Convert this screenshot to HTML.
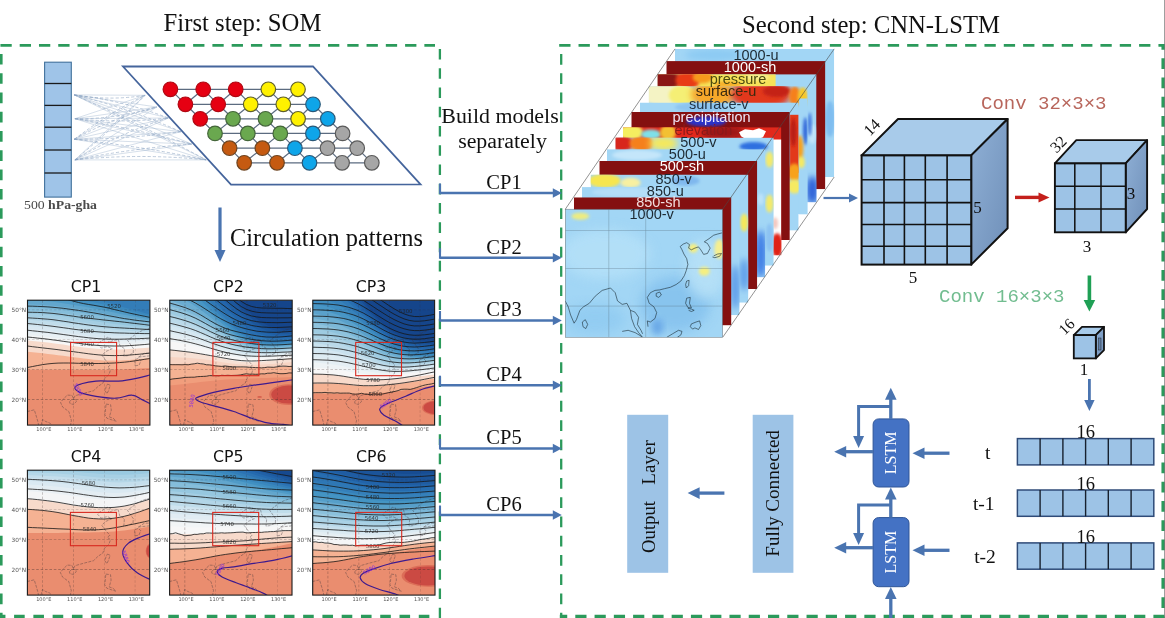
<!DOCTYPE html>
<html><head><meta charset="utf-8"><title>SOM and CNN-LSTM workflow</title>
<style>
html,body{margin:0;padding:0;background:#fff;}
body{width:1165px;height:618px;overflow:hidden;}
svg{display:block;}
.ts{font-family:"Liberation Serif",serif;fill:#111;}
.dj{font-family:"DejaVu Sans","Liberation Sans",sans-serif;fill:#111;}
.ls{font-family:"Liberation Sans",sans-serif;}
.mono{font-family:"Liberation Mono",monospace;}
</style></head><body>
<svg width="1165" height="618" viewBox="0 0 1165 618">
<!-- p_frame -->
<text class="ts" x="242.5" y="31" font-size="24.7" text-anchor="middle">First step: SOM</text>
<text class="ts" x="871" y="33" font-size="24.7" text-anchor="middle">Second step: CNN-LSTM</text>
<g fill="none" stroke="#2b9a5b">
<line x1="0" y1="45.3" x2="435" y2="45.3" stroke-width="2.7" stroke-dasharray="11.3 7.97" stroke-dashoffset="18.84"/>
<line x1="559.2" y1="45.3" x2="1165" y2="45.3" stroke-width="2.7" stroke-dasharray="11.3 8.03" stroke-dashoffset="0"/>
<line x1="1" y1="54" x2="1" y2="618" stroke-width="3.2" stroke-dasharray="10.6 8.67" stroke-dashoffset="0"/>
<line x1="0" y1="616.5" x2="430.2" y2="616.5" stroke-width="3.5" stroke-dasharray="10.6 8.67" stroke-dashoffset="5.17"/>
<line x1="559.8" y1="616.5" x2="1165" y2="616.5" stroke-width="3.5" stroke-dasharray="11.2 8.07" stroke-dashoffset="3.77"/>
<line x1="1163.3" y1="46" x2="1163.3" y2="618" stroke-width="3.7" stroke-dasharray="10.8 8.45" stroke-dashoffset="6.95"/>
<line x1="439.9" y1="48.9" x2="439.9" y2="618" stroke-width="2.3" stroke-dasharray="10.6 8.67" stroke-dashoffset="0"/>
<line x1="561.2" y1="54" x2="561.2" y2="618" stroke-width="2.3" stroke-dasharray="10.8 8.47" stroke-dashoffset="0"/>
</g>
<line x1="1164.6" y1="0" x2="1164.6" y2="618" stroke="#7a7a7a" stroke-width="0.8"/>
<text class="ts" x="500" y="122.6" font-size="21.9" text-anchor="middle">Build models</text>
<text class="ts" x="502.5" y="148" font-size="21.9" text-anchor="middle">separately</text>
<line x1="440" y1="193" x2="553.8" y2="193" stroke="#4a74b0" stroke-width="2.5"/><polygon points="561.8,193 552.8,188.25 552.8,197.75" fill="#4a74b0"/>
<line x1="440" y1="183.5" x2="440" y2="194" stroke="#4a74b0" stroke-width="2.1"/>
<text class="ts" x="504" y="188.7" font-size="20.5" text-anchor="middle">CP1</text>
<line x1="440" y1="257.8" x2="553.8" y2="257.8" stroke="#4a74b0" stroke-width="2.5"/><polygon points="561.8,257.8 552.8,253.05 552.8,262.55" fill="#4a74b0"/>
<line x1="440" y1="248.3" x2="440" y2="258.8" stroke="#4a74b0" stroke-width="2.1"/>
<text class="ts" x="504" y="253.5" font-size="20.5" text-anchor="middle">CP2</text>
<line x1="440" y1="320.5" x2="553.8" y2="320.5" stroke="#4a74b0" stroke-width="2.5"/><polygon points="561.8,320.5 552.8,315.75 552.8,325.25" fill="#4a74b0"/>
<line x1="440" y1="311" x2="440" y2="321.5" stroke="#4a74b0" stroke-width="2.1"/>
<text class="ts" x="504" y="316.2" font-size="20.5" text-anchor="middle">CP3</text>
<line x1="440" y1="385.2" x2="553.8" y2="385.2" stroke="#4a74b0" stroke-width="2.5"/><polygon points="561.8,385.2 552.8,380.45 552.8,389.95" fill="#4a74b0"/>
<line x1="440" y1="375.7" x2="440" y2="386.2" stroke="#4a74b0" stroke-width="2.1"/>
<text class="ts" x="504" y="380.9" font-size="20.5" text-anchor="middle">CP4</text>
<line x1="440" y1="448.5" x2="553.8" y2="448.5" stroke="#4a74b0" stroke-width="2.5"/><polygon points="561.8,448.5 552.8,443.75 552.8,453.25" fill="#4a74b0"/>
<line x1="440" y1="439" x2="440" y2="449.5" stroke="#4a74b0" stroke-width="2.1"/>
<text class="ts" x="504" y="444.2" font-size="20.5" text-anchor="middle">CP5</text>
<line x1="440" y1="515" x2="553.8" y2="515" stroke="#4a74b0" stroke-width="2.5"/><polygon points="561.8,515 552.8,510.25 552.8,519.75" fill="#4a74b0"/>
<line x1="440" y1="505.5" x2="440" y2="516" stroke="#4a74b0" stroke-width="2.1"/>
<text class="ts" x="504" y="510.7" font-size="20.5" text-anchor="middle">CP6</text>
<!-- p_som -->
<rect x="44.6" y="62.2" width="26.7" height="134.9" fill="#9fc4e8" stroke="#41719c" stroke-width="1.1"/>
<line x1="44.6" y1="83.5" x2="71.3" y2="83.5" stroke="#1a1a1a" stroke-width="1.3"/>
<line x1="44.6" y1="105.4" x2="71.3" y2="105.4" stroke="#1a1a1a" stroke-width="1.3"/>
<line x1="44.6" y1="127.2" x2="71.3" y2="127.2" stroke="#1a1a1a" stroke-width="1.3"/>
<line x1="44.6" y1="150" x2="71.3" y2="150" stroke="#1a1a1a" stroke-width="1.3"/>
<line x1="44.6" y1="173" x2="71.3" y2="173" stroke="#1a1a1a" stroke-width="1.3"/>
<text class="ts" x="24" y="208.6" font-size="12.8" style="fill:#4a4a4a" textLength="73" lengthAdjust="spacingAndGlyphs">500 <tspan font-weight="bold">hPa-gha</tspan></text>
<g fill="none" stroke="#8da6c6" stroke-width="0.5" opacity="0.9">
<path d="M74.2 94.9 L145.1 95.3" stroke-width="0.4"/>
<path d="M74.2 94.9 Q109.65 101.067 145.1 95.3" stroke="#6f8cb3" stroke-dasharray="3.2 2"/>
<path d="M74.2 94.9 L156.8 107" stroke-width="0.4"/>
<path d="M74.2 94.9 L168.4 118" stroke-width="0.4"/>
<path d="M74.2 94.9 Q121.3 100.089 168.4 118" stroke="#6f8cb3" stroke-dasharray="3.2 2"/>
<path d="M74.2 94.9 L180.8 131.7" stroke-width="0.4"/>
<path d="M74.2 94.9 Q127.5 107.704 180.8 131.7" stroke="#6f8cb3" stroke-dasharray="3.2 2"/>
<path d="M74.2 94.9 L191.8 144.1" stroke-width="0.4"/>
<path d="M74.2 94.9 L206.2 159.9" stroke-width="0.4"/>
<path d="M74.2 94.9 Q140.2 123.947 206.2 159.9" stroke="#6f8cb3" stroke-dasharray="3.2 2"/>
<path d="M74.9 118.7 L145.1 95.3" stroke-width="0.4"/>
<path d="M74.9 118.7 L156.8 107" stroke-width="0.4"/>
<path d="M74.9 118.7 Q115.85 119.324 156.8 107" stroke="#6f8cb3" stroke-dasharray="3.2 2"/>
<path d="M74.9 118.7 L168.4 118" stroke-width="0.4"/>
<path d="M74.9 118.7 Q121.65 123.525 168.4 118" stroke="#6f8cb3" stroke-dasharray="3.2 2"/>
<path d="M74.9 118.7 L180.8 131.7" stroke-width="0.4"/>
<path d="M74.9 118.7 L191.8 144.1" stroke-width="0.4"/>
<path d="M74.9 118.7 Q133.35 128.348 191.8 144.1" stroke="#6f8cb3" stroke-dasharray="3.2 2"/>
<path d="M74.9 118.7 L206.2 159.9" stroke-width="0.4"/>
<path d="M74.2 139.3 L145.1 95.3" stroke-width="0.4"/>
<path d="M74.2 139.3 Q109.65 112.667 145.1 95.3" stroke="#6f8cb3" stroke-dasharray="3.2 2"/>
<path d="M74.2 139.3 L156.8 107" stroke-width="0.4"/>
<path d="M74.2 139.3 Q115.5 116.485 156.8 107" stroke="#6f8cb3" stroke-dasharray="3.2 2"/>
<path d="M74.2 139.3 L168.4 118" stroke-width="0.4"/>
<path d="M74.2 139.3 L180.8 131.7" stroke-width="0.4"/>
<path d="M74.2 139.3 Q127.5 139.138 180.8 131.7" stroke="#6f8cb3" stroke-dasharray="3.2 2"/>
<path d="M74.2 139.3 L191.8 144.1" stroke-width="0.4"/>
<path d="M74.2 139.3 L206.2 159.9" stroke-width="0.4"/>
<path d="M74.2 139.3 Q140.2 146.045 206.2 159.9" stroke="#6f8cb3" stroke-dasharray="3.2 2"/>
<path d="M74.9 159.9 L145.1 95.3" stroke-width="0.4"/>
<path d="M74.9 159.9 Q110 131.107 145.1 95.3" stroke="#6f8cb3" stroke-dasharray="3.2 2"/>
<path d="M74.9 159.9 L156.8 107" stroke-width="0.4"/>
<path d="M74.9 159.9 L168.4 118" stroke-width="0.4"/>
<path d="M74.9 159.9 Q121.65 132.061 168.4 118" stroke="#6f8cb3" stroke-dasharray="3.2 2"/>
<path d="M74.9 159.9 L180.8 131.7" stroke-width="0.4"/>
<path d="M74.9 159.9 L191.8 144.1" stroke-width="0.4"/>
<path d="M74.9 159.9 Q133.35 148.162 191.8 144.1" stroke="#6f8cb3" stroke-dasharray="3.2 2"/>
<path d="M74.9 159.9 L206.2 159.9" stroke-width="0.4"/>
<path d="M74.9 159.9 Q140.55 153.059 206.2 159.9" stroke="#6f8cb3" stroke-dasharray="3.2 2"/>
</g>
<polygon points="123,66.5 313,66.5 420.5,184.3 231,184.6" fill="#fff" stroke="#45659c" stroke-width="1.8" stroke-linejoin="miter"/>
<g stroke="#5b6b80" stroke-width="1.2">
<line x1="170.4" y1="89.3" x2="298" y2="89.3"/>
<line x1="185.4" y1="104.3" x2="313" y2="104.3"/>
<line x1="200.2" y1="118.8" x2="327.8" y2="118.8"/>
<line x1="215" y1="133.4" x2="342.6" y2="133.4"/>
<line x1="229.6" y1="148.2" x2="357.2" y2="148.2"/>
<line x1="244.2" y1="162.8" x2="371.8" y2="162.8"/>
<line x1="170.4" y1="89.3" x2="185.4" y2="104.3"/>
<line x1="203.2" y1="89.3" x2="218.2" y2="104.3"/>
<line x1="203.2" y1="89.3" x2="185.4" y2="104.3"/>
<line x1="235.7" y1="89.3" x2="250.7" y2="104.3"/>
<line x1="235.7" y1="89.3" x2="218.2" y2="104.3"/>
<line x1="268.3" y1="89.3" x2="283.3" y2="104.3"/>
<line x1="268.3" y1="89.3" x2="250.7" y2="104.3"/>
<line x1="298" y1="89.3" x2="313" y2="104.3"/>
<line x1="298" y1="89.3" x2="283.3" y2="104.3"/>
<line x1="185.4" y1="104.3" x2="200.2" y2="118.8"/>
<line x1="218.2" y1="104.3" x2="233" y2="118.8"/>
<line x1="218.2" y1="104.3" x2="200.2" y2="118.8"/>
<line x1="250.7" y1="104.3" x2="265.5" y2="118.8"/>
<line x1="250.7" y1="104.3" x2="233" y2="118.8"/>
<line x1="283.3" y1="104.3" x2="298.1" y2="118.8"/>
<line x1="283.3" y1="104.3" x2="265.5" y2="118.8"/>
<line x1="313" y1="104.3" x2="327.8" y2="118.8"/>
<line x1="313" y1="104.3" x2="298.1" y2="118.8"/>
<line x1="200.2" y1="118.8" x2="215" y2="133.4"/>
<line x1="233" y1="118.8" x2="247.8" y2="133.4"/>
<line x1="233" y1="118.8" x2="215" y2="133.4"/>
<line x1="265.5" y1="118.8" x2="280.3" y2="133.4"/>
<line x1="265.5" y1="118.8" x2="247.8" y2="133.4"/>
<line x1="298.1" y1="118.8" x2="312.9" y2="133.4"/>
<line x1="298.1" y1="118.8" x2="280.3" y2="133.4"/>
<line x1="327.8" y1="118.8" x2="342.6" y2="133.4"/>
<line x1="327.8" y1="118.8" x2="312.9" y2="133.4"/>
<line x1="215" y1="133.4" x2="229.6" y2="148.2"/>
<line x1="247.8" y1="133.4" x2="262.4" y2="148.2"/>
<line x1="247.8" y1="133.4" x2="229.6" y2="148.2"/>
<line x1="280.3" y1="133.4" x2="294.9" y2="148.2"/>
<line x1="280.3" y1="133.4" x2="262.4" y2="148.2"/>
<line x1="312.9" y1="133.4" x2="327.5" y2="148.2"/>
<line x1="312.9" y1="133.4" x2="294.9" y2="148.2"/>
<line x1="342.6" y1="133.4" x2="357.2" y2="148.2"/>
<line x1="342.6" y1="133.4" x2="327.5" y2="148.2"/>
<line x1="229.6" y1="148.2" x2="244.2" y2="162.8"/>
<line x1="262.4" y1="148.2" x2="277" y2="162.8"/>
<line x1="262.4" y1="148.2" x2="244.2" y2="162.8"/>
<line x1="294.9" y1="148.2" x2="309.5" y2="162.8"/>
<line x1="294.9" y1="148.2" x2="277" y2="162.8"/>
<line x1="327.5" y1="148.2" x2="342.1" y2="162.8"/>
<line x1="327.5" y1="148.2" x2="309.5" y2="162.8"/>
<line x1="357.2" y1="148.2" x2="371.8" y2="162.8"/>
<line x1="357.2" y1="148.2" x2="342.1" y2="162.8"/>
</g>
<circle cx="170.4" cy="89.3" r="7.3" fill="#e60012" stroke="#b00812" stroke-width="1.2"/>
<circle cx="203.2" cy="89.3" r="7.3" fill="#e60012" stroke="#b00812" stroke-width="1.2"/>
<circle cx="235.7" cy="89.3" r="7.3" fill="#e60012" stroke="#b00812" stroke-width="1.2"/>
<circle cx="268.3" cy="89.3" r="7.3" fill="#fff100" stroke="#5f5f2a" stroke-width="1.2"/>
<circle cx="298" cy="89.3" r="7.3" fill="#fff100" stroke="#5f5f2a" stroke-width="1.2"/>
<circle cx="185.4" cy="104.3" r="7.3" fill="#e60012" stroke="#b00812" stroke-width="1.2"/>
<circle cx="218.2" cy="104.3" r="7.3" fill="#e60012" stroke="#b00812" stroke-width="1.2"/>
<circle cx="250.7" cy="104.3" r="7.3" fill="#fff100" stroke="#5f5f2a" stroke-width="1.2"/>
<circle cx="283.3" cy="104.3" r="7.3" fill="#fff100" stroke="#5f5f2a" stroke-width="1.2"/>
<circle cx="313" cy="104.3" r="7.3" fill="#0ea5e9" stroke="#2a5878" stroke-width="1.2"/>
<circle cx="200.2" cy="118.8" r="7.3" fill="#e60012" stroke="#b00812" stroke-width="1.2"/>
<circle cx="233" cy="118.8" r="7.3" fill="#6aa84f" stroke="#44663a" stroke-width="1.2"/>
<circle cx="265.5" cy="118.8" r="7.3" fill="#6aa84f" stroke="#44663a" stroke-width="1.2"/>
<circle cx="298.1" cy="118.8" r="7.3" fill="#fff100" stroke="#5f5f2a" stroke-width="1.2"/>
<circle cx="327.8" cy="118.8" r="7.3" fill="#0ea5e9" stroke="#2a5878" stroke-width="1.2"/>
<circle cx="215" cy="133.4" r="7.3" fill="#6aa84f" stroke="#44663a" stroke-width="1.2"/>
<circle cx="247.8" cy="133.4" r="7.3" fill="#6aa84f" stroke="#44663a" stroke-width="1.2"/>
<circle cx="280.3" cy="133.4" r="7.3" fill="#6aa84f" stroke="#44663a" stroke-width="1.2"/>
<circle cx="312.9" cy="133.4" r="7.3" fill="#0ea5e9" stroke="#2a5878" stroke-width="1.2"/>
<circle cx="342.6" cy="133.4" r="7.3" fill="#a6a6a6" stroke="#5a5a5a" stroke-width="1.2"/>
<circle cx="229.6" cy="148.2" r="7.3" fill="#c55a11" stroke="#6e4420" stroke-width="1.2"/>
<circle cx="262.4" cy="148.2" r="7.3" fill="#c55a11" stroke="#6e4420" stroke-width="1.2"/>
<circle cx="294.9" cy="148.2" r="7.3" fill="#0ea5e9" stroke="#2a5878" stroke-width="1.2"/>
<circle cx="327.5" cy="148.2" r="7.3" fill="#a6a6a6" stroke="#5a5a5a" stroke-width="1.2"/>
<circle cx="357.2" cy="148.2" r="7.3" fill="#a6a6a6" stroke="#5a5a5a" stroke-width="1.2"/>
<circle cx="244.2" cy="162.8" r="7.3" fill="#c55a11" stroke="#6e4420" stroke-width="1.2"/>
<circle cx="277" cy="162.8" r="7.3" fill="#c55a11" stroke="#6e4420" stroke-width="1.2"/>
<circle cx="309.5" cy="162.8" r="7.3" fill="#0ea5e9" stroke="#2a5878" stroke-width="1.2"/>
<circle cx="342.1" cy="162.8" r="7.3" fill="#a6a6a6" stroke="#5a5a5a" stroke-width="1.2"/>
<circle cx="371.8" cy="162.8" r="7.3" fill="#a6a6a6" stroke="#5a5a5a" stroke-width="1.2"/>
<line x1="220" y1="207.5" x2="220" y2="251" stroke="#4a74b0" stroke-width="3.2"/><polygon points="220,262 214.5,250 225.5,250" fill="#4a74b0"/>
<text class="ts" x="230" y="245.6" font-size="24.2" textLength="193" lengthAdjust="spacingAndGlyphs">Circulation patterns</text>
<!-- p_maps -->
<clipPath id="cCP1"><rect x="27.5" y="300.2" width="122.4" height="124.9"/></clipPath>
<g clip-path="url(#cCP1)">
<rect x="27.5" y="300.2" width="122.4" height="124.9" fill="#337db8"/>
<path d="M27.5 286.2 L32.6 286.8 L37.7 287.4 L42.8 288.1 L47.9 288.9 L53.0 289.8 L58.1 290.8 L63.2 292.0 L68.3 293.3 L73.4 294.5 L78.5 295.7 L83.6 296.9 L88.7 298.0 L93.8 299.2 L98.9 300.4 L104.0 301.7 L109.1 303.0 L114.2 304.4 L119.3 305.9 L124.4 307.4 L129.5 308.8 L134.6 310.2 L139.7 311.6 L144.8 313.0 L149.9 314.4 L149.9 427.1 L27.5 427.1 Z" fill="#3a87bd"/>
<path d="M27.5 290.7 L32.6 291.2 L37.7 291.7 L42.8 292.3 L47.9 293.0 L53.0 293.8 L58.1 294.7 L63.2 295.7 L68.3 296.8 L73.4 298.0 L78.5 299.1 L83.6 300.1 L88.7 301.2 L93.8 302.3 L98.9 303.4 L104.0 304.6 L109.1 305.9 L114.2 307.2 L119.3 308.5 L124.4 309.8 L129.5 311.1 L134.6 312.3 L139.7 313.6 L144.8 314.8 L149.9 316.0 L149.9 427.1 L27.5 427.1 Z" fill="#4190c2"/>
<path d="M27.5 295.2 L32.6 295.6 L37.7 296.0 L42.8 296.5 L47.9 297.1 L53.0 297.7 L58.1 298.6 L63.2 299.5 L68.3 300.4 L73.4 301.4 L78.5 302.4 L83.6 303.4 L88.7 304.4 L93.8 305.4 L98.9 306.4 L104.0 307.5 L109.1 308.7 L114.2 309.9 L119.3 311.1 L124.4 312.3 L129.5 313.4 L134.6 314.5 L139.7 315.5 L144.8 316.5 L149.9 317.5 L149.9 427.1 L27.5 427.1 Z" fill="#509bc7"/>
<path d="M27.5 299.7 L32.6 300.0 L37.7 300.4 L42.8 300.7 L47.9 301.2 L53.0 301.7 L58.1 302.4 L63.2 303.2 L68.3 304.0 L73.4 304.9 L78.5 305.7 L83.6 306.6 L88.7 307.5 L93.8 308.5 L98.9 309.5 L104.0 310.5 L109.1 311.6 L114.2 312.6 L119.3 313.7 L124.4 314.7 L129.5 315.7 L134.6 316.6 L139.7 317.4 L144.8 318.2 L149.9 319.0 L149.9 427.1 L27.5 427.1 Z" fill="#62a6cd"/>
<path d="M27.5 304.3 L32.6 304.5 L37.7 304.7 L42.8 304.9 L47.9 305.3 L53.0 305.7 L58.1 306.3 L63.2 306.9 L68.3 307.6 L73.4 308.3 L78.5 309.1 L83.6 309.9 L88.7 310.7 L93.8 311.6 L98.9 312.5 L104.0 313.4 L109.1 314.4 L114.2 315.4 L119.3 316.3 L124.4 317.2 L129.5 318.0 L134.6 318.7 L139.7 319.3 L144.8 319.9 L149.9 320.5 L149.9 427.1 L27.5 427.1 Z" fill="#73b2d4"/>
<path d="M27.5 307.4 L32.6 307.6 L37.7 307.8 L42.8 308.1 L47.9 308.5 L53.0 308.9 L58.1 309.5 L63.2 310.1 L68.3 310.8 L73.4 311.5 L78.5 312.3 L83.6 313.1 L88.7 313.9 L93.8 314.7 L98.9 315.5 L104.0 316.4 L109.1 317.3 L114.2 318.2 L119.3 319.1 L124.4 319.9 L129.5 320.6 L134.6 321.2 L139.7 321.7 L144.8 322.3 L149.9 322.7 L149.9 427.1 L27.5 427.1 Z" fill="#85bdda"/>
<path d="M27.5 310.4 L32.6 310.7 L37.7 311.0 L42.8 311.3 L47.9 311.6 L53.0 312.1 L58.1 312.7 L63.2 313.3 L68.3 314.0 L73.4 314.7 L78.5 315.5 L83.6 316.2 L88.7 317.0 L93.8 317.8 L98.9 318.6 L104.0 319.4 L109.1 320.3 L114.2 321.1 L119.3 321.9 L124.4 322.6 L129.5 323.2 L134.6 323.7 L139.7 324.1 L144.8 324.6 L149.9 325.0 L149.9 427.1 L27.5 427.1 Z" fill="#96c7df"/>
<path d="M27.5 313.5 L32.6 313.8 L37.7 314.1 L42.8 314.4 L47.9 314.8 L53.0 315.3 L58.1 315.9 L63.2 316.5 L68.3 317.2 L73.4 317.9 L78.5 318.7 L83.6 319.4 L88.7 320.2 L93.8 320.9 L98.9 321.7 L104.0 322.5 L109.1 323.2 L114.2 324.0 L119.3 324.6 L124.4 325.2 L129.5 325.8 L134.6 326.2 L139.7 326.6 L144.8 326.9 L149.9 327.2 L149.9 427.1 L27.5 427.1 Z" fill="#a4cee3"/>
<path d="M27.5 316.6 L32.6 316.9 L37.7 317.2 L42.8 317.6 L47.9 318.0 L53.0 318.5 L58.1 319.1 L63.2 319.7 L68.3 320.4 L73.4 321.1 L78.5 321.8 L83.6 322.6 L88.7 323.3 L93.8 324.0 L98.9 324.8 L104.0 325.5 L109.1 326.2 L114.2 326.8 L119.3 327.4 L124.4 327.9 L129.5 328.3 L134.6 328.7 L139.7 329.0 L144.8 329.2 L149.9 329.4 L149.9 427.1 L27.5 427.1 Z" fill="#b2d5e7"/>
<path d="M27.5 319.7 L32.6 320.0 L37.7 320.4 L42.8 320.8 L47.9 321.2 L53.0 321.7 L58.1 322.3 L63.2 322.9 L68.3 323.6 L73.4 324.3 L78.5 325.0 L83.6 325.7 L88.7 326.5 L93.8 327.2 L98.9 327.8 L104.0 328.5 L109.1 329.1 L114.2 329.7 L119.3 330.2 L124.4 330.6 L129.5 330.9 L134.6 331.2 L139.7 331.4 L144.8 331.5 L149.9 331.6 L149.9 427.1 L27.5 427.1 Z" fill="#c0ddeb"/>
<path d="M27.5 322.8 L32.6 323.2 L37.7 323.5 L42.8 323.9 L47.9 324.4 L53.0 324.9 L58.1 325.5 L63.2 326.1 L68.3 326.8 L73.4 327.5 L78.5 328.2 L83.6 328.9 L88.7 329.6 L93.8 330.3 L98.9 330.9 L104.0 331.5 L109.1 332.0 L114.2 332.5 L119.3 333.0 L124.4 333.3 L129.5 333.5 L134.6 333.7 L139.7 333.8 L144.8 333.8 L149.9 333.8 L149.9 427.1 L27.5 427.1 Z" fill="#cfe4ef"/>
<path d="M27.5 325.9 L32.6 326.3 L37.7 326.7 L42.8 327.1 L47.9 327.5 L53.0 328.1 L58.1 328.7 L63.2 329.3 L68.3 330.0 L73.4 330.7 L78.5 331.4 L83.6 332.1 L88.7 332.7 L93.8 333.4 L98.9 334.0 L104.0 334.5 L109.1 335.0 L114.2 335.4 L119.3 335.7 L124.4 336.0 L129.5 336.1 L134.6 336.2 L139.7 336.2 L144.8 336.1 L149.9 336.0 L149.9 427.1 L27.5 427.1 Z" fill="#d8e8f1"/>
<path d="M27.5 329.0 L32.6 329.4 L37.7 329.8 L42.8 330.2 L47.9 330.7 L53.0 331.3 L58.1 331.9 L63.2 332.5 L68.3 333.2 L73.4 333.9 L78.5 334.6 L83.6 335.3 L88.7 335.9 L93.8 336.5 L98.9 337.0 L104.0 337.5 L109.1 337.9 L114.2 338.3 L119.3 338.5 L124.4 338.7 L129.5 338.7 L134.6 338.7 L139.7 338.6 L144.8 338.4 L149.9 338.3 L149.9 427.1 L27.5 427.1 Z" fill="#e1ecf3"/>
<path d="M27.5 332.1 L32.6 332.5 L37.7 332.9 L42.8 333.4 L47.9 333.9 L53.0 334.5 L58.1 335.1 L63.2 335.7 L68.3 336.4 L73.4 337.1 L78.5 337.8 L83.6 338.4 L88.7 339.0 L93.8 339.6 L98.9 340.1 L104.0 340.5 L109.1 340.9 L114.2 341.1 L119.3 341.3 L124.4 341.3 L129.5 341.3 L134.6 341.2 L139.7 341.0 L144.8 340.7 L149.9 340.5 L149.9 427.1 L27.5 427.1 Z" fill="#e9f0f4"/>
<path d="M27.5 335.2 L32.6 335.6 L37.7 336.1 L42.8 336.6 L47.9 337.1 L53.0 337.7 L58.1 338.3 L63.2 338.9 L68.3 339.6 L73.4 340.3 L78.5 341.0 L83.6 341.6 L88.7 342.2 L93.8 342.7 L98.9 343.2 L104.0 343.5 L109.1 343.8 L114.2 344.0 L119.3 344.0 L124.4 344.0 L129.5 343.9 L134.6 343.7 L139.7 343.4 L144.8 343.0 L149.9 342.7 L149.9 427.1 L27.5 427.1 Z" fill="#f2f5f6"/>
<path d="M27.5 338.3 L32.6 338.7 L37.7 339.2 L42.8 339.7 L47.9 340.3 L53.0 340.8 L58.1 341.5 L63.2 342.1 L68.3 342.8 L73.4 343.5 L78.5 344.1 L83.6 344.8 L88.7 345.3 L93.8 345.8 L98.9 346.3 L104.0 346.6 L109.1 346.8 L114.2 346.8 L119.3 346.8 L124.4 346.7 L129.5 346.5 L134.6 346.1 L139.7 345.8 L144.8 345.3 L149.9 344.9 L149.9 427.1 L27.5 427.1 Z" fill="#f7f7f7"/>
<path d="M27.5 340.4 L32.6 340.9 L37.7 341.5 L42.8 342.0 L47.9 342.6 L53.0 343.2 L58.1 343.9 L63.2 344.6 L68.3 345.4 L73.4 346.1 L78.5 346.8 L83.6 347.4 L88.7 348.0 L93.8 348.5 L98.9 348.9 L104.0 349.1 L109.1 349.3 L114.2 349.4 L119.3 349.4 L124.4 349.3 L129.5 349.0 L134.6 348.7 L139.7 348.3 L144.8 347.9 L149.9 347.4 L149.9 427.1 L27.5 427.1 Z" fill="#f7dacb"/>
<path d="M27.5 351.7 L32.6 352.2 L37.7 352.8 L42.8 353.3 L47.9 353.9 L53.0 354.5 L58.1 355.2 L63.2 355.8 L68.3 356.5 L73.4 357.2 L78.5 357.8 L83.6 358.5 L88.7 359.1 L93.8 359.7 L98.9 360.1 L104.0 360.4 L109.1 360.6 L114.2 360.6 L119.3 360.6 L124.4 360.3 L129.5 360.0 L134.6 359.6 L139.7 359.1 L144.8 358.6 L149.9 358.0 L149.9 427.1 L27.5 427.1 Z" fill="#f5b293"/>
<path d="M27.5 369.8 L32.6 369.8 L37.7 369.8 L42.8 369.8 L47.9 369.8 L53.0 369.8 L58.1 369.8 L63.2 369.8 L68.3 369.8 L73.4 369.8 L78.5 369.8 L83.6 369.8 L88.7 369.8 L93.8 369.8 L98.9 369.8 L104.0 369.7 L109.1 369.7 L114.2 369.6 L119.3 369.5 L124.4 369.4 L129.5 369.1 L134.6 368.9 L139.7 368.6 L144.8 368.3 L149.9 368.0 L149.9 427.1 L27.5 427.1 Z" fill="#ea8d6f"/>
<g stroke="#3a2a2a" stroke-width="0.5" stroke-dasharray="2.6 1.8">
<line x1="42.7" y1="300.2" x2="42.7" y2="425.1" opacity="0.55"/>
<line x1="73.6" y1="300.2" x2="73.6" y2="425.1" opacity="0.45"/>
<line x1="104.5" y1="300.2" x2="104.5" y2="425.1" opacity="0.35"/>
<line x1="135.3" y1="300.2" x2="135.3" y2="425.1" opacity="0.3"/>
<line x1="27.5" y1="309.8" x2="149.9" y2="309.8" opacity="0.3"/>
<line x1="27.5" y1="339.5" x2="149.9" y2="339.5" opacity="0.35"/>
<line x1="27.5" y1="369.6" x2="149.9" y2="369.6" opacity="0.55"/>
<line x1="27.5" y1="399.6" x2="149.9" y2="399.6" opacity="0.8"/>
</g>
<g fill="none" stroke="#3f363c" stroke-width="0.5" stroke-dasharray="3 1.2" opacity="0.8">
<path d="M166.3 314.3 L157.0 321.8 L150.8 327.8 L143.1 330.2 L137.5 332.8 L134.4 335.2 L127.6 340.3 L130.1 343.9 L133.5 348.7 L133.2 353.2 L127.6 355.6 L123.9 356.2 L124.6 348.7 L119.9 345.7 L118.4 339.7 L113.7 340.3 L108.2 342.7 L110.6 338.2 L107.6 337.3 L99.8 342.1 L97.7 344.2 L101.4 348.1 L107.6 346.6 L112.2 348.7 L105.4 351.7 L102.0 355.3 L106.0 360.7 L110.0 365.2 L107.6 367.3 L110.6 369.7 L109.1 374.2 L104.5 378.7 L102.9 383.2 L98.3 386.2 L93.6 390.7 L84.4 393.1 L75.1 395.7 L73.6 398.7 L72.0 395.4 L67.4 395.1 L62.7 399.6 L60.6 402.6 L62.7 407.1 L68.9 411.6 L71.4 420.6 L70.5 425.1"/>
<path d="M69.5 401.7 L72.0 399.3 L76.0 399.6 L76.3 401.7 L73.6 404.4 L70.2 403.8 L69.5 401.7"/>
<path d="M107.6 384.1 L110.3 385.3 L108.5 390.7 L106.9 393.7 L105.1 390.7 L106.3 386.2 L107.6 384.1"/>
<path d="M106.0 404.1 L110.6 404.7 L111.3 410.1 L109.4 417.0 L113.1 418.2 L116.2 421.2 L112.2 420.0 L106.9 418.2 L104.8 414.6 L105.4 411.0 L106.0 404.1"/>
<path d="M135.1 365.8 L139.1 365.2 L140.9 360.7 L138.5 358.3 L134.8 359.8 L135.1 365.8"/>
<path d="M138.5 357.1 L143.1 356.5 L149.3 355.9 L151.4 353.2 L144.6 353.2 L138.5 357.1"/>
<path d="M27.2 411.6 L34.3 409.8 L35.8 414.6 L38.0 422.1 L38.6 425.1"/>
<path d="M41.1 425.1 L42.6 419.4 L45.7 421.5 L49.8 423.0 L51.9 425.1"/>
</g>
<g fill="none" stroke="#161616" stroke-width="0.8">
<path d="M27.5 288.5 L32.6 289.5 L37.7 290.5 L42.8 291.7 L47.9 292.9 L53.0 294.4 L58.1 296.1 L63.2 297.8 L68.3 299.6 L73.4 301.2 L78.5 302.5 L83.6 303.6 L88.7 304.5 L93.8 305.3 L98.9 306.2 L104.0 307.1 L109.1 308.2 L114.2 309.5 L119.3 310.7 L124.4 311.9 L129.5 313.1 L134.6 314.2 L139.7 315.3 L144.8 316.3 L149.9 317.4"/>
<path d="M27.5 306.1 L32.6 306.2 L37.7 306.4 L42.8 306.6 L47.9 306.9 L53.0 307.3 L58.1 307.8 L63.2 308.3 L68.3 309.0 L73.4 309.7 L78.5 310.4 L83.6 311.2 L88.7 312.1 L93.8 312.9 L98.9 313.8 L104.0 314.8 L109.1 315.8 L114.2 316.7 L119.3 317.7 L124.4 318.6 L129.5 319.3 L134.6 320.1 L139.7 320.7 L144.8 321.3 L149.9 321.9"/>
<path d="M27.5 312.2 L32.6 312.3 L37.7 312.4 L42.8 312.6 L47.9 313.0 L53.0 313.4 L58.1 314.0 L63.2 314.7 L68.3 315.5 L73.4 316.2 L78.5 317.0 L83.6 317.6 L88.7 318.3 L93.8 318.8 L98.9 319.4 L104.0 320.0 L109.1 320.5 L114.2 321.1 L119.3 321.6 L124.4 322.2 L129.5 322.8 L134.6 323.4 L139.7 324.0 L144.8 324.6 L149.9 325.3"/>
<path d="M27.5 317.8 L32.6 318.1 L37.7 318.4 L42.8 318.8 L47.9 319.2 L53.0 319.7 L58.1 320.4 L63.2 321.2 L68.3 321.9 L73.4 322.8 L78.5 323.5 L83.6 324.3 L88.7 325.0 L93.8 325.6 L98.9 326.2 L104.0 326.7 L109.1 327.1 L114.2 327.5 L119.3 327.8 L124.4 328.1 L129.5 328.4 L134.6 328.7 L139.7 329.0 L144.8 329.3 L149.9 329.6"/>
<path d="M27.5 323.5 L32.6 324.0 L37.7 324.5 L42.8 325.1 L47.9 325.7 L53.0 326.3 L58.1 327.0 L63.2 327.7 L68.3 328.4 L73.4 329.2 L78.5 329.8 L83.6 330.4 L88.7 331.0 L93.8 331.5 L98.9 331.9 L104.0 332.3 L109.1 332.5 L114.2 332.8 L119.3 333.0 L124.4 333.1 L129.5 333.3 L134.6 333.4 L139.7 333.5 L144.8 333.6 L149.9 333.6"/>
<path d="M27.5 330.2 L32.6 330.8 L37.7 331.3 L42.8 331.9 L47.9 332.4 L53.0 333.1 L58.1 333.8 L63.2 334.5 L68.3 335.2 L73.4 335.9 L78.5 336.6 L83.6 337.2 L88.7 337.8 L93.8 338.3 L98.9 338.7 L104.0 339.0 L109.1 339.1 L114.2 339.2 L119.3 339.2 L124.4 339.1 L129.5 338.9 L134.6 338.8 L139.7 338.6 L144.8 338.4 L149.9 338.1"/>
<path d="M27.5 337.0 L32.6 337.5 L37.7 338.1 L42.8 338.6 L47.9 339.2 L53.0 339.9 L58.1 340.5 L63.2 341.3 L68.3 342.0 L73.4 342.7 L78.5 343.4 L83.6 344.0 L88.7 344.6 L93.8 345.1 L98.9 345.5 L104.0 345.8 L109.1 345.9 L114.2 346.0 L119.3 346.0 L124.4 345.9 L129.5 345.6 L134.6 345.3 L139.7 344.9 L144.8 344.5 L149.9 344.0"/>
<path d="M27.5 346.0 L32.6 346.7 L37.7 347.3 L42.8 347.9 L47.9 348.5 L53.0 349.1 L58.1 349.7 L63.2 350.4 L68.3 351.1 L73.4 351.7 L78.5 352.4 L83.6 353.1 L88.7 353.8 L93.8 354.4 L98.9 354.9 L104.0 355.3 L109.1 355.5 L114.2 355.6 L119.3 355.5 L124.4 355.4 L129.5 355.1 L134.6 354.6 L139.7 354.2 L144.8 353.6 L149.9 353.1"/>
<path d="M27.5 367.5 L32.6 366.5 L37.7 365.5 L42.8 364.6 L47.9 363.9 L53.0 363.4 L58.1 363.1 L63.2 363.0 L68.3 363.0 L73.4 363.1 L78.5 363.3 L83.6 363.4 L88.7 363.4 L93.8 363.5 L98.9 363.5 L104.0 363.4 L109.1 363.2 L114.2 363.0 L119.3 362.6 L124.4 362.2 L129.5 361.6 L134.6 360.9 L139.7 360.1 L144.8 359.3 L149.9 358.5"/>
</g>
<path d="M149.9 375.0 C147.7 375.5 141.7 377.3 136.4 378.3 C131.2 379.4 125.2 380.6 118.5 381.1 C111.7 381.5 102.2 380.6 96.0 381.1 C89.8 381.5 84.9 382.7 81.4 383.8 C77.9 384.8 75.1 386.0 74.9 387.4 C74.6 388.8 76.3 390.8 79.8 392.4 C83.3 393.9 89.9 395.4 96.0 396.4 C102.1 397.4 110.2 398.4 116.2 398.2 C122.2 398.0 127.6 394.8 131.9 395.1 C136.2 395.3 138.9 398.1 142.0 399.6 C145.2 401.1 149.5 403.3 151.0 404.1" fill="none" stroke="#3d1a8e" stroke-width="1.2"/>
<text class="dj" x="87.0" y="319.4" font-size="5.4" text-anchor="middle" style="fill:#222" opacity="0.85">5600</text>
<text class="dj" x="87.0" y="332.5" font-size="5.4" text-anchor="middle" style="fill:#222" opacity="0.85">5680</text>
<text class="dj" x="87.0" y="346.0" font-size="5.4" text-anchor="middle" style="fill:#222" opacity="0.85">5760</text>
<text class="dj" x="87.0" y="365.7" font-size="5.4" text-anchor="middle" style="fill:#222" opacity="0.85">5840</text>
<text class="dj" x="114.0" y="308.1" font-size="5.4" text-anchor="middle" style="fill:#222" opacity="0.85">5520</text>
<text class="dj" x="78.5" y="391.6" font-size="5.2" text-anchor="middle" transform="rotate(60 78.5 389.6)" style="fill:#8a2be2">5880</text>
<rect x="70.6" y="342.4" width="46.0" height="33.3" fill="none" stroke="#d8281f" stroke-width="1.1"/>
</g>
<rect x="27.5" y="300.2" width="122.4" height="124.9" fill="none" stroke="#1a1a1a" stroke-width="1.1"/>
<text class="dj" x="86.1" y="292.0" font-size="15.8" text-anchor="middle">CP1</text>
<text class="dj" x="26.2" y="311.8" font-size="5.8" text-anchor="end" style="fill:#555">50°N</text>
<text class="dj" x="26.2" y="341.5" font-size="5.8" text-anchor="end" style="fill:#555">40°N</text>
<text class="dj" x="26.2" y="371.6" font-size="5.8" text-anchor="end" style="fill:#555">30°N</text>
<text class="dj" x="26.2" y="401.6" font-size="5.8" text-anchor="end" style="fill:#555">20°N</text>
<text class="dj" x="43.9" y="430.6" font-size="5" text-anchor="middle" style="fill:#555">100°E</text>
<text class="dj" x="74.8" y="430.6" font-size="5" text-anchor="middle" style="fill:#555">110°E</text>
<text class="dj" x="105.7" y="430.6" font-size="5" text-anchor="middle" style="fill:#555">120°E</text>
<text class="dj" x="136.5" y="430.6" font-size="5" text-anchor="middle" style="fill:#555">130°E</text>
<clipPath id="cCP2"><rect x="169.8" y="300.2" width="122.4" height="124.9"/></clipPath>
<g clip-path="url(#cCP2)">
<rect x="169.8" y="300.2" width="122.4" height="124.9" fill="#15458b"/>
<path d="M169.8 224.0 L174.9 228.7 L180.0 233.4 L185.1 238.4 L190.2 243.5 L195.3 249.0 L200.4 254.9 L205.5 261.1 L210.6 267.5 L215.7 273.9 L220.8 280.3 L225.9 286.6 L231.0 292.8 L236.1 298.7 L241.2 304.3 L246.3 309.5 L251.4 314.3 L256.5 318.5 L261.6 322.1 L266.7 325.0 L271.8 327.1 L276.9 328.5 L282.0 329.4 L287.1 329.9 L292.2 330.3 L292.2 427.1 L169.8 427.1 Z" fill="#184d93"/>
<path d="M169.8 231.0 L174.9 235.5 L180.0 240.1 L185.1 244.8 L190.2 249.8 L195.3 255.2 L200.4 260.9 L205.5 267.0 L210.6 273.2 L215.7 279.5 L220.8 285.8 L225.9 292.0 L231.0 298.0 L236.1 303.6 L241.2 309.0 L246.3 313.9 L251.4 318.2 L256.5 322.1 L261.6 325.3 L266.7 327.8 L271.8 329.6 L276.9 330.7 L282.0 331.5 L287.1 331.8 L292.2 332.1 L292.2 427.1 L169.8 427.1 Z" fill="#1c569c"/>
<path d="M169.8 238.0 L174.9 242.3 L180.0 246.7 L185.1 251.2 L190.2 256.1 L195.3 261.3 L200.4 266.9 L205.5 272.9 L210.6 279.0 L215.7 285.2 L220.8 291.4 L225.9 297.4 L231.0 303.2 L236.1 308.6 L241.2 313.7 L246.3 318.2 L251.4 322.2 L256.5 325.6 L261.6 328.4 L266.7 330.5 L271.8 332.0 L276.9 333.0 L282.0 333.5 L287.1 333.8 L292.2 333.9 L292.2 427.1 L169.8 427.1 Z" fill="#1f5ea4"/>
<path d="M169.8 244.9 L174.9 249.1 L180.0 253.3 L185.1 257.7 L190.2 262.4 L195.3 267.5 L200.4 273.0 L205.5 278.8 L210.6 284.8 L215.7 290.8 L220.8 296.9 L225.9 302.7 L231.0 308.4 L236.1 313.6 L241.2 318.4 L246.3 322.6 L251.4 326.2 L256.5 329.1 L261.6 331.5 L266.7 333.3 L271.8 334.5 L276.9 335.2 L282.0 335.6 L287.1 335.7 L292.2 335.7 L292.2 427.1 L169.8 427.1 Z" fill="#2366ac"/>
<path d="M169.8 251.9 L174.9 255.8 L180.0 259.9 L185.1 264.1 L190.2 268.7 L195.3 273.6 L200.4 279.0 L205.5 284.6 L210.6 290.5 L215.7 296.5 L220.8 302.4 L225.9 308.1 L231.0 313.6 L236.1 318.6 L241.2 323.1 L246.3 326.9 L251.4 330.1 L256.5 332.7 L261.6 334.6 L266.7 336.0 L271.8 336.9 L276.9 337.4 L282.0 337.6 L287.1 337.6 L292.2 337.4 L292.2 427.1 L169.8 427.1 Z" fill="#296fb1"/>
<path d="M169.8 258.9 L174.9 262.6 L180.0 266.5 L185.1 270.6 L190.2 275.0 L195.3 279.7 L200.4 285.0 L205.5 290.5 L210.6 296.3 L215.7 302.1 L220.8 307.9 L225.9 313.5 L231.0 318.8 L236.1 323.6 L241.2 327.8 L246.3 331.3 L251.4 334.1 L256.5 336.2 L261.6 337.8 L266.7 338.8 L271.8 339.4 L276.9 339.7 L282.0 339.7 L287.1 339.5 L292.2 339.2 L292.2 427.1 L169.8 427.1 Z" fill="#3079b6"/>
<path d="M169.8 265.8 L174.9 269.4 L180.0 273.1 L185.1 277.0 L190.2 281.2 L195.3 285.9 L200.4 291.0 L205.5 296.4 L210.6 302.1 L215.7 307.8 L220.8 313.4 L225.9 318.9 L231.0 324.0 L236.1 328.6 L241.2 332.5 L246.3 335.7 L251.4 338.0 L256.5 339.7 L261.6 340.9 L266.7 341.5 L271.8 341.9 L276.9 341.9 L282.0 341.7 L287.1 341.4 L292.2 341.0 L292.2 427.1 L169.8 427.1 Z" fill="#3782bb"/>
<path d="M169.8 272.7 L174.9 275.9 L180.0 279.3 L185.1 282.8 L190.2 286.7 L195.3 291.0 L200.4 295.7 L205.5 300.7 L210.6 305.9 L215.7 311.2 L220.8 316.5 L225.9 321.6 L231.0 326.3 L236.1 330.6 L241.2 334.3 L246.3 337.3 L251.4 339.5 L256.5 341.1 L261.6 342.1 L266.7 342.7 L271.8 343.0 L276.9 343.0 L282.0 342.8 L287.1 342.4 L292.2 342.0 L292.2 427.1 L169.8 427.1 Z" fill="#3e8cc0"/>
<path d="M169.8 279.6 L174.9 282.5 L180.0 285.5 L185.1 288.7 L190.2 292.2 L195.3 296.0 L200.4 300.3 L205.5 305.0 L210.6 309.8 L215.7 314.7 L220.8 319.6 L225.9 324.3 L231.0 328.7 L236.1 332.7 L241.2 336.1 L246.3 338.9 L251.4 340.9 L256.5 342.4 L261.6 343.4 L266.7 343.9 L271.8 344.1 L276.9 344.1 L282.0 343.8 L287.1 343.4 L292.2 343.0 L292.2 427.1 L169.8 427.1 Z" fill="#4896c5"/>
<path d="M169.8 286.4 L174.9 289.0 L180.0 291.7 L185.1 294.5 L190.2 297.6 L195.3 301.1 L200.4 305.0 L205.5 309.2 L210.6 313.7 L215.7 318.2 L220.8 322.6 L225.9 327.0 L231.0 331.1 L236.1 334.7 L241.2 337.9 L246.3 340.5 L251.4 342.4 L256.5 343.8 L261.6 344.6 L266.7 345.1 L271.8 345.3 L276.9 345.2 L282.0 344.9 L287.1 344.4 L292.2 343.9 L292.2 427.1 L169.8 427.1 Z" fill="#5aa1cb"/>
<path d="M169.8 293.3 L174.9 295.5 L180.0 297.9 L185.1 300.3 L190.2 303.1 L195.3 306.2 L200.4 309.7 L205.5 313.5 L210.6 317.5 L215.7 321.6 L220.8 325.7 L225.9 329.7 L231.0 333.4 L236.1 336.8 L241.2 339.7 L246.3 342.1 L251.4 343.9 L256.5 345.1 L261.6 345.9 L266.7 346.3 L271.8 346.4 L276.9 346.3 L282.0 345.9 L287.1 345.4 L292.2 344.9 L292.2 427.1 L169.8 427.1 Z" fill="#6badd1"/>
<path d="M169.8 300.2 L174.9 302.1 L180.0 304.0 L185.1 306.2 L190.2 308.6 L195.3 311.3 L200.4 314.4 L205.5 317.8 L210.6 321.4 L215.7 325.1 L220.8 328.8 L225.9 332.4 L231.0 335.8 L236.1 338.9 L241.2 341.5 L246.3 343.7 L251.4 345.3 L256.5 346.4 L261.6 347.2 L266.7 347.5 L271.8 347.5 L276.9 347.3 L282.0 347.0 L287.1 346.4 L292.2 345.9 L292.2 427.1 L169.8 427.1 Z" fill="#7db8d7"/>
<path d="M169.8 305.8 L174.9 307.4 L180.0 309.1 L185.1 311.0 L190.2 313.2 L195.3 315.6 L200.4 318.4 L205.5 321.5 L210.6 324.8 L215.7 328.2 L220.8 331.6 L225.9 334.9 L231.0 338.0 L236.1 340.8 L241.2 343.2 L246.3 345.2 L251.4 346.7 L256.5 347.7 L261.6 348.3 L266.7 348.6 L271.8 348.6 L276.9 348.4 L282.0 347.9 L287.1 347.4 L292.2 346.8 L292.2 427.1 L169.8 427.1 Z" fill="#8fc3dd"/>
<path d="M169.8 309.8 L174.9 311.3 L180.0 312.9 L185.1 314.7 L190.2 316.7 L195.3 319.0 L200.4 321.7 L205.5 324.6 L210.6 327.7 L215.7 330.9 L220.8 334.1 L225.9 337.1 L231.0 340.0 L236.1 342.6 L241.2 344.8 L246.3 346.6 L251.4 347.9 L256.5 348.8 L261.6 349.4 L266.7 349.6 L271.8 349.5 L276.9 349.2 L282.0 348.8 L287.1 348.3 L292.2 347.6 L292.2 427.1 L169.8 427.1 Z" fill="#9ecbe1"/>
<path d="M169.8 313.7 L174.9 315.2 L180.0 316.7 L185.1 318.4 L190.2 320.3 L195.3 322.4 L200.4 325.0 L205.5 327.7 L210.6 330.6 L215.7 333.6 L220.8 336.6 L225.9 339.4 L231.0 342.0 L236.1 344.4 L241.2 346.4 L246.3 348.0 L251.4 349.2 L256.5 350.0 L261.6 350.4 L266.7 350.6 L271.8 350.5 L276.9 350.1 L282.0 349.7 L287.1 349.1 L292.2 348.5 L292.2 427.1 L169.8 427.1 Z" fill="#acd2e5"/>
<path d="M169.8 317.7 L174.9 319.1 L180.0 320.5 L185.1 322.0 L190.2 323.8 L195.3 325.9 L200.4 328.2 L205.5 330.8 L210.6 333.6 L215.7 336.3 L220.8 339.1 L225.9 341.6 L231.0 344.0 L236.1 346.2 L241.2 348.0 L246.3 349.4 L251.4 350.4 L256.5 351.1 L261.6 351.5 L266.7 351.5 L271.8 351.4 L276.9 351.0 L282.0 350.6 L287.1 350.0 L292.2 349.4 L292.2 427.1 L169.8 427.1 Z" fill="#bad9e9"/>
<path d="M169.8 321.7 L174.9 322.9 L180.0 324.2 L185.1 325.7 L190.2 327.3 L195.3 329.3 L200.4 331.5 L205.5 333.9 L210.6 336.5 L215.7 339.0 L220.8 341.5 L225.9 343.9 L231.0 346.1 L236.1 348.0 L241.2 349.6 L246.3 350.8 L251.4 351.7 L256.5 352.2 L261.6 352.5 L266.7 352.5 L271.8 352.3 L276.9 351.9 L282.0 351.4 L287.1 350.9 L292.2 350.2 L292.2 427.1 L169.8 427.1 Z" fill="#c8e1ee"/>
<path d="M169.8 325.7 L174.9 326.8 L180.0 328.0 L185.1 329.4 L190.2 330.9 L195.3 332.7 L200.4 334.7 L205.5 337.0 L210.6 339.4 L215.7 341.7 L220.8 344.0 L225.9 346.2 L231.0 348.1 L236.1 349.8 L241.2 351.1 L246.3 352.2 L251.4 352.9 L256.5 353.4 L261.6 353.5 L266.7 353.5 L271.8 353.2 L276.9 352.8 L282.0 352.3 L287.1 351.7 L292.2 351.1 L292.2 427.1 L169.8 427.1 Z" fill="#d4e7f1"/>
<path d="M169.8 329.6 L174.9 330.6 L180.0 331.7 L185.1 333.0 L190.2 334.4 L195.3 336.0 L200.4 337.9 L205.5 340.0 L210.6 342.1 L215.7 344.3 L220.8 346.4 L225.9 348.3 L231.0 350.1 L236.1 351.6 L241.2 352.8 L246.3 353.7 L251.4 354.3 L256.5 354.6 L261.6 354.7 L266.7 354.6 L271.8 354.3 L276.9 353.8 L282.0 353.3 L287.1 352.7 L292.2 352.0 L292.2 427.1 L169.8 427.1 Z" fill="#ddebf2"/>
<path d="M169.8 333.5 L174.9 334.4 L180.0 335.4 L185.1 336.6 L190.2 337.8 L195.3 339.3 L200.4 341.0 L205.5 342.9 L210.6 344.9 L215.7 346.8 L220.8 348.7 L225.9 350.5 L231.0 352.0 L236.1 353.4 L241.2 354.5 L246.3 355.2 L251.4 355.7 L256.5 355.9 L261.6 355.9 L266.7 355.7 L271.8 355.3 L276.9 354.8 L282.0 354.2 L287.1 353.6 L292.2 353.0 L292.2 427.1 L169.8 427.1 Z" fill="#e5eff4"/>
<path d="M169.8 337.4 L174.9 338.2 L180.0 339.2 L185.1 340.2 L190.2 341.3 L195.3 342.7 L200.4 344.2 L205.5 345.9 L210.6 347.6 L215.7 349.4 L220.8 351.1 L225.9 352.6 L231.0 354.0 L236.1 355.2 L241.2 356.1 L246.3 356.8 L251.4 357.1 L256.5 357.2 L261.6 357.0 L266.7 356.7 L271.8 356.3 L276.9 355.8 L282.0 355.2 L287.1 354.6 L292.2 353.9 L292.2 427.1 L169.8 427.1 Z" fill="#eef3f5"/>
<path d="M169.8 341.3 L174.9 342.0 L180.0 342.9 L185.1 343.8 L190.2 344.8 L195.3 346.0 L200.4 347.3 L205.5 348.8 L210.6 350.4 L215.7 351.9 L220.8 353.4 L225.9 354.8 L231.0 356.0 L236.1 357.0 L241.2 357.8 L246.3 358.3 L251.4 358.5 L256.5 358.5 L261.6 358.2 L266.7 357.8 L271.8 357.4 L276.9 356.8 L282.0 356.2 L287.1 355.5 L292.2 354.8 L292.2 427.1 L169.8 427.1 Z" fill="#f7f7f7"/>
<path d="M169.8 350.0 L174.9 350.5 L180.0 351.1 L185.1 351.7 L190.2 352.4 L195.3 353.1 L200.4 354.0 L205.5 355.0 L210.6 356.0 L215.7 357.1 L220.8 358.2 L225.9 359.3 L231.0 360.3 L236.1 361.1 L241.2 361.7 L246.3 362.1 L251.4 362.2 L256.5 362.0 L261.6 361.7 L266.7 361.2 L271.8 360.6 L276.9 360.0 L282.0 359.3 L287.1 358.5 L292.2 357.7 L292.2 427.1 L169.8 427.1 Z" fill="#f7e1d5"/>
<path d="M169.8 357.1 L174.9 357.3 L180.0 357.5 L185.1 357.7 L190.2 358.0 L195.3 358.4 L200.4 359.0 L205.5 359.6 L210.6 360.3 L215.7 361.1 L220.8 361.9 L225.9 362.7 L231.0 363.4 L236.1 364.0 L241.2 364.5 L246.3 364.8 L251.4 364.9 L256.5 364.8 L261.6 364.6 L266.7 364.3 L271.8 363.9 L276.9 363.4 L282.0 363.0 L287.1 362.4 L292.2 361.9 L292.2 427.1 L169.8 427.1 Z" fill="#f7d4c3"/>
<path d="M169.8 364.3 L174.9 364.1 L180.0 363.9 L185.1 363.7 L190.2 363.7 L195.3 363.7 L200.4 364.0 L205.5 364.3 L210.6 364.7 L215.7 365.2 L220.8 365.7 L225.9 366.2 L231.0 366.6 L236.1 366.9 L241.2 367.2 L246.3 367.4 L251.4 367.5 L256.5 367.5 L261.6 367.5 L266.7 367.3 L271.8 367.1 L276.9 366.9 L282.0 366.7 L287.1 366.4 L292.2 366.1 L292.2 427.1 L169.8 427.1 Z" fill="#f5b293"/>
<path d="M169.8 379.3 L174.9 378.7 L180.0 378.2 L185.1 377.8 L190.2 377.3 L195.3 376.9 L200.4 376.6 L205.5 376.3 L210.6 376.0 L215.7 375.8 L220.8 375.6 L225.9 375.4 L231.0 375.2 L236.1 375.0 L241.2 374.8 L246.3 374.6 L251.4 374.4 L256.5 374.3 L261.6 374.1 L266.7 373.9 L271.8 373.7 L276.9 373.4 L282.0 373.2 L287.1 372.9 L292.2 372.7 L292.2 427.1 L169.8 427.1 Z" fill="#f19e7d"/>
<path d="M169.8 385.6 L174.9 385.0 L180.0 384.5 L185.1 383.9 L190.2 383.3 L195.3 382.7 L200.4 382.1 L205.5 381.5 L210.6 381.0 L215.7 380.4 L220.8 380.0 L225.9 379.6 L231.0 379.3 L236.1 379.1 L241.2 378.9 L246.3 378.7 L251.4 378.5 L256.5 378.3 L261.6 378.1 L266.7 377.9 L271.8 377.7 L276.9 377.6 L282.0 377.4 L287.1 377.2 L292.2 377.0 L292.2 427.1 L169.8 427.1 Z" fill="#ea8d6f"/>
<ellipse cx="288.8" cy="394.6" rx="19.6" ry="10.4" fill="#dc6e58"/>
<ellipse cx="288.8" cy="394.6" rx="17.5" ry="9.0" fill="#cb4a43"/>
<ellipse cx="259.6" cy="396.9" rx="2.5" ry="1.0" fill="#e58268"/>
<ellipse cx="259.6" cy="396.9" rx="2.2" ry="0.9" fill="#d6604d"/>
<g stroke="#3a2a2a" stroke-width="0.5" stroke-dasharray="2.6 1.8">
<line x1="185.0" y1="300.2" x2="185.0" y2="425.1" opacity="0.55"/>
<line x1="215.9" y1="300.2" x2="215.9" y2="425.1" opacity="0.45"/>
<line x1="246.8" y1="300.2" x2="246.8" y2="425.1" opacity="0.35"/>
<line x1="277.6" y1="300.2" x2="277.6" y2="425.1" opacity="0.3"/>
<line x1="169.8" y1="309.8" x2="292.2" y2="309.8" opacity="0.3"/>
<line x1="169.8" y1="339.5" x2="292.2" y2="339.5" opacity="0.35"/>
<line x1="169.8" y1="369.6" x2="292.2" y2="369.6" opacity="0.55"/>
<line x1="169.8" y1="399.6" x2="292.2" y2="399.6" opacity="0.8"/>
</g>
<g fill="none" stroke="#3f363c" stroke-width="0.5" stroke-dasharray="3 1.2" opacity="0.8">
<path d="M308.6 314.3 L299.3 321.8 L293.1 327.8 L285.4 330.2 L279.8 332.8 L276.7 335.2 L269.9 340.3 L272.4 343.9 L275.8 348.7 L275.5 353.2 L269.9 355.6 L266.2 356.2 L266.9 348.7 L262.2 345.7 L260.7 339.7 L256.0 340.3 L250.5 342.7 L252.9 338.2 L249.9 337.3 L242.1 342.1 L240.0 344.2 L243.7 348.1 L249.9 346.6 L254.5 348.7 L247.7 351.7 L244.3 355.3 L248.3 360.7 L252.3 365.2 L249.9 367.3 L252.9 369.7 L251.4 374.2 L246.8 378.7 L245.2 383.2 L240.6 386.2 L235.9 390.7 L226.7 393.1 L217.4 395.7 L215.9 398.7 L214.3 395.4 L209.7 395.1 L205.0 399.6 L202.9 402.6 L205.0 407.1 L211.2 411.6 L213.7 420.6 L212.8 425.1"/>
<path d="M211.8 401.7 L214.3 399.3 L218.3 399.6 L218.6 401.7 L215.9 404.4 L212.5 403.8 L211.8 401.7"/>
<path d="M249.9 384.1 L252.6 385.3 L250.8 390.7 L249.2 393.7 L247.4 390.7 L248.6 386.2 L249.9 384.1"/>
<path d="M248.3 404.1 L252.9 404.7 L253.6 410.1 L251.7 417.0 L255.4 418.2 L258.5 421.2 L254.5 420.0 L249.2 418.2 L247.1 414.6 L247.7 411.0 L248.3 404.1"/>
<path d="M277.4 365.8 L281.4 365.2 L283.2 360.7 L280.8 358.3 L277.1 359.8 L277.4 365.8"/>
<path d="M280.8 357.1 L285.4 356.5 L291.6 355.9 L293.7 353.2 L286.9 353.2 L280.8 357.1"/>
<path d="M169.5 411.6 L176.6 409.8 L178.1 414.6 L180.3 422.1 L180.9 425.1"/>
<path d="M183.4 425.1 L184.9 419.4 L188.0 421.5 L192.1 423.0 L194.2 425.1"/>
</g>
<g fill="none" stroke="#161616" stroke-width="0.8">
<path d="M169.8 241.0 L174.9 244.1 L180.0 247.3 L185.1 250.5 L190.2 254.0 L195.3 257.6 L200.4 261.5 L205.5 265.7 L210.6 270.2 L215.7 275.1 L220.8 280.5 L225.9 286.2 L231.0 291.8 L236.1 296.9 L241.2 301.3 L246.3 304.4 L251.4 306.4 L256.5 307.5 L261.6 308.0 L266.7 308.1 L271.8 308.2 L276.9 308.3 L282.0 308.3 L287.1 308.5 L292.2 308.6"/>
<path d="M169.8 251.4 L174.9 254.2 L180.0 257.1 L185.1 260.1 L190.2 263.2 L195.3 266.7 L200.4 270.4 L205.5 274.4 L210.6 278.7 L215.7 283.3 L220.8 288.2 L225.9 293.2 L231.0 298.2 L236.1 302.7 L241.2 306.5 L246.3 309.3 L251.4 311.1 L256.5 312.2 L261.6 312.7 L266.7 312.9 L271.8 313.0 L276.9 313.1 L282.0 313.1 L287.1 313.1 L292.2 313.1"/>
<path d="M169.8 261.7 L174.9 264.2 L180.0 266.8 L185.1 269.6 L190.2 272.5 L195.3 275.7 L200.4 279.3 L205.5 283.1 L210.6 287.1 L215.7 291.4 L220.8 295.8 L225.9 300.3 L231.0 304.6 L236.1 308.5 L241.2 311.8 L246.3 314.2 L251.4 315.9 L256.5 316.9 L261.6 317.5 L266.7 317.7 L271.8 317.8 L276.9 317.9 L282.0 317.8 L287.1 317.8 L292.2 317.7"/>
<path d="M169.8 272.1 L174.9 274.3 L180.0 276.6 L185.1 279.1 L190.2 281.8 L195.3 284.8 L200.4 288.2 L205.5 291.8 L210.6 295.6 L215.7 299.5 L220.8 303.5 L225.9 307.3 L231.0 311.0 L236.1 314.2 L241.2 317.0 L246.3 319.1 L251.4 320.6 L256.5 321.6 L261.6 322.2 L266.7 322.5 L271.8 322.6 L276.9 322.7 L282.0 322.6 L287.1 322.4 L292.2 322.2"/>
<path d="M169.8 282.4 L174.9 284.4 L180.0 286.4 L185.1 288.6 L190.2 291.1 L195.3 293.9 L200.4 297.0 L205.5 300.5 L210.6 304.1 L215.7 307.7 L220.8 311.1 L225.9 314.4 L231.0 317.4 L236.1 320.0 L241.2 322.2 L246.3 324.0 L251.4 325.4 L256.5 326.3 L261.6 327.0 L266.7 327.3 L271.8 327.5 L276.9 327.5 L282.0 327.3 L287.1 327.1 L292.2 326.8"/>
<path d="M169.8 292.8 L174.9 294.4 L180.0 296.2 L185.1 298.1 L190.2 300.3 L195.3 302.9 L200.4 305.9 L205.5 309.2 L210.6 312.5 L215.7 315.8 L220.8 318.8 L225.9 321.4 L231.0 323.8 L236.1 325.8 L241.2 327.5 L246.3 328.9 L251.4 330.1 L256.5 331.1 L261.6 331.7 L266.7 332.1 L271.8 332.3 L276.9 332.3 L282.0 332.0 L287.1 331.7 L292.2 331.3"/>
<path d="M169.8 303.1 L174.9 304.5 L180.0 306.0 L185.1 307.6 L190.2 309.6 L195.3 312.0 L200.4 314.8 L205.5 317.9 L210.6 321.0 L215.7 323.9 L220.8 326.4 L225.9 328.5 L231.0 330.2 L236.1 331.5 L241.2 332.7 L246.3 333.8 L251.4 334.9 L256.5 335.8 L261.6 336.5 L266.7 337.0 L271.8 337.1 L276.9 337.1 L282.0 336.8 L287.1 336.4 L292.2 335.9"/>
<path d="M169.8 309.7 L174.9 311.0 L180.0 312.4 L185.1 314.0 L190.2 315.9 L195.3 318.1 L200.4 320.7 L205.5 323.5 L210.6 326.4 L215.7 329.0 L220.8 331.4 L225.9 333.3 L231.0 334.9 L236.1 336.2 L241.2 337.3 L246.3 338.4 L251.4 339.3 L256.5 340.1 L261.6 340.7 L266.7 341.0 L271.8 341.2 L276.9 341.1 L282.0 340.9 L287.1 340.5 L292.2 340.1"/>
<path d="M169.8 316.5 L174.9 317.7 L180.0 319.1 L185.1 320.6 L190.2 322.3 L195.3 324.3 L200.4 326.6 L205.5 329.1 L210.6 331.7 L215.7 334.1 L220.8 336.2 L225.9 338.0 L231.0 339.5 L236.1 340.8 L241.2 341.8 L246.3 342.7 L251.4 343.5 L256.5 344.2 L261.6 344.7 L266.7 344.9 L271.8 345.0 L276.9 344.9 L282.0 344.7 L287.1 344.4 L292.2 344.0"/>
<path d="M169.8 323.2 L174.9 324.4 L180.0 325.7 L185.1 327.1 L190.2 328.6 L195.3 330.4 L200.4 332.5 L205.5 334.7 L210.6 337.0 L215.7 339.1 L220.8 341.0 L225.9 342.7 L231.0 344.1 L236.1 345.3 L241.2 346.2 L246.3 347.1 L251.4 347.7 L256.5 348.2 L261.6 348.6 L266.7 348.8 L271.8 348.8 L276.9 348.7 L282.0 348.5 L287.1 348.2 L292.2 347.9"/>
<path d="M169.8 330.7 L174.9 331.8 L180.0 332.9 L185.1 334.1 L190.2 335.5 L195.3 337.0 L200.4 338.8 L205.5 340.7 L210.6 342.6 L215.7 344.4 L220.8 346.1 L225.9 347.6 L231.0 348.9 L236.1 349.9 L241.2 350.8 L246.3 351.5 L251.4 352.0 L256.5 352.4 L261.6 352.6 L266.7 352.7 L271.8 352.6 L276.9 352.5 L282.0 352.2 L287.1 352.0 L292.2 351.7"/>
<path d="M169.8 338.6 L174.9 339.5 L180.0 340.4 L185.1 341.4 L190.2 342.5 L195.3 343.8 L200.4 345.2 L205.5 346.7 L210.6 348.2 L215.7 349.7 L220.8 351.1 L225.9 352.4 L231.0 353.5 L236.1 354.4 L241.2 355.2 L246.3 355.8 L251.4 356.1 L256.5 356.3 L261.6 356.3 L266.7 356.2 L271.8 356.1 L276.9 355.9 L282.0 355.6 L287.1 355.4 L292.2 355.1"/>
<path d="M169.8 349.9 L174.9 350.4 L180.0 351.0 L185.1 351.6 L190.2 352.2 L195.3 353.0 L200.4 353.8 L205.5 354.7 L210.6 355.6 L215.7 356.5 L220.8 357.5 L225.9 358.4 L231.0 359.3 L236.1 360.0 L241.2 360.6 L246.3 360.9 L251.4 361.0 L256.5 360.9 L261.6 360.6 L266.7 360.3 L271.8 360.0 L276.9 359.7 L282.0 359.4 L287.1 359.0 L292.2 358.7"/>
<path d="M169.8 364.6 L172.9 364.7 L175.9 364.7 L179.0 364.7 L182.0 364.8 L185.1 364.6 L188.2 364.8 L191.2 364.2 L194.3 363.8 L197.3 363.2 L200.4 363.7 L203.5 364.0 L206.5 364.8 L209.6 364.9 L212.6 365.3 L215.7 365.9 L218.8 366.2 L221.8 366.4 L224.9 365.9 L227.9 366.3 L231.0 366.8 L234.1 367.0 L237.1 366.9 L240.2 366.9 L243.2 366.9 L246.3 367.0 L249.4 367.3 L252.4 367.4 L255.5 367.6 L258.5 367.7 L261.6 367.9 L264.7 367.6 L267.7 367.1 L270.8 367.2 L273.8 367.3 L276.9 366.8 L280.0 366.3 L283.0 366.1 L286.1 366.2 L289.1 366.5 L292.2 366.3"/>
<path d="M169.8 379.5 L172.9 378.9 L175.9 378.6 L179.0 378.3 L182.0 377.9 L185.1 377.4 L188.2 377.3 L191.2 377.2 L194.3 377.2 L197.3 376.7 L200.4 376.5 L203.5 376.4 L206.5 376.2 L209.6 375.6 L212.6 375.7 L215.7 375.6 L218.8 375.8 L221.8 375.3 L224.9 375.5 L227.9 375.3 L231.0 375.5 L234.1 375.4 L237.1 375.3 L240.2 375.0 L243.2 374.3 L246.3 373.8 L249.4 374.2 L252.4 374.1 L255.5 374.3 L258.5 374.2 L261.6 373.8 L264.7 373.9 L267.7 373.2 L270.8 373.2 L273.8 372.7 L276.9 373.3 L280.0 373.7 L283.0 373.7 L286.1 373.5 L289.1 372.9 L292.2 373.0"/>
</g>
<path d="M293.3 379.7 C290.1 380.2 280.4 381.5 274.2 382.4 C268.1 383.3 263.0 383.9 256.3 384.9 C249.5 385.9 240.9 387.0 233.8 388.3 C226.7 389.5 219.2 391.0 213.6 392.4 C208.0 393.7 203.1 395.4 200.1 396.4 C197.1 397.5 195.4 397.7 195.6 398.7 C195.8 399.7 197.9 401.0 201.2 402.3 C204.6 403.6 210.4 404.8 215.8 406.4 C221.3 407.9 227.8 409.6 233.8 411.5 C239.8 413.5 246.2 416.4 251.8 418.3 C257.4 420.2 262.3 421.8 267.5 422.8 C272.7 423.9 278.7 423.9 283.2 424.4 C287.7 425.0 292.6 425.9 294.4 426.2" fill="none" stroke="#3d1a8e" stroke-width="1.2"/>
<text class="dj" x="222.6" y="332.2" font-size="5.4" text-anchor="middle" style="fill:#222" opacity="0.85">5560</text>
<text class="dj" x="223.7" y="339.7" font-size="5.4" text-anchor="middle" style="fill:#222" opacity="0.85">5640</text>
<text class="dj" x="223.7" y="356.4" font-size="5.4" text-anchor="middle" style="fill:#222" opacity="0.85">5720</text>
<text class="dj" x="229.3" y="370.0" font-size="5.4" text-anchor="middle" style="fill:#222" opacity="0.85">5800</text>
<text class="dj" x="269.7" y="307.4" font-size="5.4" text-anchor="middle" style="fill:#222" opacity="0.85">5320</text>
<text class="dj" x="239.4" y="324.8" font-size="5.4" text-anchor="middle" style="fill:#222" opacity="0.85">5480</text>
<text class="dj" x="191.6" y="402.9" font-size="5.2" text-anchor="middle" transform="rotate(-80 191.6 400.9)" style="fill:#8a2be2">5880</text>
<rect x="212.9" y="342.4" width="46.0" height="33.3" fill="none" stroke="#d8281f" stroke-width="1.1"/>
</g>
<rect x="169.8" y="300.2" width="122.4" height="124.9" fill="none" stroke="#1a1a1a" stroke-width="1.1"/>
<text class="dj" x="228.4" y="292.0" font-size="15.8" text-anchor="middle">CP2</text>
<text class="dj" x="168.5" y="311.8" font-size="5.8" text-anchor="end" style="fill:#555">50°N</text>
<text class="dj" x="168.5" y="341.5" font-size="5.8" text-anchor="end" style="fill:#555">40°N</text>
<text class="dj" x="168.5" y="371.6" font-size="5.8" text-anchor="end" style="fill:#555">30°N</text>
<text class="dj" x="168.5" y="401.6" font-size="5.8" text-anchor="end" style="fill:#555">20°N</text>
<text class="dj" x="186.2" y="430.6" font-size="5" text-anchor="middle" style="fill:#555">100°E</text>
<text class="dj" x="217.1" y="430.6" font-size="5" text-anchor="middle" style="fill:#555">110°E</text>
<text class="dj" x="248.0" y="430.6" font-size="5" text-anchor="middle" style="fill:#555">120°E</text>
<text class="dj" x="278.8" y="430.6" font-size="5" text-anchor="middle" style="fill:#555">130°E</text>
<clipPath id="cCP3"><rect x="312.8" y="300.2" width="121.8" height="124.9"/></clipPath>
<g clip-path="url(#cCP3)">
<rect x="312.8" y="300.2" width="121.8" height="124.9" fill="#15458b"/>
<path d="M312.8 230.7 L317.9 237.3 L322.9 244.0 L328.0 250.7 L333.1 257.6 L338.2 264.7 L343.2 271.9 L348.3 279.3 L353.4 286.6 L358.5 293.8 L363.6 300.8 L368.6 307.5 L373.7 313.7 L378.8 319.4 L383.9 324.5 L388.9 328.7 L394.0 332.3 L399.1 335.1 L404.1 337.3 L409.2 339.0 L414.3 340.3 L419.4 341.2 L424.4 341.8 L429.5 342.2 L434.6 342.6 L434.6 427.1 L312.8 427.1 Z" fill="#184d93"/>
<path d="M312.8 239.9 L317.9 245.8 L322.9 251.8 L328.0 257.8 L333.1 264.0 L338.2 270.4 L343.2 277.1 L348.3 283.8 L353.4 290.6 L358.5 297.4 L363.6 304.0 L368.6 310.4 L373.7 316.3 L378.8 321.8 L383.9 326.7 L388.9 330.9 L394.0 334.4 L399.1 337.1 L404.1 339.3 L409.2 341.0 L414.3 342.2 L419.4 343.0 L424.4 343.6 L429.5 344.0 L434.6 344.2 L434.6 427.1 L312.8 427.1 Z" fill="#1c569c"/>
<path d="M312.8 249.1 L317.9 254.3 L322.9 259.5 L328.0 264.9 L333.1 270.4 L338.2 276.2 L343.2 282.2 L348.3 288.4 L353.4 294.7 L358.5 301.0 L363.6 307.2 L368.6 313.2 L373.7 319.0 L378.8 324.3 L383.9 329.0 L388.9 333.1 L394.0 336.5 L399.1 339.2 L404.1 341.3 L409.2 342.9 L414.3 344.1 L419.4 344.9 L424.4 345.4 L429.5 345.7 L434.6 345.9 L434.6 427.1 L312.8 427.1 Z" fill="#1f5ea4"/>
<path d="M312.8 258.3 L317.9 262.8 L322.9 267.3 L328.0 272.0 L333.1 276.8 L338.2 281.9 L343.2 287.3 L348.3 293.0 L353.4 298.7 L358.5 304.6 L363.6 310.4 L368.6 316.1 L373.7 321.6 L378.8 326.7 L383.9 331.3 L388.9 335.3 L394.0 338.6 L399.1 341.2 L404.1 343.3 L409.2 344.9 L414.3 346.0 L419.4 346.7 L424.4 347.2 L429.5 347.4 L434.6 347.6 L434.6 427.1 L312.8 427.1 Z" fill="#2366ac"/>
<path d="M312.8 267.6 L317.9 271.3 L322.9 275.1 L328.0 279.0 L333.1 283.2 L338.2 287.7 L343.2 292.4 L348.3 297.5 L353.4 302.8 L358.5 308.2 L363.6 313.6 L368.6 319.0 L373.7 324.2 L378.8 329.1 L383.9 333.6 L388.9 337.4 L394.0 340.6 L399.1 343.3 L404.1 345.3 L409.2 346.9 L414.3 347.9 L419.4 348.6 L424.4 349.0 L429.5 349.2 L434.6 349.3 L434.6 427.1 L312.8 427.1 Z" fill="#296fb1"/>
<path d="M312.8 276.8 L317.9 279.8 L322.9 282.8 L328.0 286.1 L333.1 289.6 L338.2 293.4 L343.2 297.6 L348.3 302.1 L353.4 306.8 L358.5 311.8 L363.6 316.8 L368.6 321.9 L373.7 326.9 L378.8 331.6 L383.9 335.9 L388.9 339.6 L394.0 342.7 L399.1 345.3 L404.1 347.3 L409.2 348.8 L414.3 349.9 L419.4 350.5 L424.4 350.8 L429.5 350.9 L434.6 350.9 L434.6 427.1 L312.8 427.1 Z" fill="#3079b6"/>
<path d="M312.8 286.0 L317.9 288.3 L322.9 290.6 L328.0 293.2 L333.1 296.0 L338.2 299.1 L343.2 302.7 L348.3 306.6 L353.4 310.9 L358.5 315.3 L363.6 320.0 L368.6 324.8 L373.7 329.5 L378.8 334.0 L383.9 338.2 L388.9 341.8 L394.0 344.8 L399.1 347.4 L404.1 349.3 L409.2 350.8 L414.3 351.8 L419.4 352.3 L424.4 352.6 L429.5 352.7 L434.6 352.6 L434.6 427.1 L312.8 427.1 Z" fill="#3782bb"/>
<path d="M312.8 295.2 L317.9 296.7 L322.9 298.4 L328.0 300.2 L333.1 302.4 L338.2 304.9 L343.2 307.8 L348.3 311.2 L353.4 314.9 L358.5 318.9 L363.6 323.2 L368.6 327.7 L373.7 332.1 L378.8 336.4 L383.9 340.4 L388.9 344.0 L394.0 346.9 L399.1 349.4 L404.1 351.3 L409.2 352.8 L414.3 353.7 L419.4 354.2 L424.4 354.4 L429.5 354.4 L434.6 354.3 L434.6 427.1 L312.8 427.1 Z" fill="#3e8cc0"/>
<path d="M312.8 303.5 L317.9 304.4 L322.9 305.5 L328.0 306.8 L333.1 308.4 L338.2 310.4 L343.2 312.8 L348.3 315.7 L353.4 319.0 L358.5 322.6 L363.6 326.6 L368.6 330.7 L373.7 334.9 L378.8 339.0 L383.9 342.8 L388.9 346.2 L394.0 349.1 L399.1 351.4 L404.1 353.3 L409.2 354.6 L414.3 355.5 L419.4 355.9 L424.4 356.0 L429.5 356.0 L434.6 355.8 L434.6 427.1 L312.8 427.1 Z" fill="#4896c5"/>
<path d="M312.8 308.3 L317.9 309.3 L322.9 310.4 L328.0 311.6 L333.1 313.2 L338.2 315.1 L343.2 317.4 L348.3 320.2 L353.4 323.3 L358.5 326.7 L363.6 330.5 L368.6 334.4 L373.7 338.4 L378.8 342.2 L383.9 345.7 L388.9 348.8 L394.0 351.3 L399.1 353.4 L404.1 354.9 L409.2 356.0 L414.3 356.7 L419.4 357.0 L424.4 357.1 L429.5 356.9 L434.6 356.7 L434.6 427.1 L312.8 427.1 Z" fill="#5aa1cb"/>
<path d="M312.8 313.2 L317.9 314.2 L322.9 315.3 L328.0 316.5 L333.1 318.0 L338.2 319.8 L343.2 322.0 L348.3 324.6 L353.4 327.6 L358.5 330.8 L363.6 334.4 L368.6 338.1 L373.7 341.8 L378.8 345.3 L383.9 348.6 L388.9 351.3 L394.0 353.6 L399.1 355.3 L404.1 356.6 L409.2 357.4 L414.3 357.9 L419.4 358.1 L424.4 358.1 L429.5 357.9 L434.6 357.6 L434.6 427.1 L312.8 427.1 Z" fill="#6badd1"/>
<path d="M312.8 318.1 L317.9 319.1 L322.9 320.1 L328.0 321.3 L333.1 322.8 L338.2 324.5 L343.2 326.6 L348.3 329.1 L353.4 331.9 L358.5 334.9 L363.6 338.2 L368.6 341.7 L373.7 345.2 L378.8 348.5 L383.9 351.5 L388.9 353.9 L394.0 355.8 L399.1 357.2 L404.1 358.2 L409.2 358.8 L414.3 359.2 L419.4 359.2 L424.4 359.1 L429.5 358.9 L434.6 358.5 L434.6 427.1 L312.8 427.1 Z" fill="#7db8d7"/>
<path d="M312.8 323.0 L317.9 324.0 L322.9 325.0 L328.0 326.2 L333.1 327.6 L338.2 329.2 L343.2 331.2 L348.3 333.6 L353.4 336.2 L358.5 339.0 L363.6 342.1 L368.6 345.4 L373.7 348.6 L378.8 351.6 L383.9 354.3 L388.9 356.5 L394.0 358.1 L399.1 359.2 L404.1 359.9 L409.2 360.3 L414.3 360.4 L419.4 360.3 L424.4 360.1 L429.5 359.8 L434.6 359.5 L434.6 427.1 L312.8 427.1 Z" fill="#8fc3dd"/>
<path d="M312.8 327.9 L317.9 328.9 L322.9 329.9 L328.0 331.0 L333.1 332.4 L338.2 334.0 L343.2 335.8 L348.3 338.0 L353.4 340.4 L358.5 343.1 L363.6 346.0 L368.6 349.0 L373.7 352.0 L378.8 354.8 L383.9 357.2 L388.9 359.0 L394.0 360.3 L399.1 361.1 L404.1 361.5 L409.2 361.7 L414.3 361.6 L419.4 361.4 L424.4 361.1 L429.5 360.8 L434.6 360.4 L434.6 427.1 L312.8 427.1 Z" fill="#9ecbe1"/>
<path d="M312.8 332.8 L317.9 333.7 L322.9 334.7 L328.0 335.9 L333.1 337.2 L338.2 338.7 L343.2 340.4 L348.3 342.5 L353.4 344.7 L358.5 347.2 L363.6 349.9 L368.6 352.7 L373.7 355.4 L378.8 357.9 L383.9 360.1 L388.9 361.6 L394.0 362.6 L399.1 363.1 L404.1 363.2 L409.2 363.1 L414.3 362.9 L419.4 362.5 L424.4 362.2 L429.5 361.7 L434.6 361.3 L434.6 427.1 L312.8 427.1 Z" fill="#acd2e5"/>
<path d="M312.8 337.7 L317.9 338.6 L322.9 339.6 L328.0 340.7 L333.1 341.9 L338.2 343.4 L343.2 345.0 L348.3 346.9 L353.4 349.0 L358.5 351.3 L363.6 353.7 L368.6 356.3 L373.7 358.8 L378.8 361.0 L383.9 362.8 L388.9 364.1 L394.0 364.7 L399.1 365.0 L404.1 364.8 L409.2 364.5 L414.3 364.1 L419.4 363.7 L424.4 363.2 L429.5 362.8 L434.6 362.3 L434.6 427.1 L312.8 427.1 Z" fill="#bad9e9"/>
<path d="M312.8 342.6 L317.9 343.5 L322.9 344.3 L328.0 345.3 L333.1 346.4 L338.2 347.7 L343.2 349.3 L348.3 351.0 L353.4 352.9 L358.5 354.9 L363.6 357.1 L368.6 359.3 L373.7 361.5 L378.8 363.4 L383.9 364.9 L388.9 365.9 L394.0 366.4 L399.1 366.5 L404.1 366.3 L409.2 366.0 L414.3 365.6 L419.4 365.1 L424.4 364.6 L429.5 364.2 L434.6 363.7 L434.6 427.1 L312.8 427.1 Z" fill="#c8e1ee"/>
<path d="M312.8 347.6 L317.9 348.3 L322.9 349.1 L328.0 349.9 L333.1 350.9 L338.2 352.1 L343.2 353.5 L348.3 355.1 L353.4 356.8 L358.5 358.6 L363.6 360.5 L368.6 362.4 L373.7 364.2 L378.8 365.7 L383.9 367.0 L388.9 367.7 L394.0 368.1 L399.1 368.1 L404.1 367.8 L409.2 367.5 L414.3 367.0 L419.4 366.6 L424.4 366.1 L429.5 365.6 L434.6 365.1 L434.6 427.1 L312.8 427.1 Z" fill="#d4e7f1"/>
<path d="M312.8 352.5 L317.9 353.1 L322.9 353.8 L328.0 354.5 L333.1 355.4 L338.2 356.5 L343.2 357.7 L348.3 359.2 L353.4 360.7 L358.5 362.3 L363.6 363.9 L368.6 365.5 L373.7 366.9 L378.8 368.1 L383.9 369.0 L388.9 369.6 L394.0 369.7 L399.1 369.6 L404.1 369.3 L409.2 368.9 L414.3 368.5 L419.4 368.0 L424.4 367.5 L429.5 367.0 L434.6 366.5 L434.6 427.1 L312.8 427.1 Z" fill="#ddebf2"/>
<path d="M312.8 357.5 L317.9 358.0 L322.9 358.5 L328.0 359.1 L333.1 359.9 L338.2 360.8 L343.2 362.0 L348.3 363.3 L353.4 364.6 L358.5 366.0 L363.6 367.3 L368.6 368.5 L373.7 369.6 L378.8 370.5 L383.9 371.1 L388.9 371.4 L394.0 371.4 L399.1 371.2 L404.1 370.9 L409.2 370.4 L414.3 369.9 L419.4 369.4 L424.4 368.9 L429.5 368.4 L434.6 367.9 L434.6 427.1 L312.8 427.1 Z" fill="#e5eff4"/>
<path d="M312.8 362.4 L317.9 362.8 L322.9 363.2 L328.0 363.8 L333.1 364.4 L338.2 365.2 L343.2 366.2 L348.3 367.4 L353.4 368.5 L358.5 369.7 L363.6 370.7 L368.6 371.6 L373.7 372.3 L378.8 372.8 L383.9 373.1 L388.9 373.2 L394.0 373.1 L399.1 372.8 L404.1 372.4 L409.2 371.9 L414.3 371.4 L419.4 370.9 L424.4 370.3 L429.5 369.8 L434.6 369.3 L434.6 427.1 L312.8 427.1 Z" fill="#eef3f5"/>
<path d="M312.8 367.4 L317.9 367.7 L322.9 368.0 L328.0 368.4 L333.1 368.9 L338.2 369.6 L343.2 370.5 L348.3 371.4 L353.4 372.4 L358.5 373.4 L363.6 374.1 L368.6 374.7 L373.7 375.0 L378.8 375.2 L383.9 375.2 L388.9 375.0 L394.0 374.7 L399.1 374.3 L404.1 373.9 L409.2 373.3 L414.3 372.8 L419.4 372.3 L424.4 371.7 L429.5 371.2 L434.6 370.7 L434.6 427.1 L312.8 427.1 Z" fill="#f7f7f7"/>
<path d="M312.8 374.1 L317.9 374.2 L322.9 374.3 L328.0 374.6 L333.1 374.9 L338.2 375.5 L343.2 376.2 L348.3 377.1 L353.4 377.9 L358.5 378.7 L363.6 379.3 L368.6 379.6 L373.7 379.8 L378.8 379.7 L383.9 379.6 L388.9 379.3 L394.0 378.9 L399.1 378.5 L404.1 378.0 L409.2 377.4 L414.3 376.9 L419.4 376.3 L424.4 375.7 L429.5 375.1 L434.6 374.5 L434.6 427.1 L312.8 427.1 Z" fill="#f7dacb"/>
<path d="M312.8 383.8 L317.9 383.7 L322.9 383.6 L328.0 383.5 L333.1 383.6 L338.2 383.9 L343.2 384.3 L348.3 384.8 L353.4 385.4 L358.5 385.8 L363.6 386.1 L368.6 386.2 L373.7 386.1 L378.8 385.9 L383.9 385.5 L388.9 385.1 L394.0 384.5 L399.1 383.9 L404.1 383.2 L409.2 382.5 L414.3 381.7 L419.4 380.9 L424.4 380.1 L429.5 379.2 L434.6 378.4 L434.6 427.1 L312.8 427.1 Z" fill="#f5b293"/>
<path d="M312.8 393.6 L317.9 393.6 L322.9 393.6 L328.0 393.6 L333.1 393.6 L338.2 393.6 L343.2 393.6 L348.3 393.6 L353.4 393.7 L358.5 393.6 L363.6 393.6 L368.6 393.5 L373.7 393.3 L378.8 393.0 L383.9 392.7 L388.9 392.2 L394.0 391.6 L399.1 391.0 L404.1 390.2 L409.2 389.4 L414.3 388.6 L419.4 387.7 L424.4 386.8 L429.5 385.9 L434.6 384.9 L434.6 427.1 L312.8 427.1 Z" fill="#ea8d6f"/>
<ellipse cx="436.1" cy="407.7" rx="14.1" ry="7.5" fill="#dc6e58"/>
<ellipse cx="436.1" cy="407.7" rx="12.6" ry="6.5" fill="#cb4a43"/>
<g stroke="#3a2a2a" stroke-width="0.5" stroke-dasharray="2.6 1.8">
<line x1="327.9" y1="300.2" x2="327.9" y2="425.1" opacity="0.55"/>
<line x1="358.7" y1="300.2" x2="358.7" y2="425.1" opacity="0.45"/>
<line x1="389.4" y1="300.2" x2="389.4" y2="425.1" opacity="0.35"/>
<line x1="420.1" y1="300.2" x2="420.1" y2="425.1" opacity="0.3"/>
<line x1="312.8" y1="309.8" x2="434.6" y2="309.8" opacity="0.3"/>
<line x1="312.8" y1="339.5" x2="434.6" y2="339.5" opacity="0.35"/>
<line x1="312.8" y1="369.6" x2="434.6" y2="369.6" opacity="0.55"/>
<line x1="312.8" y1="399.6" x2="434.6" y2="399.6" opacity="0.8"/>
</g>
<g fill="none" stroke="#3f363c" stroke-width="0.5" stroke-dasharray="3 1.2" opacity="0.8">
<path d="M450.9 314.3 L441.7 321.8 L435.5 327.8 L427.8 330.2 L422.3 332.8 L419.2 335.2 L412.5 340.3 L414.9 343.9 L418.3 348.7 L418.0 353.2 L412.5 355.6 L408.8 356.2 L409.4 348.7 L404.8 345.7 L403.2 339.7 L398.6 340.3 L393.1 342.7 L395.5 338.2 L392.5 337.3 L384.8 342.1 L382.6 344.2 L386.3 348.1 L392.5 346.6 L397.1 348.7 L390.3 351.7 L386.9 355.3 L390.9 360.7 L394.9 365.2 L392.5 367.3 L395.5 369.7 L394.0 374.2 L389.4 378.7 L387.8 383.2 L383.2 386.2 L378.6 390.7 L369.4 393.1 L360.2 395.7 L358.6 398.7 L357.1 395.4 L352.5 395.1 L347.9 399.6 L345.7 402.6 L347.9 407.1 L354.0 411.6 L356.5 420.6 L355.6 425.1"/>
<path d="M354.6 401.7 L357.1 399.3 L361.1 399.6 L361.4 401.7 L358.6 404.4 L355.2 403.8 L354.6 401.7"/>
<path d="M392.5 384.1 L395.2 385.3 L393.4 390.7 L391.8 393.7 L390.0 390.7 L391.2 386.2 L392.5 384.1"/>
<path d="M390.9 404.1 L395.5 404.7 L396.2 410.1 L394.3 417.0 L398.0 418.2 L401.1 421.2 L397.1 420.0 L391.8 418.2 L389.7 414.6 L390.3 411.0 L390.9 404.1"/>
<path d="M419.8 365.8 L423.8 365.2 L425.7 360.7 L423.2 358.3 L419.5 359.8 L419.8 365.8"/>
<path d="M423.2 357.1 L427.8 356.5 L434.0 355.9 L436.1 353.2 L429.4 353.2 L423.2 357.1"/>
<path d="M312.5 411.6 L319.6 409.8 L321.1 414.6 L323.3 422.1 L323.9 425.1"/>
<path d="M326.3 425.1 L327.9 419.4 L330.9 421.5 L334.9 423.0 L337.1 425.1"/>
</g>
<g fill="none" stroke="#161616" stroke-width="0.8">
<path d="M312.8 252.4 L317.9 255.4 L322.9 258.4 L328.0 261.6 L333.1 264.8 L338.2 268.3 L343.2 272.0 L348.3 275.9 L353.4 279.8 L358.5 283.7 L363.6 287.6 L368.6 291.4 L373.7 295.0 L378.8 298.6 L383.9 302.1 L388.9 305.5 L394.0 308.7 L399.1 311.6 L404.1 313.9 L409.2 315.6 L414.3 316.5 L419.4 316.6 L424.4 316.1 L429.5 315.3 L434.6 314.3"/>
<path d="M312.8 265.2 L317.9 267.5 L322.9 269.8 L328.0 272.2 L333.1 274.8 L338.2 277.5 L343.2 280.5 L348.3 283.7 L353.4 287.1 L358.5 290.5 L363.6 294.0 L368.6 297.5 L373.7 301.0 L378.8 304.5 L383.9 307.8 L388.9 311.1 L394.0 314.1 L399.1 316.7 L404.1 318.9 L409.2 320.4 L414.3 321.2 L419.4 321.2 L424.4 320.8 L429.5 320.0 L434.6 319.1"/>
<path d="M312.8 278.0 L317.9 279.5 L322.9 281.1 L328.0 282.8 L333.1 284.7 L338.2 286.7 L343.2 289.0 L348.3 291.6 L353.4 294.3 L358.5 297.3 L363.6 300.4 L368.6 303.7 L373.7 307.0 L378.8 310.4 L383.9 313.6 L388.9 316.7 L394.0 319.5 L399.1 321.9 L404.1 323.9 L409.2 325.2 L414.3 325.9 L419.4 325.9 L424.4 325.5 L429.5 324.8 L434.6 323.9"/>
<path d="M312.8 290.8 L317.9 291.6 L322.9 292.5 L328.0 293.5 L333.1 294.6 L338.2 295.9 L343.2 297.5 L348.3 299.4 L353.4 301.5 L358.5 304.0 L363.6 306.8 L368.6 309.8 L373.7 313.0 L378.8 316.2 L383.9 319.4 L388.9 322.3 L394.0 324.9 L399.1 327.1 L404.1 328.8 L409.2 330.0 L414.3 330.6 L419.4 330.6 L424.4 330.2 L429.5 329.5 L434.6 328.7"/>
<path d="M312.8 303.6 L317.9 303.7 L322.9 303.8 L328.0 304.1 L333.1 304.5 L338.2 305.1 L343.2 306.0 L348.3 307.2 L353.4 308.8 L358.5 310.8 L363.6 313.2 L368.6 316.0 L373.7 319.0 L378.8 322.1 L383.9 325.1 L388.9 327.9 L394.0 330.3 L399.1 332.3 L404.1 333.8 L409.2 334.8 L414.3 335.3 L419.4 335.2 L424.4 334.8 L429.5 334.2 L434.6 333.4"/>
<path d="M312.8 309.8 L317.9 309.9 L322.9 310.1 L328.0 310.3 L333.1 310.7 L338.2 311.3 L343.2 312.2 L348.3 313.4 L353.4 314.9 L358.5 316.8 L363.6 319.1 L368.6 321.7 L373.7 324.5 L378.8 327.4 L383.9 330.2 L388.9 332.7 L394.0 334.9 L399.1 336.6 L404.1 338.0 L409.2 338.8 L414.3 339.2 L419.4 339.1 L424.4 338.7 L429.5 338.0 L434.6 337.3"/>
<path d="M312.8 316.1 L317.9 316.2 L322.9 316.3 L328.0 316.6 L333.1 317.0 L338.2 317.6 L343.2 318.4 L348.3 319.6 L353.4 321.0 L358.5 322.8 L363.6 325.0 L368.6 327.4 L373.7 330.0 L378.8 332.7 L383.9 335.2 L388.9 337.5 L394.0 339.4 L399.1 341.0 L404.1 342.1 L409.2 342.8 L414.3 343.1 L419.4 342.9 L424.4 342.5 L429.5 341.9 L434.6 341.1"/>
<path d="M312.8 322.3 L317.9 322.4 L322.9 322.5 L328.0 322.8 L333.1 323.2 L338.2 323.8 L343.2 324.7 L348.3 325.8 L353.4 327.2 L358.5 328.9 L363.6 330.9 L368.6 333.1 L373.7 335.6 L378.8 338.0 L383.9 340.3 L388.9 342.3 L394.0 344.0 L399.1 345.3 L404.1 346.3 L409.2 346.8 L414.3 347.0 L419.4 346.8 L424.4 346.3 L429.5 345.7 L434.6 344.9"/>
<path d="M312.8 328.5 L317.9 328.6 L322.9 328.8 L328.0 329.0 L333.1 329.4 L338.2 330.0 L343.2 330.9 L348.3 331.9 L353.4 333.3 L358.5 334.9 L363.6 336.8 L368.6 338.9 L373.7 341.1 L378.8 343.3 L383.9 345.3 L388.9 347.1 L394.0 348.5 L399.1 349.7 L404.1 350.4 L409.2 350.8 L414.3 350.9 L419.4 350.6 L424.4 350.2 L429.5 349.5 L434.6 348.8"/>
<path d="M312.8 334.8 L317.9 334.9 L322.9 335.0 L328.0 335.3 L333.1 335.7 L338.2 336.2 L343.2 337.1 L348.3 338.1 L353.4 339.4 L358.5 340.9 L363.6 342.7 L368.6 344.6 L373.7 346.6 L378.8 348.6 L383.9 350.4 L388.9 351.9 L394.0 353.1 L399.1 354.0 L404.1 354.6 L409.2 354.9 L414.3 354.8 L419.4 354.5 L424.4 354.0 L429.5 353.3 L434.6 352.6"/>
<path d="M312.8 341.0 L317.9 341.1 L322.9 341.3 L328.0 341.5 L333.1 341.9 L338.2 342.5 L343.2 343.3 L348.3 344.3 L353.4 345.5 L358.5 347.0 L363.6 348.6 L368.6 350.3 L373.7 352.1 L378.8 353.8 L383.9 355.4 L388.9 356.7 L394.0 357.7 L399.1 358.3 L404.1 358.7 L409.2 358.9 L414.3 358.7 L419.4 358.3 L424.4 357.8 L429.5 357.2 L434.6 356.5"/>
<path d="M312.8 347.2 L317.9 347.4 L322.9 347.5 L328.0 347.7 L333.1 348.1 L338.2 348.7 L343.2 349.5 L348.3 350.5 L353.4 351.7 L358.5 353.0 L363.6 354.5 L368.6 356.1 L373.7 357.6 L378.8 359.1 L383.9 360.4 L388.9 361.5 L394.0 362.2 L399.1 362.7 L404.1 362.9 L409.2 362.9 L414.3 362.6 L419.4 362.2 L424.4 361.6 L429.5 361.0 L434.6 360.3"/>
<path d="M312.8 353.5 L317.9 353.6 L322.9 353.7 L328.0 354.0 L333.1 354.4 L338.2 354.9 L343.2 355.7 L348.3 356.7 L353.4 357.8 L358.5 359.0 L363.6 360.4 L368.6 361.8 L373.7 363.2 L378.8 364.4 L383.9 365.5 L388.9 366.3 L394.0 366.8 L399.1 367.0 L404.1 367.1 L409.2 366.9 L414.3 366.5 L419.4 366.0 L424.4 365.5 L429.5 364.8 L434.6 364.1"/>
<path d="M312.8 359.7 L317.9 359.8 L322.9 360.0 L328.0 360.2 L333.1 360.6 L338.2 361.1 L343.2 361.9 L348.3 362.8 L353.4 363.9 L358.5 365.1 L363.6 366.3 L368.6 367.5 L373.7 368.7 L378.8 369.7 L383.9 370.5 L388.9 371.1 L394.0 371.4 L399.1 371.4 L404.1 371.2 L409.2 370.9 L414.3 370.4 L419.4 369.9 L424.4 369.3 L429.5 368.6 L434.6 368.0"/>
<path d="M312.8 374.1 L317.9 374.2 L322.9 374.3 L328.0 374.6 L333.1 374.9 L338.2 375.5 L343.2 376.2 L348.3 377.1 L353.4 377.9 L358.5 378.7 L363.6 379.3 L368.6 379.6 L373.7 379.8 L378.8 379.8 L383.9 379.6 L388.9 379.3 L394.0 378.8 L399.1 378.3 L404.1 377.6 L409.2 376.8 L414.3 376.0 L419.4 375.0 L424.4 374.0 L429.5 372.9 L434.6 371.9"/>
<path d="M312.8 383.1 L317.9 383.0 L322.9 383.0 L328.0 383.0 L333.1 383.2 L338.2 383.5 L343.2 383.9 L348.3 384.4 L353.4 384.9 L358.5 385.4 L363.6 385.7 L368.6 385.7 L373.7 385.7 L378.8 385.4 L383.9 385.1 L388.9 384.6 L394.0 384.1 L399.1 383.5 L404.1 382.8 L409.2 382.0 L414.3 381.2 L419.4 380.3 L424.4 379.3 L429.5 378.3 L434.6 377.3"/>
<path d="M312.8 392.8 L315.8 392.7 L318.9 392.7 L321.9 392.7 L325.0 392.4 L328.0 392.8 L331.1 392.8 L334.1 393.1 L337.2 392.8 L340.2 393.2 L343.2 393.1 L346.3 393.1 L349.3 393.1 L352.4 393.9 L355.4 394.2 L358.5 394.0 L361.5 393.3 L364.6 394.1 L367.6 394.4 L370.7 394.6 L373.7 393.9 L376.7 394.2 L379.8 394.2 L382.8 394.0 L385.9 393.3 L388.9 392.6 L392.0 392.0 L395.0 391.4 L398.1 390.6 L401.1 389.4 L404.1 389.2 L407.2 389.2 L410.2 389.4 L413.3 388.6 L416.3 387.7 L419.4 386.7 L422.4 385.7 L425.5 384.9 L428.5 384.4 L431.6 383.9 L434.6 383.1"/>
</g>
<path d="M437.2 385.3 C434.5 386.1 426.2 387.9 420.9 389.7 C415.7 391.5 410.8 394.1 405.7 396.2 C400.7 398.3 394.5 400.6 390.5 402.3 C386.5 404.0 383.7 405.4 381.8 406.6 C380.0 407.9 379.3 408.4 379.7 409.9 C380.0 411.3 381.5 413.5 384.0 415.3 C386.5 417.1 391.6 418.9 394.9 420.8 C398.1 422.6 402.1 425.3 403.6 426.2" fill="none" stroke="#3d1a8e" stroke-width="1.2"/>
<text class="dj" x="367.7" y="354.8" font-size="5.4" text-anchor="middle" style="fill:#222" opacity="0.85">5620</text>
<text class="dj" x="368.8" y="367.4" font-size="5.4" text-anchor="middle" style="fill:#222" opacity="0.85">5700</text>
<text class="dj" x="373.2" y="381.5" font-size="5.4" text-anchor="middle" style="fill:#222" opacity="0.85">5780</text>
<text class="dj" x="375.3" y="395.6" font-size="5.4" text-anchor="middle" style="fill:#222" opacity="0.85">5860</text>
<text class="dj" x="405.7" y="313.1" font-size="5.4" text-anchor="middle" style="fill:#222" opacity="0.85">5300</text>
<text class="dj" x="373.2" y="325.0" font-size="5.4" text-anchor="middle" style="fill:#222" opacity="0.85">5380</text>
<text class="dj" x="385.7" y="405.4" font-size="5.2" text-anchor="middle" transform="rotate(-35 385.7 403.4)" style="fill:#8a2be2">5880</text>
<rect x="355.7" y="342.4" width="45.8" height="33.3" fill="none" stroke="#d8281f" stroke-width="1.1"/>
</g>
<rect x="312.8" y="300.2" width="121.8" height="124.9" fill="none" stroke="#1a1a1a" stroke-width="1.1"/>
<text class="dj" x="371.1" y="292.0" font-size="15.8" text-anchor="middle">CP3</text>
<text class="dj" x="311.5" y="311.8" font-size="5.8" text-anchor="end" style="fill:#555">50°N</text>
<text class="dj" x="311.5" y="341.5" font-size="5.8" text-anchor="end" style="fill:#555">40°N</text>
<text class="dj" x="311.5" y="371.6" font-size="5.8" text-anchor="end" style="fill:#555">30°N</text>
<text class="dj" x="311.5" y="401.6" font-size="5.8" text-anchor="end" style="fill:#555">20°N</text>
<text class="dj" x="329.1" y="430.6" font-size="5" text-anchor="middle" style="fill:#555">100°E</text>
<text class="dj" x="359.9" y="430.6" font-size="5" text-anchor="middle" style="fill:#555">110°E</text>
<text class="dj" x="390.6" y="430.6" font-size="5" text-anchor="middle" style="fill:#555">120°E</text>
<text class="dj" x="421.3" y="430.6" font-size="5" text-anchor="middle" style="fill:#555">130°E</text>
<clipPath id="cCP4"><rect x="27.4" y="470.2" width="122.3" height="124.9"/></clipPath>
<g clip-path="url(#cCP4)">
<rect x="27.4" y="470.2" width="122.3" height="124.9" fill="#89bfdb"/>
<path d="M27.4 466.4 L32.5 466.5 L37.6 466.6 L42.7 466.7 L47.8 466.9 L52.9 467.1 L58.0 467.3 L63.1 467.6 L68.2 467.9 L73.3 468.2 L78.4 468.5 L83.5 468.9 L88.5 469.3 L93.6 469.7 L98.7 470.1 L103.8 470.4 L108.9 470.6 L114.0 470.8 L119.1 470.9 L124.2 470.9 L129.3 470.7 L134.4 470.5 L139.5 470.1 L144.6 469.7 L149.7 469.3 L149.7 597.1 L27.4 597.1 Z" fill="#99c9e0"/>
<path d="M27.4 469.3 L32.5 469.4 L37.6 469.5 L42.7 469.7 L47.8 469.9 L52.9 470.1 L58.0 470.4 L63.1 470.7 L68.2 471.1 L73.3 471.5 L78.4 471.9 L83.5 472.4 L88.5 472.9 L93.6 473.3 L98.7 473.8 L103.8 474.1 L108.9 474.4 L114.0 474.6 L119.1 474.7 L124.2 474.7 L129.3 474.5 L134.4 474.3 L139.5 473.9 L144.6 473.4 L149.7 473.0 L149.7 597.1 L27.4 597.1 Z" fill="#a7d0e4"/>
<path d="M27.4 472.2 L32.5 472.3 L37.6 472.5 L42.7 472.7 L47.8 472.9 L52.9 473.2 L58.0 473.5 L63.1 473.9 L68.2 474.3 L73.3 474.8 L78.4 475.3 L83.5 475.9 L88.5 476.4 L93.6 476.9 L98.7 477.4 L103.8 477.9 L108.9 478.2 L114.0 478.4 L119.1 478.6 L124.2 478.5 L129.3 478.3 L134.4 478.0 L139.5 477.6 L144.6 477.1 L149.7 476.6 L149.7 597.1 L27.4 597.1 Z" fill="#b5d7e8"/>
<path d="M27.4 475.1 L32.5 475.2 L37.6 475.4 L42.7 475.7 L47.8 475.9 L52.9 476.3 L58.0 476.6 L63.1 477.1 L68.2 477.6 L73.3 478.1 L78.4 478.7 L83.5 479.3 L88.5 480.0 L93.6 480.6 L98.7 481.1 L103.8 481.6 L108.9 482.0 L114.0 482.2 L119.1 482.4 L124.2 482.3 L129.3 482.1 L134.4 481.8 L139.5 481.4 L144.6 480.8 L149.7 480.3 L149.7 597.1 L27.4 597.1 Z" fill="#c4deec"/>
<path d="M27.4 477.9 L32.5 478.2 L37.6 478.4 L42.7 478.6 L47.8 479.0 L52.9 479.3 L58.0 479.7 L63.1 480.2 L68.2 480.8 L73.3 481.4 L78.4 482.1 L83.5 482.8 L88.5 483.5 L93.6 484.2 L98.7 484.8 L103.8 485.3 L108.9 485.8 L114.0 486.0 L119.1 486.2 L124.2 486.2 L129.3 485.9 L134.4 485.6 L139.5 485.1 L144.6 484.5 L149.7 483.9 L149.7 597.1 L27.4 597.1 Z" fill="#d1e5f0"/>
<path d="M27.4 481.1 L32.5 481.3 L37.6 481.6 L42.7 481.9 L47.8 482.3 L52.9 482.7 L58.0 483.1 L63.1 483.7 L68.2 484.3 L73.3 484.9 L78.4 485.6 L83.5 486.4 L88.5 487.1 L93.6 487.8 L98.7 488.4 L103.8 489.0 L108.9 489.3 L114.0 489.6 L119.1 489.7 L124.2 489.6 L129.3 489.3 L134.4 488.8 L139.5 488.2 L144.6 487.5 L149.7 486.8 L149.7 597.1 L27.4 597.1 Z" fill="#dae9f2"/>
<path d="M27.4 484.5 L32.5 484.7 L37.6 485.1 L42.7 485.4 L47.8 485.8 L52.9 486.2 L58.0 486.7 L63.1 487.3 L68.2 487.9 L73.3 488.6 L78.4 489.3 L83.5 490.0 L88.5 490.8 L93.6 491.4 L98.7 492.0 L103.8 492.5 L108.9 492.8 L114.0 492.9 L119.1 492.9 L124.2 492.6 L129.3 492.2 L134.4 491.6 L139.5 490.8 L144.6 490.0 L149.7 489.1 L149.7 597.1 L27.4 597.1 Z" fill="#e3edf3"/>
<path d="M27.4 487.8 L32.5 488.1 L37.6 488.5 L42.7 488.9 L47.8 489.3 L52.9 489.8 L58.0 490.3 L63.1 490.9 L68.2 491.5 L73.3 492.2 L78.4 492.9 L83.5 493.7 L88.5 494.4 L93.6 495.1 L98.7 495.6 L103.8 496.0 L108.9 496.2 L114.0 496.2 L119.1 496.1 L124.2 495.7 L129.3 495.1 L134.4 494.4 L139.5 493.4 L144.6 492.4 L149.7 491.4 L149.7 597.1 L27.4 597.1 Z" fill="#ebf1f5"/>
<path d="M27.4 491.2 L32.5 491.5 L37.6 492.0 L42.7 492.4 L47.8 492.8 L52.9 493.3 L58.0 493.9 L63.1 494.5 L68.2 495.2 L73.3 495.9 L78.4 496.6 L83.5 497.3 L88.5 498.1 L93.6 498.7 L98.7 499.2 L103.8 499.5 L108.9 499.6 L114.0 499.6 L119.1 499.3 L124.2 498.8 L129.3 498.1 L134.4 497.1 L139.5 496.1 L144.6 494.9 L149.7 493.7 L149.7 597.1 L27.4 597.1 Z" fill="#f4f5f6"/>
<path d="M27.4 499.1 L32.5 499.6 L37.6 500.1 L42.7 500.6 L47.8 501.3 L52.9 502.0 L58.0 502.8 L63.1 503.7 L68.2 504.5 L73.3 505.4 L78.4 506.2 L83.5 506.9 L88.5 507.4 L93.6 507.8 L98.7 508.1 L103.8 508.2 L108.9 508.1 L114.0 507.8 L119.1 507.3 L124.2 506.5 L129.3 505.5 L134.4 504.2 L139.5 502.8 L144.6 501.2 L149.7 499.6 L149.7 597.1 L27.4 597.1 Z" fill="#f7dacb"/>
<path d="M27.4 509.3 L32.5 509.6 L37.6 510.0 L42.7 510.4 L47.8 511.0 L52.9 511.7 L58.0 512.5 L63.1 513.5 L68.2 514.5 L73.3 515.5 L78.4 516.4 L83.5 517.3 L88.5 518.1 L93.6 518.6 L98.7 518.9 L103.8 519.0 L108.9 518.7 L114.0 518.2 L119.1 517.4 L124.2 516.3 L129.3 515.0 L134.4 513.4 L139.5 511.8 L144.6 510.0 L149.7 508.1 L149.7 597.1 L27.4 597.1 Z" fill="#f5b293"/>
<path d="M27.4 533.0 L32.5 533.0 L37.6 533.0 L42.7 533.0 L47.8 533.0 L52.9 533.0 L58.0 532.9 L63.1 532.8 L68.2 532.7 L73.3 532.6 L78.4 532.5 L83.5 532.4 L88.5 532.4 L93.6 532.3 L98.7 532.2 L103.8 532.0 L108.9 531.7 L114.0 531.4 L119.1 530.9 L124.2 530.4 L129.3 529.8 L134.4 529.1 L139.5 528.3 L144.6 527.5 L149.7 526.7 L149.7 597.1 L27.4 597.1 Z" fill="#ea8d6f"/>
<ellipse cx="151.3" cy="551.1" rx="5.6" ry="7.8" fill="#dc6e58"/>
<ellipse cx="151.3" cy="551.1" rx="5.0" ry="6.8" fill="#cb4a43"/>
<g stroke="#3a2a2a" stroke-width="0.5" stroke-dasharray="2.6 1.8">
<line x1="42.6" y1="470.2" x2="42.6" y2="595.1" opacity="0.55"/>
<line x1="73.5" y1="470.2" x2="73.5" y2="595.1" opacity="0.45"/>
<line x1="104.3" y1="470.2" x2="104.3" y2="595.1" opacity="0.35"/>
<line x1="135.1" y1="470.2" x2="135.1" y2="595.1" opacity="0.3"/>
<line x1="27.4" y1="479.8" x2="149.7" y2="479.8" opacity="0.3"/>
<line x1="27.4" y1="509.5" x2="149.7" y2="509.5" opacity="0.35"/>
<line x1="27.4" y1="539.6" x2="149.7" y2="539.6" opacity="0.55"/>
<line x1="27.4" y1="569.6" x2="149.7" y2="569.6" opacity="0.8"/>
</g>
<g fill="none" stroke="#3f363c" stroke-width="0.5" stroke-dasharray="3 1.2" opacity="0.8">
<path d="M166.1 484.3 L156.8 491.8 L150.6 497.8 L142.9 500.2 L137.3 502.8 L134.3 505.2 L127.5 510.3 L129.9 513.9 L133.3 518.7 L133.0 523.2 L127.5 525.6 L123.8 526.2 L124.4 518.7 L119.7 515.7 L118.2 509.7 L113.6 510.3 L108.0 512.7 L110.5 508.2 L107.4 507.3 L99.7 512.1 L97.5 514.2 L101.2 518.1 L107.4 516.6 L112.0 518.7 L105.2 521.7 L101.8 525.3 L105.8 530.7 L109.9 535.2 L107.4 537.3 L110.5 539.7 L108.9 544.2 L104.3 548.7 L102.8 553.2 L98.1 556.2 L93.5 560.7 L84.2 563.1 L75.0 565.7 L73.4 568.7 L71.9 565.4 L67.2 565.1 L62.6 569.6 L60.4 572.6 L62.6 577.1 L68.8 581.6 L71.3 590.6 L70.3 595.1"/>
<path d="M69.4 571.7 L71.9 569.3 L75.9 569.6 L76.2 571.7 L73.4 574.4 L70.0 573.8 L69.4 571.7"/>
<path d="M107.4 554.1 L110.2 555.3 L108.3 560.7 L106.8 563.7 L104.9 560.7 L106.2 556.2 L107.4 554.1"/>
<path d="M105.8 574.1 L110.5 574.7 L111.1 580.1 L109.2 587.0 L112.9 588.2 L116.0 591.2 L112.0 590.0 L106.8 588.2 L104.6 584.6 L105.2 581.0 L105.8 574.1"/>
<path d="M134.9 535.8 L138.9 535.2 L140.7 530.7 L138.3 528.3 L134.6 529.8 L134.9 535.8"/>
<path d="M138.3 527.1 L142.9 526.5 L149.1 525.9 L151.2 523.2 L144.4 523.2 L138.3 527.1"/>
<path d="M27.1 581.6 L34.2 579.8 L35.7 584.6 L37.9 592.1 L38.5 595.1"/>
<path d="M41.0 595.1 L42.5 589.4 L45.6 591.5 L49.6 593.0 L51.8 595.1"/>
</g>
<g fill="none" stroke="#161616" stroke-width="0.8">
<path d="M27.4 479.2 L32.5 479.5 L37.6 479.7 L42.7 480.0 L47.8 480.3 L52.9 480.7 L58.0 481.1 L63.1 481.6 L68.2 482.2 L73.3 482.9 L78.4 483.6 L83.5 484.3 L88.5 485.1 L93.6 485.8 L98.7 486.5 L103.8 487.0 L108.9 487.4 L114.0 487.7 L119.1 487.9 L124.2 487.8 L129.3 487.6 L134.4 487.3 L139.5 486.8 L144.6 486.2 L149.7 485.6"/>
<path d="M27.4 488.9 L32.5 489.2 L37.6 489.5 L42.7 489.8 L47.8 490.2 L52.9 490.6 L58.0 491.1 L63.1 491.7 L68.2 492.3 L73.3 493.0 L78.4 493.8 L83.5 494.6 L88.5 495.3 L93.6 496.0 L98.7 496.6 L103.8 497.1 L108.9 497.4 L114.0 497.5 L119.1 497.3 L124.2 497.0 L129.3 496.3 L134.4 495.5 L139.5 494.5 L144.6 493.5 L149.7 492.3"/>
<path d="M27.4 498.7 L32.5 499.1 L37.6 499.6 L42.7 500.2 L47.8 500.8 L52.9 501.5 L58.0 502.3 L63.1 503.2 L68.2 504.1 L73.3 505.0 L78.4 505.7 L83.5 506.4 L88.5 507.0 L93.6 507.4 L98.7 507.6 L103.8 507.7 L108.9 507.6 L114.0 507.4 L119.1 506.8 L124.2 506.1 L129.3 505.0 L134.4 503.8 L139.5 502.3 L144.6 500.7 L149.7 499.1"/>
<path d="M27.4 509.3 L32.5 509.6 L37.6 510.0 L42.7 510.4 L47.8 511.0 L52.9 511.7 L58.0 512.5 L63.1 513.5 L68.2 514.5 L73.3 515.5 L78.4 516.4 L83.5 517.3 L88.5 518.1 L93.6 518.6 L98.7 518.9 L103.8 519.0 L108.9 518.7 L114.0 518.2 L119.1 517.4 L124.2 516.3 L129.3 515.0 L134.4 513.4 L139.5 511.8 L144.6 510.0 L149.7 508.1"/>
<path d="M27.4 527.3 L32.5 527.6 L37.6 527.8 L42.7 528.0 L47.8 528.3 L52.9 528.5 L58.0 528.8 L63.1 529.0 L68.2 529.2 L73.3 529.5 L78.4 529.7 L83.5 529.9 L88.5 530.0 L93.6 529.9 L98.7 529.7 L103.8 529.3 L108.9 528.7 L114.0 527.9 L119.1 527.0 L124.2 526.0 L129.3 524.9 L134.4 523.9 L139.5 522.8 L144.6 521.7 L149.7 520.6"/>
</g>
<path d="M153.1 533.0 C150.8 533.7 143.7 535.8 139.5 537.5 C135.4 539.2 131.0 540.9 128.2 543.4 C125.4 545.8 122.9 548.9 122.7 552.2 C122.6 555.4 124.6 559.4 127.1 562.8 C129.5 566.2 132.9 569.7 137.2 572.7 C141.6 575.8 150.5 579.5 153.1 580.9" fill="none" stroke="#3d1a8e" stroke-width="1.2"/>
<text class="dj" x="88.5" y="485.3" font-size="5.4" text-anchor="middle" style="fill:#222" opacity="0.85">5680</text>
<text class="dj" x="87.4" y="507.4" font-size="5.4" text-anchor="middle" style="fill:#222" opacity="0.85">5760</text>
<text class="dj" x="89.7" y="531.1" font-size="5.4" text-anchor="middle" style="fill:#222" opacity="0.85">5840</text>
<text class="dj" x="125.9" y="558.7" font-size="5.2" text-anchor="middle" transform="rotate(70 125.9 556.7)" style="fill:#8a2be2">5880</text>
<rect x="70.4" y="512.4" width="46.0" height="33.3" fill="none" stroke="#d8281f" stroke-width="1.1"/>
</g>
<rect x="27.4" y="470.2" width="122.3" height="124.9" fill="none" stroke="#1a1a1a" stroke-width="1.1"/>
<text class="dj" x="86.0" y="462.0" font-size="15.8" text-anchor="middle">CP4</text>
<text class="dj" x="26.1" y="481.8" font-size="5.8" text-anchor="end" style="fill:#555">50°N</text>
<text class="dj" x="26.1" y="511.5" font-size="5.8" text-anchor="end" style="fill:#555">40°N</text>
<text class="dj" x="26.1" y="541.6" font-size="5.8" text-anchor="end" style="fill:#555">30°N</text>
<text class="dj" x="26.1" y="571.6" font-size="5.8" text-anchor="end" style="fill:#555">20°N</text>
<text class="dj" x="43.8" y="600.6" font-size="5" text-anchor="middle" style="fill:#555">100°E</text>
<text class="dj" x="74.7" y="600.6" font-size="5" text-anchor="middle" style="fill:#555">110°E</text>
<text class="dj" x="105.5" y="600.6" font-size="5" text-anchor="middle" style="fill:#555">120°E</text>
<text class="dj" x="136.3" y="600.6" font-size="5" text-anchor="middle" style="fill:#555">130°E</text>
<clipPath id="cCP5"><rect x="169.6" y="470.2" width="122.4" height="124.9"/></clipPath>
<g clip-path="url(#cCP5)">
<rect x="169.6" y="470.2" width="122.4" height="124.9" fill="#16498f"/>
<path d="M169.6 431.4 L174.7 433.0 L179.8 434.6 L184.9 436.2 L190.0 437.9 L195.1 439.6 L200.2 441.3 L205.3 443.1 L210.4 445.0 L215.5 447.0 L220.6 449.2 L225.7 451.5 L230.8 453.9 L235.9 456.3 L241.0 458.7 L246.1 460.9 L251.2 463.1 L256.3 465.1 L261.4 467.1 L266.5 468.9 L271.6 470.7 L276.7 472.5 L281.8 474.2 L286.9 476.0 L292.0 477.7 L292.0 597.1 L169.6 597.1 Z" fill="#1a5197"/>
<path d="M169.6 435.8 L174.7 437.3 L179.8 438.8 L184.9 440.4 L190.0 441.9 L195.1 443.5 L200.2 445.1 L205.3 446.8 L210.4 448.6 L215.5 450.5 L220.6 452.6 L225.7 454.7 L230.8 457.0 L235.9 459.3 L241.0 461.5 L246.1 463.7 L251.2 465.7 L256.3 467.6 L261.4 469.5 L266.5 471.3 L271.6 473.0 L276.7 474.7 L281.8 476.3 L286.9 478.0 L292.0 479.6 L292.0 597.1 L169.6 597.1 Z" fill="#1d599f"/>
<path d="M169.6 440.2 L174.7 441.7 L179.8 443.1 L184.9 444.5 L190.0 446.0 L195.1 447.4 L200.2 449.0 L205.3 450.6 L210.4 452.2 L215.5 454.0 L220.6 455.9 L225.7 458.0 L230.8 460.1 L235.9 462.2 L241.0 464.3 L246.1 466.4 L251.2 468.3 L256.3 470.2 L261.4 471.9 L266.5 473.6 L271.6 475.3 L276.7 476.9 L281.8 478.4 L286.9 479.9 L292.0 481.5 L292.0 597.1 L169.6 597.1 Z" fill="#2161a7"/>
<path d="M169.6 444.7 L174.7 446.0 L179.8 447.3 L184.9 448.6 L190.0 450.0 L195.1 451.4 L200.2 452.8 L205.3 454.3 L210.4 455.8 L215.5 457.5 L220.6 459.3 L225.7 461.2 L230.8 463.2 L235.9 465.2 L241.0 467.2 L246.1 469.1 L251.2 470.9 L256.3 472.7 L261.4 474.4 L266.5 476.0 L271.6 477.5 L276.7 479.0 L281.8 480.5 L286.9 481.9 L292.0 483.4 L292.0 597.1 L169.6 597.1 Z" fill="#256aaf"/>
<path d="M169.6 449.1 L174.7 450.3 L179.8 451.5 L184.9 452.7 L190.0 454.0 L195.1 455.3 L200.2 456.6 L205.3 458.0 L210.4 459.5 L215.5 461.0 L220.6 462.7 L225.7 464.5 L230.8 466.3 L235.9 468.2 L241.0 470.0 L246.1 471.8 L251.2 473.6 L256.3 475.2 L261.4 476.8 L266.5 478.3 L271.6 479.8 L276.7 481.2 L281.8 482.6 L286.9 483.9 L292.0 485.3 L292.0 597.1 L169.6 597.1 Z" fill="#2c73b4"/>
<path d="M169.6 453.6 L174.7 454.7 L179.8 455.8 L184.9 456.9 L190.0 458.0 L195.1 459.2 L200.2 460.4 L205.3 461.7 L210.4 463.1 L215.5 464.5 L220.6 466.1 L225.7 467.7 L230.8 469.4 L235.9 471.2 L241.0 472.9 L246.1 474.6 L251.2 476.2 L256.3 477.8 L261.4 479.3 L266.5 480.7 L271.6 482.1 L276.7 483.4 L281.8 484.7 L286.9 485.9 L292.0 487.2 L292.0 597.1 L169.6 597.1 Z" fill="#337db8"/>
<path d="M169.6 458.0 L174.7 459.0 L179.8 460.0 L184.9 461.0 L190.0 462.0 L195.1 463.1 L200.2 464.2 L205.3 465.4 L210.4 466.7 L215.5 468.0 L220.6 469.5 L225.7 471.0 L230.8 472.5 L235.9 474.1 L241.0 475.7 L246.1 477.3 L251.2 478.8 L256.3 480.3 L261.4 481.7 L266.5 483.1 L271.6 484.3 L276.7 485.6 L281.8 486.8 L286.9 487.9 L292.0 489.1 L292.0 597.1 L169.6 597.1 Z" fill="#3a87bd"/>
<path d="M169.6 462.5 L174.7 463.3 L179.8 464.2 L184.9 465.1 L190.0 466.0 L195.1 467.0 L200.2 468.1 L205.3 469.1 L210.4 470.3 L215.5 471.5 L220.6 472.8 L225.7 474.2 L230.8 475.6 L235.9 477.1 L241.0 478.6 L246.1 480.0 L251.2 481.4 L256.3 482.8 L261.4 484.1 L266.5 485.4 L271.6 486.6 L276.7 487.8 L281.8 488.9 L286.9 489.9 L292.0 491.0 L292.0 597.1 L169.6 597.1 Z" fill="#4190c2"/>
<path d="M169.6 466.9 L174.7 467.7 L179.8 468.5 L184.9 469.2 L190.0 470.1 L195.1 470.9 L200.2 471.9 L205.3 472.9 L210.4 473.9 L215.5 475.0 L220.6 476.2 L225.7 477.5 L230.8 478.8 L235.9 480.1 L241.0 481.4 L246.1 482.7 L251.2 484.1 L256.3 485.3 L261.4 486.6 L266.5 487.8 L271.6 488.9 L276.7 489.9 L281.8 491.0 L286.9 491.9 L292.0 492.9 L292.0 597.1 L169.6 597.1 Z" fill="#509bc7"/>
<path d="M169.6 471.4 L174.7 472.1 L179.8 472.7 L184.9 473.4 L190.0 474.2 L195.1 475.0 L200.2 475.8 L205.3 476.7 L210.4 477.6 L215.5 478.6 L220.6 479.7 L225.7 480.8 L230.8 482.0 L235.9 483.2 L241.0 484.4 L246.1 485.6 L251.2 486.8 L256.3 488.0 L261.4 489.1 L266.5 490.2 L271.6 491.3 L276.7 492.2 L281.8 493.1 L286.9 494.0 L292.0 494.9 L292.0 597.1 L169.6 597.1 Z" fill="#62a6cd"/>
<path d="M169.6 476.3 L174.7 476.9 L179.8 477.6 L184.9 478.2 L190.0 478.9 L195.1 479.7 L200.2 480.5 L205.3 481.3 L210.4 482.2 L215.5 483.1 L220.6 484.1 L225.7 485.1 L230.8 486.2 L235.9 487.2 L241.0 488.3 L246.1 489.4 L251.2 490.5 L256.3 491.5 L261.4 492.6 L266.5 493.5 L271.6 494.4 L276.7 495.2 L281.8 496.0 L286.9 496.7 L292.0 497.4 L292.0 597.1 L169.6 597.1 Z" fill="#73b2d4"/>
<path d="M169.6 481.2 L174.7 481.8 L179.8 482.4 L184.9 483.0 L190.0 483.7 L195.1 484.4 L200.2 485.1 L205.3 485.9 L210.4 486.7 L215.5 487.6 L220.6 488.5 L225.7 489.4 L230.8 490.3 L235.9 491.3 L241.0 492.2 L246.1 493.2 L251.2 494.2 L256.3 495.1 L261.4 496.0 L266.5 496.8 L271.6 497.6 L276.7 498.2 L281.8 498.8 L286.9 499.4 L292.0 500.0 L292.0 597.1 L169.6 597.1 Z" fill="#85bdda"/>
<path d="M169.6 486.1 L174.7 486.7 L179.8 487.2 L184.9 487.8 L190.0 488.4 L195.1 489.1 L200.2 489.8 L205.3 490.5 L210.4 491.3 L215.5 492.1 L220.6 492.9 L225.7 493.7 L230.8 494.5 L235.9 495.3 L241.0 496.2 L246.1 497.0 L251.2 497.9 L256.3 498.7 L261.4 499.4 L266.5 500.1 L271.6 500.7 L276.7 501.2 L281.8 501.7 L286.9 502.1 L292.0 502.5 L292.0 597.1 L169.6 597.1 Z" fill="#96c7df"/>
<path d="M169.6 491.0 L174.7 491.5 L179.8 492.1 L184.9 492.6 L190.0 493.2 L195.1 493.8 L200.2 494.4 L205.3 495.1 L210.4 495.8 L215.5 496.6 L220.6 497.3 L225.7 498.0 L230.8 498.7 L235.9 499.4 L241.0 500.1 L246.1 500.8 L251.2 501.5 L256.3 502.2 L261.4 502.9 L266.5 503.4 L271.6 503.9 L276.7 504.2 L281.8 504.5 L286.9 504.8 L292.0 505.0 L292.0 597.1 L169.6 597.1 Z" fill="#a4cee3"/>
<path d="M169.6 495.9 L174.7 496.4 L179.8 496.9 L184.9 497.4 L190.0 497.9 L195.1 498.5 L200.2 499.1 L205.3 499.7 L210.4 500.4 L215.5 501.0 L220.6 501.7 L225.7 502.3 L230.8 502.9 L235.9 503.5 L241.0 504.0 L246.1 504.6 L251.2 505.2 L256.3 505.8 L261.4 506.3 L266.5 506.7 L271.6 507.0 L276.7 507.2 L281.8 507.4 L286.9 507.5 L292.0 507.6 L292.0 597.1 L169.6 597.1 Z" fill="#b2d5e7"/>
<path d="M169.6 500.8 L174.7 501.3 L179.8 501.7 L184.9 502.2 L190.0 502.7 L195.1 503.2 L200.2 503.8 L205.3 504.4 L210.4 504.9 L215.5 505.5 L220.6 506.1 L225.7 506.6 L230.8 507.0 L235.9 507.5 L241.0 508.0 L246.1 508.4 L251.2 508.9 L256.3 509.3 L261.4 509.7 L266.5 510.0 L271.6 510.2 L276.7 510.2 L281.8 510.2 L286.9 510.2 L292.0 510.1 L292.0 597.1 L169.6 597.1 Z" fill="#c0ddeb"/>
<path d="M169.6 505.1 L174.7 505.5 L179.8 506.0 L184.9 506.4 L190.0 506.8 L195.1 507.3 L200.2 507.8 L205.3 508.3 L210.4 508.8 L215.5 509.2 L220.6 509.7 L225.7 510.1 L230.8 510.5 L235.9 510.9 L241.0 511.3 L246.1 511.7 L251.2 512.0 L256.3 512.4 L261.4 512.6 L266.5 512.8 L271.6 513.0 L276.7 513.0 L281.8 512.9 L286.9 512.9 L292.0 512.7 L292.0 597.1 L169.6 597.1 Z" fill="#cfe4ef"/>
<path d="M169.6 509.3 L174.7 509.7 L179.8 510.1 L184.9 510.5 L190.0 510.9 L195.1 511.3 L200.2 511.7 L205.3 512.1 L210.4 512.5 L215.5 512.9 L220.6 513.2 L225.7 513.6 L230.8 513.9 L235.9 514.2 L241.0 514.5 L246.1 514.8 L251.2 515.1 L256.3 515.3 L261.4 515.5 L266.5 515.6 L271.6 515.7 L276.7 515.7 L281.8 515.6 L286.9 515.5 L292.0 515.4 L292.0 597.1 L169.6 597.1 Z" fill="#d8e8f1"/>
<path d="M169.6 513.5 L174.7 513.9 L179.8 514.3 L184.9 514.6 L190.0 515.0 L195.1 515.3 L200.2 515.6 L205.3 515.9 L210.4 516.2 L215.5 516.5 L220.6 516.8 L225.7 517.0 L230.8 517.3 L235.9 517.5 L241.0 517.8 L246.1 518.0 L251.2 518.1 L256.3 518.3 L261.4 518.4 L266.5 518.4 L271.6 518.4 L276.7 518.4 L281.8 518.3 L286.9 518.2 L292.0 518.0 L292.0 597.1 L169.6 597.1 Z" fill="#e1ecf3"/>
<path d="M169.6 517.8 L174.7 518.1 L179.8 518.5 L184.9 518.8 L190.0 519.1 L195.1 519.3 L200.2 519.6 L205.3 519.8 L210.4 520.0 L215.5 520.1 L220.6 520.3 L225.7 520.5 L230.8 520.7 L235.9 520.8 L241.0 521.0 L246.1 521.1 L251.2 521.2 L256.3 521.3 L261.4 521.3 L266.5 521.2 L271.6 521.2 L276.7 521.1 L281.8 521.0 L286.9 520.8 L292.0 520.7 L292.0 597.1 L169.6 597.1 Z" fill="#e9f0f4"/>
<path d="M169.6 522.0 L174.7 522.3 L179.8 522.6 L184.9 522.9 L190.0 523.2 L195.1 523.4 L200.2 523.5 L205.3 523.6 L210.4 523.7 L215.5 523.8 L220.6 523.9 L225.7 524.0 L230.8 524.1 L235.9 524.2 L241.0 524.2 L246.1 524.3 L251.2 524.3 L256.3 524.2 L261.4 524.1 L266.5 524.0 L271.6 523.9 L276.7 523.8 L281.8 523.6 L286.9 523.5 L292.0 523.3 L292.0 597.1 L169.6 597.1 Z" fill="#f2f5f6"/>
<path d="M169.6 526.2 L174.7 526.5 L179.8 526.8 L184.9 527.0 L190.0 527.2 L195.1 527.4 L200.2 527.4 L205.3 527.4 L210.4 527.4 L215.5 527.4 L220.6 527.4 L225.7 527.4 L230.8 527.4 L235.9 527.5 L241.0 527.5 L246.1 527.4 L251.2 527.3 L256.3 527.2 L261.4 527.0 L266.5 526.8 L271.6 526.7 L276.7 526.5 L281.8 526.3 L286.9 526.1 L292.0 525.9 L292.0 597.1 L169.6 597.1 Z" fill="#f7f7f7"/>
<path d="M169.6 534.1 L174.7 534.2 L179.8 534.2 L184.9 534.3 L190.0 534.2 L195.1 534.1 L200.2 533.9 L205.3 533.6 L210.4 533.4 L215.5 533.1 L220.6 532.9 L225.7 532.8 L230.8 532.7 L235.9 532.6 L241.0 532.6 L246.1 532.5 L251.2 532.4 L256.3 532.2 L261.4 532.1 L266.5 531.9 L271.6 531.7 L276.7 531.5 L281.8 531.2 L286.9 531.0 L292.0 530.7 L292.0 597.1 L169.6 597.1 Z" fill="#f7dacb"/>
<path d="M169.6 549.3 L174.7 549.1 L179.8 549.0 L184.9 548.8 L190.0 548.6 L195.1 548.3 L200.2 548.0 L205.3 547.6 L210.4 547.2 L215.5 546.8 L220.6 546.4 L225.7 546.0 L230.8 545.6 L235.9 545.2 L241.0 544.9 L246.1 544.5 L251.2 544.2 L256.3 543.9 L261.4 543.5 L266.5 543.2 L271.6 542.9 L276.7 542.6 L281.8 542.2 L286.9 541.9 L292.0 541.6 L292.0 597.1 L169.6 597.1 Z" fill="#f5b293"/>
<path d="M169.6 563.5 L174.7 562.9 L179.8 562.2 L184.9 561.5 L190.0 560.8 L195.1 559.9 L200.2 559.0 L205.3 558.0 L210.4 557.0 L215.5 556.1 L220.6 555.2 L225.7 554.5 L230.8 553.8 L235.9 553.1 L241.0 552.5 L246.1 551.8 L251.2 551.0 L256.3 550.3 L261.4 549.4 L266.5 548.5 L271.6 547.6 L276.7 546.5 L281.8 545.4 L286.9 544.3 L292.0 543.2 L292.0 597.1 L169.6 597.1 Z" fill="#ea8d6f"/>
<g stroke="#3a2a2a" stroke-width="0.5" stroke-dasharray="2.6 1.8">
<line x1="184.8" y1="470.2" x2="184.8" y2="595.1" opacity="0.55"/>
<line x1="215.7" y1="470.2" x2="215.7" y2="595.1" opacity="0.45"/>
<line x1="246.6" y1="470.2" x2="246.6" y2="595.1" opacity="0.35"/>
<line x1="277.4" y1="470.2" x2="277.4" y2="595.1" opacity="0.3"/>
<line x1="169.6" y1="479.8" x2="292" y2="479.8" opacity="0.3"/>
<line x1="169.6" y1="509.5" x2="292" y2="509.5" opacity="0.35"/>
<line x1="169.6" y1="539.6" x2="292" y2="539.6" opacity="0.55"/>
<line x1="169.6" y1="569.6" x2="292" y2="569.6" opacity="0.8"/>
</g>
<g fill="none" stroke="#3f363c" stroke-width="0.5" stroke-dasharray="3 1.2" opacity="0.8">
<path d="M308.4 484.3 L299.1 491.8 L292.9 497.8 L285.2 500.2 L279.6 502.8 L276.5 505.2 L269.7 510.3 L272.2 513.9 L275.6 518.7 L275.3 523.2 L269.7 525.6 L266.0 526.2 L266.7 518.7 L262.0 515.7 L260.5 509.7 L255.8 510.3 L250.3 512.7 L252.7 508.2 L249.7 507.3 L241.9 512.1 L239.8 514.2 L243.5 518.1 L249.7 516.6 L254.3 518.7 L247.5 521.7 L244.1 525.3 L248.1 530.7 L252.1 535.2 L249.7 537.3 L252.7 539.7 L251.2 544.2 L246.6 548.7 L245.0 553.2 L240.4 556.2 L235.7 560.7 L226.5 563.1 L217.2 565.7 L215.7 568.7 L214.1 565.4 L209.5 565.1 L204.8 569.6 L202.7 572.6 L204.8 577.1 L211.0 581.6 L213.5 590.6 L212.6 595.1"/>
<path d="M211.6 571.7 L214.1 569.3 L218.1 569.6 L218.4 571.7 L215.7 574.4 L212.3 573.8 L211.6 571.7"/>
<path d="M249.7 554.1 L252.4 555.3 L250.6 560.7 L249.0 563.7 L247.2 560.7 L248.4 556.2 L249.7 554.1"/>
<path d="M248.1 574.1 L252.7 574.7 L253.4 580.1 L251.5 587.0 L255.2 588.2 L258.3 591.2 L254.3 590.0 L249.0 588.2 L246.9 584.6 L247.5 581.0 L248.1 574.1"/>
<path d="M277.2 535.8 L281.2 535.2 L283.0 530.7 L280.6 528.3 L276.9 529.8 L277.2 535.8"/>
<path d="M280.6 527.1 L285.2 526.5 L291.4 525.9 L293.5 523.2 L286.7 523.2 L280.6 527.1"/>
<path d="M169.3 581.6 L176.4 579.8 L177.9 584.6 L180.1 592.1 L180.7 595.1"/>
<path d="M183.2 595.1 L184.7 589.4 L187.8 591.5 L191.9 593.0 L194.0 595.1"/>
</g>
<g fill="none" stroke="#161616" stroke-width="0.8">
<path d="M169.6 460.7 L174.7 461.2 L179.8 461.6 L184.9 462.1 L190.0 462.6 L195.1 463.1 L200.2 463.6 L205.3 464.1 L210.4 464.5 L215.5 465.0 L220.6 465.4 L225.7 465.8 L230.8 466.2 L235.9 466.6 L241.0 467.2 L246.1 467.9 L251.2 468.8 L256.3 469.8 L261.4 470.8 L266.5 471.8 L271.6 472.8 L276.7 473.8 L281.8 474.7 L286.9 475.6 L292.0 476.5"/>
<path d="M169.6 473.8 L174.7 474.0 L179.8 474.1 L184.9 474.3 L190.0 474.5 L195.1 474.8 L200.2 475.1 L205.3 475.4 L210.4 475.8 L215.5 476.3 L220.6 476.7 L225.7 477.2 L230.8 477.6 L235.9 478.1 L241.0 478.6 L246.1 479.1 L251.2 479.5 L256.3 480.0 L261.4 480.5 L266.5 480.9 L271.6 481.4 L276.7 481.9 L281.8 482.4 L286.9 482.8 L292.0 483.3"/>
<path d="M169.6 480.6 L174.7 480.9 L179.8 481.2 L184.9 481.5 L190.0 481.9 L195.1 482.3 L200.2 482.7 L205.3 483.2 L210.4 483.6 L215.5 484.1 L220.6 484.6 L225.7 485.1 L230.8 485.5 L235.9 486.0 L241.0 486.5 L246.1 487.0 L251.2 487.5 L256.3 488.0 L261.4 488.5 L266.5 488.9 L271.6 489.2 L276.7 489.5 L281.8 489.7 L286.9 489.9 L292.0 490.1"/>
<path d="M169.6 487.8 L174.7 488.0 L179.8 488.2 L184.9 488.4 L190.0 488.7 L195.1 489.0 L200.2 489.4 L205.3 489.9 L210.4 490.4 L215.5 490.9 L220.6 491.4 L225.7 491.9 L230.8 492.3 L235.9 492.8 L241.0 493.3 L246.1 493.8 L251.2 494.3 L256.3 494.8 L261.4 495.2 L266.5 495.6 L271.6 496.0 L276.7 496.3 L281.8 496.5 L286.9 496.7 L292.0 496.9"/>
<path d="M169.6 494.6 L174.7 494.9 L179.8 495.3 L184.9 495.7 L190.0 496.1 L195.1 496.5 L200.2 496.9 L205.3 497.4 L210.4 497.9 L215.5 498.4 L220.6 498.9 L225.7 499.3 L230.8 499.8 L235.9 500.3 L241.0 500.7 L246.1 501.2 L251.2 501.5 L256.3 501.9 L261.4 502.2 L266.5 502.5 L271.6 502.7 L276.7 502.8 L281.8 503.0 L286.9 503.1 L292.0 503.2"/>
<path d="M169.6 501.4 L174.7 501.8 L179.8 502.3 L184.9 502.8 L190.0 503.2 L195.1 503.7 L200.2 504.2 L205.3 504.7 L210.4 505.2 L215.5 505.6 L220.6 506.1 L225.7 506.4 L230.8 506.8 L235.9 507.2 L241.0 507.5 L246.1 507.9 L251.2 508.3 L256.3 508.7 L261.4 509.0 L266.5 509.2 L271.6 509.4 L276.7 509.4 L281.8 509.4 L286.9 509.4 L292.0 509.3"/>
<path d="M169.6 510.4 L174.7 510.9 L179.8 511.4 L184.9 511.9 L190.0 512.3 L195.1 512.7 L200.2 513.1 L205.3 513.5 L210.4 513.9 L215.5 514.3 L220.6 514.6 L225.7 515.0 L230.8 515.3 L235.9 515.6 L241.0 515.9 L246.1 516.2 L251.2 516.4 L256.3 516.6 L261.4 516.7 L266.5 516.7 L271.6 516.7 L276.7 516.6 L281.8 516.4 L286.9 516.3 L292.0 516.0"/>
<path d="M169.6 520.6 L174.7 520.9 L179.8 521.2 L184.9 521.6 L190.0 521.9 L195.1 522.2 L200.2 522.5 L205.3 522.9 L210.4 523.1 L215.5 523.4 L220.6 523.6 L225.7 523.7 L230.8 523.8 L235.9 523.9 L241.0 523.9 L246.1 524.0 L251.2 524.0 L256.3 524.1 L261.4 524.0 L266.5 524.0 L271.6 523.8 L276.7 523.6 L281.8 523.4 L286.9 523.1 L292.0 522.8"/>
<path d="M169.6 533.9 L172.7 533.6 L175.7 532.8 L178.8 533.9 L181.8 534.7 L184.9 535.8 L188.0 535.4 L191.0 535.2 L194.1 534.3 L197.1 534.4 L200.2 533.8 L203.3 533.8 L206.3 533.0 L209.4 533.0 L212.4 533.2 L215.5 533.1 L218.6 533.1 L221.6 532.8 L224.7 533.1 L227.7 532.9 L230.8 532.8 L233.9 532.6 L236.9 532.3 L240.0 532.2 L243.0 532.1 L246.1 532.8 L249.2 532.9 L252.2 532.5 L255.3 532.5 L258.3 532.3 L261.4 532.4 L264.5 532.0 L267.5 531.9 L270.6 531.6 L273.6 531.6 L276.7 531.2 L279.8 531.0 L282.8 530.7 L285.9 530.6 L288.9 530.6 L292.0 530.6"/>
<path d="M169.6 543.2 L174.7 543.2 L179.8 543.3 L184.9 543.3 L190.0 543.2 L195.1 543.1 L200.2 542.9 L205.3 542.7 L210.4 542.4 L215.5 542.2 L220.6 541.9 L225.7 541.7 L230.8 541.5 L235.9 541.3 L241.0 541.0 L246.1 540.7 L251.2 540.2 L256.3 539.7 L261.4 539.2 L266.5 538.7 L271.6 538.3 L276.7 537.9 L281.8 537.6 L286.9 537.3 L292.0 537.1"/>
<path d="M169.6 549.3 L174.7 549.1 L179.8 549.0 L184.9 548.8 L190.0 548.6 L195.1 548.3 L200.2 548.0 L205.3 547.6 L210.4 547.2 L215.5 546.8 L220.6 546.4 L225.7 546.0 L230.8 545.6 L235.9 545.2 L241.0 544.9 L246.1 544.5 L251.2 544.2 L256.3 543.9 L261.4 543.5 L266.5 543.2 L271.6 542.9 L276.7 542.6 L281.8 542.2 L286.9 541.9 L292.0 541.6"/>
<path d="M169.6 563.5 L174.7 562.8 L179.8 562.2 L184.9 561.5 L190.0 560.7 L195.1 559.9 L200.2 559.0 L205.3 558.0 L210.4 557.1 L215.5 556.1 L220.6 555.2 L225.7 554.4 L230.8 553.7 L235.9 553.0 L241.0 552.4 L246.1 551.9 L251.2 551.4 L256.3 550.9 L261.4 550.5 L266.5 550.0 L271.6 549.6 L276.7 549.1 L281.8 548.6 L286.9 548.2 L292.0 547.7"/>
</g>
<path d="M294.7 555.1 C291.3 556.0 281.6 558.7 274.4 560.1 C267.3 561.5 258.6 562.6 251.9 563.7 C245.1 564.8 238.7 566.1 233.8 566.9 C229.0 567.6 225.4 567.5 222.6 568.2 C219.8 569.0 217.2 569.9 217.2 571.4 C217.1 572.9 219.0 575.1 222.1 577.0 C225.3 578.9 231.1 580.8 236.1 582.7 C241.1 584.6 247.4 586.8 251.9 588.6 C256.4 590.3 260.1 591.6 263.1 593.1 C266.2 594.5 268.8 596.6 269.9 597.4" fill="none" stroke="#3d1a8e" stroke-width="1.2"/>
<text class="dj" x="229.3" y="478.5" font-size="5.4" text-anchor="middle" style="fill:#222" opacity="0.85">5500</text>
<text class="dj" x="229.3" y="493.9" font-size="5.4" text-anchor="middle" style="fill:#222" opacity="0.85">5580</text>
<text class="dj" x="229.3" y="508.3" font-size="5.4" text-anchor="middle" style="fill:#222" opacity="0.85">5660</text>
<text class="dj" x="227.1" y="525.5" font-size="5.4" text-anchor="middle" style="fill:#222" opacity="0.85">5740</text>
<text class="dj" x="229.3" y="544.0" font-size="5.4" text-anchor="middle" style="fill:#222" opacity="0.85">5820</text>
<text class="dj" x="219.9" y="571.6" font-size="5.2" text-anchor="middle" transform="rotate(-60 219.9 569.6)" style="fill:#8a2be2">5880</text>
<rect x="212.7" y="512.4" width="46.0" height="33.3" fill="none" stroke="#d8281f" stroke-width="1.1"/>
</g>
<rect x="169.6" y="470.2" width="122.4" height="124.9" fill="none" stroke="#1a1a1a" stroke-width="1.1"/>
<text class="dj" x="228.2" y="462.0" font-size="15.8" text-anchor="middle">CP5</text>
<text class="dj" x="168.3" y="481.8" font-size="5.8" text-anchor="end" style="fill:#555">50°N</text>
<text class="dj" x="168.3" y="511.5" font-size="5.8" text-anchor="end" style="fill:#555">40°N</text>
<text class="dj" x="168.3" y="541.6" font-size="5.8" text-anchor="end" style="fill:#555">30°N</text>
<text class="dj" x="168.3" y="571.6" font-size="5.8" text-anchor="end" style="fill:#555">20°N</text>
<text class="dj" x="186.0" y="600.6" font-size="5" text-anchor="middle" style="fill:#555">100°E</text>
<text class="dj" x="216.9" y="600.6" font-size="5" text-anchor="middle" style="fill:#555">110°E</text>
<text class="dj" x="247.8" y="600.6" font-size="5" text-anchor="middle" style="fill:#555">120°E</text>
<text class="dj" x="278.6" y="600.6" font-size="5" text-anchor="middle" style="fill:#555">130°E</text>
<clipPath id="cCP6"><rect x="312.7" y="470.2" width="122.3" height="124.9"/></clipPath>
<g clip-path="url(#cCP6)">
<rect x="312.7" y="470.2" width="122.3" height="124.9" fill="#14448a"/>
<path d="M312.7 438.1 L317.8 440.0 L322.9 441.9 L328.0 443.7 L333.1 445.6 L338.2 447.5 L343.3 449.5 L348.4 451.4 L353.5 453.3 L358.6 455.1 L363.7 456.9 L368.8 458.5 L373.8 460.0 L378.9 461.4 L384.0 462.6 L389.1 463.5 L394.2 464.3 L399.3 464.8 L404.4 465.2 L409.5 465.2 L414.6 465.1 L419.7 464.7 L424.8 464.2 L429.9 463.6 L435.0 463.0 L435.0 597.1 L312.7 597.1 Z" fill="#174c92"/>
<path d="M312.7 450.8 L317.8 452.4 L322.9 454.0 L328.0 455.6 L333.1 457.3 L338.2 458.9 L343.3 460.6 L348.4 462.3 L353.5 463.9 L358.6 465.5 L363.7 466.9 L368.8 468.3 L373.8 469.5 L378.9 470.6 L384.0 471.5 L389.1 472.4 L394.2 473.0 L399.3 473.6 L404.4 474.0 L409.5 474.1 L414.6 474.1 L419.7 473.8 L424.8 473.5 L429.9 473.0 L435.0 472.5 L435.0 597.1 L312.7 597.1 Z" fill="#1b549a"/>
<path d="M312.7 461.8 L317.8 463.2 L322.9 464.5 L328.0 465.9 L333.1 467.3 L338.2 468.8 L343.3 470.2 L348.4 471.7 L353.5 473.1 L358.6 474.4 L363.7 475.6 L368.8 476.7 L373.8 477.6 L378.9 478.5 L384.0 479.3 L389.1 480.0 L394.2 480.6 L399.3 481.1 L404.4 481.5 L409.5 481.7 L414.6 481.7 L419.7 481.6 L424.8 481.3 L429.9 481.0 L435.0 480.6 L435.0 597.1 L312.7 597.1 Z" fill="#1f5ca2"/>
<path d="M312.7 466.7 L317.8 468.0 L322.9 469.2 L328.0 470.5 L333.1 471.8 L338.2 473.1 L343.3 474.5 L348.4 475.8 L353.5 477.1 L358.6 478.3 L363.7 479.5 L368.8 480.5 L373.8 481.4 L378.9 482.2 L384.0 482.9 L389.1 483.5 L394.2 484.0 L399.3 484.4 L404.4 484.7 L409.5 484.8 L414.6 484.8 L419.7 484.6 L424.8 484.3 L429.9 483.9 L435.0 483.5 L435.0 597.1 L312.7 597.1 Z" fill="#2264aa"/>
<path d="M312.7 471.6 L317.8 472.8 L322.9 473.9 L328.0 475.1 L333.1 476.3 L338.2 477.5 L343.3 478.7 L348.4 480.0 L353.5 481.2 L358.6 482.3 L363.7 483.3 L368.8 484.3 L373.8 485.1 L378.9 485.8 L384.0 486.5 L389.1 487.0 L394.2 487.4 L399.3 487.7 L404.4 487.9 L409.5 488.0 L414.6 487.9 L419.7 487.6 L424.8 487.3 L429.9 486.9 L435.0 486.5 L435.0 597.1 L312.7 597.1 Z" fill="#276db0"/>
<path d="M312.7 476.5 L317.8 477.6 L322.9 478.7 L328.0 479.7 L333.1 480.8 L338.2 481.9 L343.3 483.0 L348.4 484.1 L353.5 485.2 L358.6 486.2 L363.7 487.2 L368.8 488.1 L373.8 488.8 L378.9 489.5 L384.0 490.1 L389.1 490.5 L394.2 490.8 L399.3 491.1 L404.4 491.1 L409.5 491.1 L414.6 490.9 L419.7 490.7 L424.8 490.3 L429.9 489.9 L435.0 489.4 L435.0 597.1 L312.7 597.1 Z" fill="#2e77b5"/>
<path d="M312.7 481.5 L317.8 482.4 L322.9 483.4 L328.0 484.3 L333.1 485.3 L338.2 486.3 L343.3 487.3 L348.4 488.3 L353.5 489.3 L358.6 490.2 L363.7 491.1 L368.8 491.8 L373.8 492.5 L378.9 493.2 L384.0 493.6 L389.1 494.0 L394.2 494.2 L399.3 494.4 L404.4 494.4 L409.5 494.2 L414.6 494.0 L419.7 493.7 L424.8 493.3 L429.9 492.8 L435.0 492.4 L435.0 597.1 L312.7 597.1 Z" fill="#3580ba"/>
<path d="M312.7 486.4 L317.8 487.2 L322.9 488.1 L328.0 488.9 L333.1 489.8 L338.2 490.7 L343.3 491.6 L348.4 492.4 L353.5 493.3 L358.6 494.1 L363.7 494.9 L368.8 495.6 L373.8 496.3 L378.9 496.8 L384.0 497.2 L389.1 497.5 L394.2 497.7 L399.3 497.7 L404.4 497.6 L409.5 497.4 L414.6 497.1 L419.7 496.7 L424.8 496.3 L429.9 495.8 L435.0 495.3 L435.0 597.1 L312.7 597.1 Z" fill="#3c8abf"/>
<path d="M312.7 491.3 L317.8 492.0 L322.9 492.8 L328.0 493.5 L333.1 494.3 L338.2 495.0 L343.3 495.8 L348.4 496.6 L353.5 497.3 L358.6 498.1 L363.7 498.8 L368.8 499.4 L373.8 500.0 L378.9 500.5 L384.0 500.8 L389.1 501.0 L394.2 501.1 L399.3 501.0 L404.4 500.8 L409.5 500.5 L414.6 500.1 L419.7 499.7 L424.8 499.3 L429.9 498.8 L435.0 498.3 L435.0 597.1 L312.7 597.1 Z" fill="#4494c3"/>
<path d="M312.7 495.8 L317.8 496.5 L322.9 497.2 L328.0 497.9 L333.1 498.6 L338.2 499.3 L343.3 500.0 L348.4 500.7 L353.5 501.4 L358.6 502.0 L363.7 502.7 L368.8 503.2 L373.8 503.7 L378.9 504.2 L384.0 504.4 L389.1 504.6 L394.2 504.6 L399.3 504.4 L404.4 504.2 L409.5 503.8 L414.6 503.4 L419.7 503.0 L424.8 502.5 L429.9 502.0 L435.0 501.4 L435.0 597.1 L312.7 597.1 Z" fill="#569fc9"/>
<path d="M312.7 500.1 L317.8 500.7 L322.9 501.4 L328.0 502.1 L333.1 502.7 L338.2 503.4 L343.3 504.1 L348.4 504.7 L353.5 505.4 L358.6 506.0 L363.7 506.5 L368.8 507.0 L373.8 507.5 L378.9 507.9 L384.0 508.1 L389.1 508.2 L394.2 508.1 L399.3 507.9 L404.4 507.6 L409.5 507.3 L414.6 506.9 L419.7 506.4 L424.8 505.9 L429.9 505.4 L435.0 504.8 L435.0 597.1 L312.7 597.1 Z" fill="#68aacf"/>
<path d="M312.7 504.3 L317.8 504.9 L322.9 505.6 L328.0 506.3 L333.1 506.9 L338.2 507.5 L343.3 508.2 L348.4 508.8 L353.5 509.3 L358.6 509.9 L363.7 510.4 L368.8 510.9 L373.8 511.3 L378.9 511.6 L384.0 511.7 L389.1 511.8 L394.2 511.7 L399.3 511.4 L404.4 511.1 L409.5 510.7 L414.6 510.3 L419.7 509.8 L424.8 509.3 L429.9 508.8 L435.0 508.2 L435.0 597.1 L312.7 597.1 Z" fill="#79b5d6"/>
<path d="M312.7 508.5 L317.8 509.2 L322.9 509.8 L328.0 510.4 L333.1 511.1 L338.2 511.7 L343.3 512.2 L348.4 512.8 L353.5 513.3 L358.6 513.8 L363.7 514.3 L368.8 514.7 L373.8 515.0 L378.9 515.2 L384.0 515.4 L389.1 515.4 L394.2 515.2 L399.3 515.0 L404.4 514.6 L409.5 514.2 L414.6 513.7 L419.7 513.2 L424.8 512.7 L429.9 512.2 L435.0 511.6 L435.0 597.1 L312.7 597.1 Z" fill="#8bc1dc"/>
<path d="M312.7 512.8 L317.8 513.4 L322.9 514.0 L328.0 514.6 L333.1 515.2 L338.2 515.8 L343.3 516.3 L348.4 516.8 L353.5 517.3 L358.6 517.7 L363.7 518.1 L368.8 518.5 L373.8 518.8 L378.9 518.9 L384.0 519.0 L389.1 519.0 L394.2 518.8 L399.3 518.5 L404.4 518.1 L409.5 517.7 L414.6 517.2 L419.7 516.7 L424.8 516.1 L429.9 515.6 L435.0 515.0 L435.0 597.1 L312.7 597.1 Z" fill="#9bc9e0"/>
<path d="M312.7 517.0 L317.8 517.6 L322.9 518.2 L328.0 518.8 L333.1 519.4 L338.2 519.9 L343.3 520.4 L348.4 520.9 L353.5 521.3 L358.6 521.7 L363.7 522.0 L368.8 522.3 L373.8 522.5 L378.9 522.6 L384.0 522.7 L389.1 522.6 L394.2 522.3 L399.3 522.0 L404.4 521.6 L409.5 521.1 L414.6 520.6 L419.7 520.1 L424.8 519.5 L429.9 519.0 L435.0 518.4 L435.0 597.1 L312.7 597.1 Z" fill="#a9d1e5"/>
<path d="M312.7 521.2 L317.8 521.8 L322.9 522.4 L328.0 523.0 L333.1 523.5 L338.2 524.0 L343.3 524.5 L348.4 524.9 L353.5 525.3 L358.6 525.6 L363.7 525.9 L368.8 526.1 L373.8 526.3 L378.9 526.3 L384.0 526.3 L389.1 526.2 L394.2 525.9 L399.3 525.5 L404.4 525.1 L409.5 524.6 L414.6 524.0 L419.7 523.5 L424.8 522.9 L429.9 522.4 L435.0 521.8 L435.0 597.1 L312.7 597.1 Z" fill="#b7d8e9"/>
<path d="M312.7 523.9 L317.8 524.5 L322.9 525.0 L328.0 525.6 L333.1 526.1 L338.2 526.6 L343.3 527.1 L348.4 527.5 L353.5 527.8 L358.6 528.1 L363.7 528.4 L368.8 528.5 L373.8 528.7 L378.9 528.7 L384.0 528.6 L389.1 528.4 L394.2 528.1 L399.3 527.8 L404.4 527.3 L409.5 526.8 L414.6 526.2 L419.7 525.6 L424.8 525.0 L429.9 524.4 L435.0 523.8 L435.0 597.1 L312.7 597.1 Z" fill="#c5dfed"/>
<path d="M312.7 526.3 L317.8 526.9 L322.9 527.4 L328.0 528.0 L333.1 528.5 L338.2 529.0 L343.3 529.4 L348.4 529.8 L353.5 530.1 L358.6 530.4 L363.7 530.6 L368.8 530.8 L373.8 530.9 L378.9 530.9 L384.0 530.8 L389.1 530.6 L394.2 530.2 L399.3 529.8 L404.4 529.3 L409.5 528.8 L414.6 528.2 L419.7 527.6 L424.8 527.0 L429.9 526.3 L435.0 525.7 L435.0 597.1 L312.7 597.1 Z" fill="#d2e6f0"/>
<path d="M312.7 528.7 L317.8 529.3 L322.9 529.8 L328.0 530.4 L333.1 530.9 L338.2 531.3 L343.3 531.8 L348.4 532.2 L353.5 532.5 L358.6 532.7 L363.7 532.9 L368.8 533.1 L373.8 533.1 L378.9 533.1 L384.0 532.9 L389.1 532.7 L394.2 532.3 L399.3 531.9 L404.4 531.4 L409.5 530.8 L414.6 530.2 L419.7 529.6 L424.8 528.9 L429.9 528.2 L435.0 527.5 L435.0 597.1 L312.7 597.1 Z" fill="#dbeaf2"/>
<path d="M312.7 531.2 L317.8 531.7 L322.9 532.3 L328.0 532.8 L333.1 533.3 L338.2 533.7 L343.3 534.1 L348.4 534.5 L353.5 534.8 L358.6 535.1 L363.7 535.2 L368.8 535.3 L373.8 535.3 L378.9 535.2 L384.0 535.1 L389.1 534.8 L394.2 534.4 L399.3 534.0 L404.4 533.5 L409.5 532.9 L414.6 532.3 L419.7 531.6 L424.8 530.9 L429.9 530.1 L435.0 529.4 L435.0 597.1 L312.7 597.1 Z" fill="#e4eef3"/>
<path d="M312.7 533.6 L317.8 534.1 L322.9 534.7 L328.0 535.2 L333.1 535.6 L338.2 536.1 L343.3 536.5 L348.4 536.9 L353.5 537.2 L358.6 537.4 L363.7 537.5 L368.8 537.6 L373.8 537.5 L378.9 537.4 L384.0 537.2 L389.1 536.9 L394.2 536.5 L399.3 536.1 L404.4 535.5 L409.5 534.9 L414.6 534.3 L419.7 533.6 L424.8 532.8 L429.9 532.0 L435.0 531.3 L435.0 597.1 L312.7 597.1 Z" fill="#ecf2f5"/>
<path d="M312.7 536.1 L317.8 536.6 L322.9 537.1 L328.0 537.6 L333.1 538.0 L338.2 538.5 L343.3 538.9 L348.4 539.2 L353.5 539.5 L358.6 539.7 L363.7 539.8 L368.8 539.8 L373.8 539.8 L378.9 539.6 L384.0 539.4 L389.1 539.0 L394.2 538.6 L399.3 538.1 L404.4 537.6 L409.5 537.0 L414.6 536.3 L419.7 535.5 L424.8 534.8 L429.9 533.9 L435.0 533.1 L435.0 597.1 L312.7 597.1 Z" fill="#f5f6f7"/>
<path d="M312.7 542.0 L317.8 542.5 L322.9 543.0 L328.0 543.5 L333.1 543.9 L338.2 544.4 L343.3 544.7 L348.4 545.0 L353.5 545.3 L358.6 545.4 L363.7 545.4 L368.8 545.3 L373.8 545.1 L378.9 544.8 L384.0 544.4 L389.1 544.0 L394.2 543.5 L399.3 543.0 L404.4 542.4 L409.5 541.7 L414.6 541.0 L419.7 540.2 L424.8 539.3 L429.9 538.4 L435.0 537.5 L435.0 597.1 L312.7 597.1 Z" fill="#f7dacb"/>
<path d="M312.7 549.9 L317.8 550.2 L322.9 550.5 L328.0 550.8 L333.1 551.0 L338.2 551.1 L343.3 551.1 L348.4 551.1 L353.5 551.0 L358.6 550.8 L363.7 550.5 L368.8 550.1 L373.8 549.7 L378.9 549.2 L384.0 548.6 L389.1 547.9 L394.2 547.2 L399.3 546.4 L404.4 545.6 L409.5 544.9 L414.6 544.2 L419.7 543.6 L424.8 543.0 L429.9 542.5 L435.0 542.0 L435.0 597.1 L312.7 597.1 Z" fill="#f5b293"/>
<path d="M312.7 563.5 L317.8 563.2 L322.9 562.8 L328.0 562.3 L333.1 561.8 L338.2 561.1 L343.3 560.2 L348.4 559.2 L353.5 558.2 L358.6 557.2 L363.7 556.4 L368.8 555.7 L373.8 555.1 L378.9 554.6 L384.0 554.0 L389.1 553.4 L394.2 552.6 L399.3 551.8 L404.4 550.9 L409.5 550.1 L414.6 549.3 L419.7 548.6 L424.8 547.9 L429.9 547.2 L435.0 546.5 L435.0 597.1 L312.7 597.1 Z" fill="#ea8d6f"/>
<ellipse cx="428.2" cy="575.9" rx="26.6" ry="10.9" fill="#dc6e58"/>
<ellipse cx="428.2" cy="575.9" rx="23.8" ry="9.5" fill="#cb4a43"/>
<g stroke="#3a2a2a" stroke-width="0.5" stroke-dasharray="2.6 1.8">
<line x1="327.9" y1="470.2" x2="327.9" y2="595.1" opacity="0.55"/>
<line x1="358.8" y1="470.2" x2="358.8" y2="595.1" opacity="0.45"/>
<line x1="389.6" y1="470.2" x2="389.6" y2="595.1" opacity="0.35"/>
<line x1="420.4" y1="470.2" x2="420.4" y2="595.1" opacity="0.3"/>
<line x1="312.7" y1="479.8" x2="435" y2="479.8" opacity="0.3"/>
<line x1="312.7" y1="509.5" x2="435" y2="509.5" opacity="0.35"/>
<line x1="312.7" y1="539.6" x2="435" y2="539.6" opacity="0.55"/>
<line x1="312.7" y1="569.6" x2="435" y2="569.6" opacity="0.8"/>
</g>
<g fill="none" stroke="#3f363c" stroke-width="0.5" stroke-dasharray="3 1.2" opacity="0.8">
<path d="M451.4 484.3 L442.1 491.8 L435.9 497.8 L428.2 500.2 L422.6 502.8 L419.6 505.2 L412.8 510.3 L415.2 513.9 L418.6 518.7 L418.3 523.2 L412.8 525.6 L409.1 526.2 L409.7 518.7 L405.0 515.7 L403.5 509.7 L398.9 510.3 L393.3 512.7 L395.8 508.2 L392.7 507.3 L385.0 512.1 L382.8 514.2 L386.5 518.1 L392.7 516.6 L397.3 518.7 L390.5 521.7 L387.1 525.3 L391.1 530.7 L395.2 535.2 L392.7 537.3 L395.8 539.7 L394.2 544.2 L389.6 548.7 L388.1 553.2 L383.4 556.2 L378.8 560.7 L369.5 563.1 L360.3 565.7 L358.7 568.7 L357.2 565.4 L352.5 565.1 L347.9 569.6 L345.7 572.6 L347.9 577.1 L354.1 581.6 L356.6 590.6 L355.6 595.1"/>
<path d="M354.7 571.7 L357.2 569.3 L361.2 569.6 L361.5 571.7 L358.7 574.4 L355.3 573.8 L354.7 571.7"/>
<path d="M392.7 554.1 L395.5 555.3 L393.6 560.7 L392.1 563.7 L390.2 560.7 L391.5 556.2 L392.7 554.1"/>
<path d="M391.1 574.1 L395.8 574.7 L396.4 580.1 L394.5 587.0 L398.2 588.2 L401.3 591.2 L397.3 590.0 L392.1 588.2 L389.9 584.6 L390.5 581.0 L391.1 574.1"/>
<path d="M420.2 535.8 L424.2 535.2 L426.0 530.7 L423.6 528.3 L419.9 529.8 L420.2 535.8"/>
<path d="M423.6 527.1 L428.2 526.5 L434.4 525.9 L436.5 523.2 L429.7 523.2 L423.6 527.1"/>
<path d="M312.4 581.6 L319.5 579.8 L321.0 584.6 L323.2 592.1 L323.8 595.1"/>
<path d="M326.3 595.1 L327.8 589.4 L330.9 591.5 L334.9 593.0 L337.1 595.1"/>
</g>
<g fill="none" stroke="#161616" stroke-width="0.8">
<path d="M312.7 464.1 L317.8 465.0 L322.9 465.9 L328.0 466.8 L333.1 467.8 L338.2 468.8 L343.3 470.0 L348.4 471.1 L353.5 472.2 L358.6 473.3 L363.7 474.2 L368.8 474.9 L373.8 475.5 L378.9 476.0 L384.0 476.4 L389.1 476.7 L394.2 476.9 L399.3 477.0 L404.4 477.1 L409.5 477.0 L414.6 476.8 L419.7 476.5 L424.8 476.2 L429.9 475.8 L435.0 475.4"/>
<path d="M312.7 470.5 L317.8 471.4 L322.9 472.2 L328.0 473.1 L333.1 474.0 L338.2 475.0 L343.3 476.0 L348.4 477.1 L353.5 478.1 L358.6 479.1 L363.7 479.9 L368.8 480.6 L373.8 481.1 L378.9 481.6 L384.0 481.9 L389.1 482.2 L394.2 482.3 L399.3 482.4 L404.4 482.4 L409.5 482.3 L414.6 482.1 L419.7 481.8 L424.8 481.4 L429.9 481.0 L435.0 480.6"/>
<path d="M312.7 477.0 L317.8 477.7 L322.9 478.5 L328.0 479.3 L333.1 480.2 L338.2 481.1 L343.3 482.1 L348.4 483.0 L353.5 484.0 L358.6 484.9 L363.7 485.6 L368.8 486.2 L373.8 486.7 L378.9 487.1 L384.0 487.4 L389.1 487.6 L394.2 487.7 L399.3 487.7 L404.4 487.7 L409.5 487.5 L414.6 487.3 L419.7 487.0 L424.8 486.6 L429.9 486.2 L435.0 485.8"/>
<path d="M312.7 483.4 L317.8 484.1 L322.9 484.8 L328.0 485.6 L333.1 486.4 L338.2 487.2 L343.3 488.1 L348.4 489.0 L353.5 489.9 L358.6 490.7 L363.7 491.4 L368.8 491.9 L373.8 492.4 L378.9 492.7 L384.0 492.9 L389.1 493.1 L394.2 493.1 L399.3 493.1 L404.4 493.0 L409.5 492.8 L414.6 492.5 L419.7 492.2 L424.8 491.8 L429.9 491.4 L435.0 491.0"/>
<path d="M312.7 489.8 L317.8 490.5 L322.9 491.2 L328.0 491.9 L333.1 492.6 L338.2 493.3 L343.3 494.2 L348.4 495.0 L353.5 495.7 L358.6 496.5 L363.7 497.1 L368.8 497.6 L373.8 498.0 L378.9 498.2 L384.0 498.4 L389.1 498.5 L394.2 498.5 L399.3 498.5 L404.4 498.3 L409.5 498.1 L414.6 497.8 L419.7 497.4 L424.8 497.0 L429.9 496.6 L435.0 496.2"/>
<path d="M312.7 496.3 L317.8 496.9 L322.9 497.5 L328.0 498.1 L333.1 498.8 L338.2 499.5 L343.3 500.2 L348.4 500.9 L353.5 501.6 L358.6 502.3 L363.7 502.8 L368.8 503.3 L373.8 503.6 L378.9 503.8 L384.0 503.9 L389.1 504.0 L394.2 503.9 L399.3 503.8 L404.4 503.6 L409.5 503.3 L414.6 503.0 L419.7 502.7 L424.8 502.2 L429.9 501.8 L435.0 501.4"/>
<path d="M312.7 502.7 L317.8 503.3 L322.9 503.8 L328.0 504.4 L333.1 505.0 L338.2 505.6 L343.3 506.3 L348.4 506.9 L353.5 507.5 L358.6 508.1 L363.7 508.5 L368.8 508.9 L373.8 509.2 L378.9 509.4 L384.0 509.4 L389.1 509.4 L394.2 509.3 L399.3 509.2 L404.4 508.9 L409.5 508.6 L414.6 508.3 L419.7 507.9 L424.8 507.5 L429.9 507.0 L435.0 506.6"/>
<path d="M312.7 509.2 L317.8 509.7 L322.9 510.2 L328.0 510.7 L333.1 511.2 L338.2 511.7 L343.3 512.3 L348.4 512.9 L353.5 513.4 L358.6 513.9 L363.7 514.3 L368.8 514.6 L373.8 514.8 L378.9 514.9 L384.0 515.0 L389.1 514.9 L394.2 514.7 L399.3 514.5 L404.4 514.2 L409.5 513.9 L414.6 513.5 L419.7 513.1 L424.8 512.7 L429.9 512.2 L435.0 511.8"/>
<path d="M312.7 515.6 L317.8 516.0 L322.9 516.5 L328.0 516.9 L333.1 517.4 L338.2 517.9 L343.3 518.3 L348.4 518.8 L353.5 519.3 L358.6 519.7 L363.7 520.0 L368.8 520.3 L373.8 520.4 L378.9 520.5 L384.0 520.5 L389.1 520.3 L394.2 520.1 L399.3 519.9 L404.4 519.5 L409.5 519.2 L414.6 518.7 L419.7 518.3 L424.8 517.9 L429.9 517.4 L435.0 517.0"/>
<path d="M312.7 522.0 L317.8 522.4 L322.9 522.8 L328.0 523.2 L333.1 523.6 L338.2 524.0 L343.3 524.4 L348.4 524.8 L353.5 525.2 L358.6 525.5 L363.7 525.7 L368.8 525.9 L373.8 526.0 L378.9 526.0 L384.0 526.0 L389.1 525.8 L394.2 525.5 L399.3 525.2 L404.4 524.8 L409.5 524.4 L414.6 524.0 L419.7 523.5 L424.8 523.1 L429.9 522.6 L435.0 522.1"/>
<path d="M312.7 528.5 L317.8 528.8 L322.9 529.1 L328.0 529.5 L333.1 529.8 L338.2 530.1 L343.3 530.4 L348.4 530.8 L353.5 531.0 L358.6 531.3 L363.7 531.5 L368.8 531.6 L373.8 531.6 L378.9 531.6 L384.0 531.5 L389.1 531.3 L394.2 531.0 L399.3 530.6 L404.4 530.1 L409.5 529.7 L414.6 529.2 L419.7 528.8 L424.8 528.3 L429.9 527.8 L435.0 527.3"/>
<path d="M312.7 535.7 L317.8 536.1 L322.9 536.5 L328.0 536.9 L333.1 537.2 L338.2 537.6 L343.3 537.9 L348.4 538.2 L353.5 538.4 L358.6 538.6 L363.7 538.7 L368.8 538.6 L373.8 538.5 L378.9 538.3 L384.0 538.1 L389.1 537.7 L394.2 537.3 L399.3 536.9 L404.4 536.4 L409.5 535.8 L414.6 535.2 L419.7 534.6 L424.8 533.9 L429.9 533.2 L435.0 532.5"/>
<path d="M312.7 542.0 L315.8 541.8 L318.8 542.5 L321.9 542.3 L324.9 543.0 L328.0 543.1 L331.0 543.5 L334.1 544.5 L337.2 544.6 L340.2 545.2 L343.3 545.0 L346.3 545.0 L349.4 545.4 L352.4 545.2 L355.5 545.9 L358.6 545.4 L361.6 545.2 L364.7 545.2 L367.7 545.5 L370.8 545.7 L373.8 545.4 L376.9 545.3 L380.0 544.7 L383.0 543.8 L386.1 543.0 L389.1 542.6 L392.2 542.3 L395.3 542.3 L398.3 542.3 L401.4 542.5 L404.4 542.3 L407.5 541.9 L410.5 541.5 L413.6 541.0 L416.7 540.4 L419.7 539.7 L422.8 539.2 L425.8 538.8 L428.9 538.3 L431.9 537.7 L435.0 537.7"/>
<path d="M312.7 549.9 L317.8 550.2 L322.9 550.5 L328.0 550.8 L333.1 551.0 L338.2 551.1 L343.3 551.1 L348.4 551.1 L353.5 551.0 L358.6 550.8 L363.7 550.5 L368.8 550.1 L373.8 549.7 L378.9 549.2 L384.0 548.6 L389.1 547.9 L394.2 547.2 L399.3 546.4 L404.4 545.6 L409.5 544.9 L414.6 544.2 L419.7 543.6 L424.8 543.0 L429.9 542.5 L435.0 542.0"/>
<path d="M312.7 556.7 L317.8 556.8 L322.9 556.8 L328.0 556.8 L333.1 556.8 L338.2 556.7 L343.3 556.5 L348.4 556.2 L353.5 555.8 L358.6 555.4 L363.7 554.9 L368.8 554.4 L373.8 553.8 L378.9 553.1 L384.0 552.5 L389.1 551.8 L394.2 551.0 L399.3 550.3 L404.4 549.6 L409.5 548.9 L414.6 548.3 L419.7 547.7 L424.8 547.2 L429.9 546.6 L435.0 546.1"/>
<path d="M312.7 563.5 L317.8 563.1 L322.9 562.8 L328.0 562.3 L333.1 561.8 L338.2 561.1 L343.3 560.2 L348.4 559.2 L353.5 558.2 L358.6 557.2 L363.7 556.4 L368.8 555.6 L373.8 555.0 L378.9 554.4 L384.0 553.9 L389.1 553.5 L394.2 553.2 L399.3 552.8 L404.4 552.5 L409.5 552.2 L414.6 552.0 L419.7 551.7 L424.8 551.5 L429.9 551.3 L435.0 551.1"/>
</g>
<path d="M438.4 555.1 C434.2 555.8 421.4 557.6 413.5 559.0 C405.6 560.4 397.6 561.8 390.8 563.5 C384.0 565.2 377.4 567.4 372.7 569.1 C368.0 570.8 364.8 572.1 362.8 573.6 C360.7 575.1 359.8 576.5 360.3 578.2 C360.7 579.9 362.3 581.9 365.5 583.8 C368.7 585.7 374.5 587.8 379.5 589.5 C384.5 591.1 391.2 592.5 395.4 594.0 C399.5 595.5 402.9 597.7 404.4 598.5" fill="none" stroke="#3d1a8e" stroke-width="1.2"/>
<text class="dj" x="388.6" y="477.4" font-size="5.4" text-anchor="middle" style="fill:#222" opacity="0.85">5320</text>
<text class="dj" x="372.7" y="488.7" font-size="5.4" text-anchor="middle" style="fill:#222" opacity="0.85">5400</text>
<text class="dj" x="372.7" y="498.9" font-size="5.4" text-anchor="middle" style="fill:#222" opacity="0.85">5480</text>
<text class="dj" x="372.7" y="509.0" font-size="5.4" text-anchor="middle" style="fill:#222" opacity="0.85">5560</text>
<text class="dj" x="371.6" y="519.6" font-size="5.4" text-anchor="middle" style="fill:#222" opacity="0.85">5640</text>
<text class="dj" x="371.6" y="533.4" font-size="5.4" text-anchor="middle" style="fill:#222" opacity="0.85">5720</text>
<text class="dj" x="372.7" y="547.6" font-size="5.4" text-anchor="middle" style="fill:#222" opacity="0.85">5800</text>
<text class="dj" x="369.3" y="571.6" font-size="5.2" text-anchor="middle" transform="rotate(-30 369.3 569.6)" style="fill:#8a2be2">5880</text>
<rect x="355.7" y="512.4" width="46.0" height="33.3" fill="none" stroke="#d8281f" stroke-width="1.1"/>
</g>
<rect x="312.7" y="470.2" width="122.3" height="124.9" fill="none" stroke="#1a1a1a" stroke-width="1.1"/>
<text class="dj" x="371.2" y="462.0" font-size="15.8" text-anchor="middle">CP6</text>
<text class="dj" x="311.4" y="481.8" font-size="5.8" text-anchor="end" style="fill:#555">50°N</text>
<text class="dj" x="311.4" y="511.5" font-size="5.8" text-anchor="end" style="fill:#555">40°N</text>
<text class="dj" x="311.4" y="541.6" font-size="5.8" text-anchor="end" style="fill:#555">30°N</text>
<text class="dj" x="311.4" y="571.6" font-size="5.8" text-anchor="end" style="fill:#555">20°N</text>
<text class="dj" x="329.1" y="600.6" font-size="5" text-anchor="middle" style="fill:#555">100°E</text>
<text class="dj" x="360.0" y="600.6" font-size="5" text-anchor="middle" style="fill:#555">110°E</text>
<text class="dj" x="390.8" y="600.6" font-size="5" text-anchor="middle" style="fill:#555">120°E</text>
<text class="dj" x="421.6" y="600.6" font-size="5" text-anchor="middle" style="fill:#555">130°E</text>
<!-- p_stack -->
<defs><filter id="bl3" x="-30%" y="-30%" width="160%" height="160%"><feGaussianBlur stdDeviation="3"/></filter><filter id="bl2" x="-30%" y="-30%" width="160%" height="160%"><feGaussianBlur stdDeviation="1.6"/></filter><filter id="bl6" x="-30%" y="-30%" width="160%" height="160%"><feGaussianBlur stdDeviation="6"/></filter></defs>
<clipPath id="lk13"><rect x="675.00" y="48.90" width="159.22" height="128.10"/></clipPath>
<g clip-path="url(#lk13)">
<rect x="675.00" y="48.90" width="159.22" height="128.10" fill="#a2d6f5"/>
<ellipse cx="715.0" cy="55.0" rx="30.0" ry="6.0" fill="#8ccaf3" filter="url(#bl3)" opacity="1"/>
<ellipse cx="830.0" cy="118.9" rx="5.0" ry="18.0" fill="#7fbdf0" filter="url(#bl2)" opacity="1"/>
</g>
<clipPath id="lk12"><rect x="666.30" y="61.10" width="159.08" height="128.10"/></clipPath>
<g clip-path="url(#lk12)">
<rect x="666.30" y="61.10" width="159.08" height="128.10" fill="#841010"/>
</g>
<clipPath id="lk11"><rect x="657.60" y="74.20" width="158.94" height="128.10"/></clipPath>
<g clip-path="url(#lk11)">
<rect x="657.60" y="74.20" width="158.94" height="128.10" fill="#a2d6f5"/>
<rect x="657.6" y="74.2" width="118.0" height="13.3" fill="#f6e25a"/>
<ellipse cx="665.6" cy="80.2" rx="16.0" ry="9.0" fill="#8a1414" filter="url(#bl2)" opacity="1"/>
<ellipse cx="687.6" cy="80.2" rx="12.0" ry="9.0" fill="#e83a12" filter="url(#bl2)" opacity="1"/>
<ellipse cx="702.6" cy="77.2" rx="10.0" ry="6.0" fill="#f79a1e" filter="url(#bl2)" opacity="1"/>
<ellipse cx="727.6" cy="84.2" rx="14.0" ry="3.0" fill="#f7a21e" filter="url(#bl2)" opacity="0.8"/>
<ellipse cx="757.6" cy="77.2" rx="12.0" ry="3.0" fill="#f8f3a0" filter="url(#bl2)" opacity="0.8"/>
<ellipse cx="812.3" cy="134.2" rx="4.0" ry="10.0" fill="#c9e8fa" filter="url(#bl2)" opacity="0.8"/>
<ellipse cx="812.3" cy="190.2" rx="6.0" ry="14.0" fill="#2a5fd8" filter="url(#bl3)" opacity="1"/>
<ellipse cx="809.8" cy="124.2" rx="1.8" ry="12.0" fill="#3a72de" filter="url(#bl2)" opacity="1"/>
</g>
<clipPath id="lk10"><rect x="648.80" y="86.20" width="158.80" height="128.10"/></clipPath>
<g clip-path="url(#lk10)">
<rect x="648.80" y="86.20" width="158.80" height="128.10" fill="#a2d6f5"/>
<ellipse cx="666.8" cy="94.3" rx="26.0" ry="12.0" fill="#f4f3c4" filter="url(#bl2)" opacity="1"/>
<ellipse cx="682.8" cy="95.3" rx="14.0" ry="10.0" fill="#f5ef74" filter="url(#bl2)" opacity="1"/>
<ellipse cx="712.8" cy="94.3" rx="22.0" ry="14.0" fill="#f7a82a" filter="url(#bl3)" opacity="1"/>
<ellipse cx="760.8" cy="94.3" rx="30.0" ry="16.0" fill="#e2391a" filter="url(#bl3)" opacity="1"/>
<ellipse cx="776.8" cy="91.3" rx="14.0" ry="6.0" fill="#c42414" filter="url(#bl2)" opacity="1"/>
<ellipse cx="794.8" cy="96.3" rx="6.0" ry="10.0" fill="#f5801c" filter="url(#bl2)" opacity="1"/>
<ellipse cx="802.8" cy="97.3" rx="5.0" ry="10.0" fill="#f8c828" filter="url(#bl2)" opacity="1"/>
<rect x="799.1" y="98.5" width="8.5" height="128.1" fill="#a2d6f5"/>
<ellipse cx="805.3" cy="131.2" rx="2.2" ry="14.0" fill="#2a62d8" filter="url(#bl2)" opacity="1"/>
<ellipse cx="799.8" cy="148.2" rx="3.5" ry="13.0" fill="#f7a21e" filter="url(#bl2)" opacity="1"/>
<ellipse cx="801.3" cy="162.2" rx="3.5" ry="6.0" fill="#f6ea62" filter="url(#bl2)" opacity="1"/>
</g>
<clipPath id="lk9"><rect x="640.00" y="102.50" width="158.66" height="128.10"/></clipPath>
<g clip-path="url(#lk9)">
<rect x="640.00" y="102.50" width="158.66" height="128.10" fill="#a2d6f5"/>
<ellipse cx="700.0" cy="107.2" rx="25.0" ry="5.0" fill="#8cc4f0" filter="url(#bl2)" opacity="1"/>
<rect x="790.1" y="114.8" width="8.5" height="58.0" fill="#e2391a"/>
<ellipse cx="794.4" cy="172.5" rx="7.0" ry="9.0" fill="#f7a21e" filter="url(#bl2)" opacity="1"/>
<ellipse cx="794.4" cy="186.5" rx="7.0" ry="7.0" fill="#f6ea62" filter="url(#bl2)" opacity="1"/>
<ellipse cx="793.4" cy="132.5" rx="3.0" ry="14.0" fill="#b81a12" filter="url(#bl2)" opacity="1"/>
</g>
<clipPath id="lk8"><rect x="631.30" y="112.00" width="158.52" height="128.10"/></clipPath>
<g clip-path="url(#lk8)">
<rect x="631.30" y="112.00" width="158.52" height="128.10" fill="#841010"/>
<ellipse cx="706.3" cy="121.6" rx="20.0" ry="5.0" fill="#2a30c8" filter="url(#bl2)" opacity="1"/>
</g>
<clipPath id="lk7"><rect x="623.00" y="127.20" width="158.38" height="128.10"/></clipPath>
<g clip-path="url(#lk7)">
<rect x="623.00" y="127.20" width="158.38" height="128.10" fill="#e2281c"/>
<ellipse cx="631.0" cy="132.4" rx="12.0" ry="8.0" fill="#f5ee60" filter="url(#bl2)" opacity="1"/>
<ellipse cx="651.0" cy="134.4" rx="10.0" ry="5.0" fill="#7fe0e8" filter="url(#bl2)" opacity="1"/>
<ellipse cx="668.0" cy="132.4" rx="8.0" ry="8.0" fill="#f3c030" filter="url(#bl2)" opacity="1"/>
<ellipse cx="723.0" cy="132.4" rx="22.0" ry="8.0" fill="#9c1412" filter="url(#bl3)" opacity="1"/>
<path d="M739.0 132.2 l6 -3 l8 1 l6 -2 l7 3 l-3 6 l-8 3 l-9 -1 l-5 -3z" fill="#fff"/>
<rect x="772.9" y="139.5" width="8.5" height="128.1" fill="#fff"/>
<ellipse cx="777.1" cy="245.2" rx="6.0" ry="12.0" fill="#e02418" filter="url(#bl2)" opacity="1"/>
<ellipse cx="775.1" cy="223.2" rx="3.0" ry="6.0" fill="#f3c8c0" filter="url(#bl2)" opacity="1"/>
</g>
<clipPath id="lk6"><rect x="615.50" y="137.60" width="158.24" height="128.10"/></clipPath>
<g clip-path="url(#lk6)">
<rect x="615.50" y="137.60" width="158.24" height="128.10" fill="#a2d6f5"/>
<ellipse cx="621.5" cy="143.4" rx="12.0" ry="8.0" fill="#d8261a" filter="url(#bl2)" opacity="1"/>
<ellipse cx="641.5" cy="143.4" rx="12.0" ry="8.0" fill="#f5801c" filter="url(#bl2)" opacity="1"/>
<ellipse cx="663.5" cy="143.4" rx="14.0" ry="7.0" fill="#f5e95c" filter="url(#bl3)" opacity="1"/>
<ellipse cx="753.5" cy="146.4" rx="14.0" ry="4.5" fill="#2f6fe0" filter="url(#bl2)" opacity="1"/>
<ellipse cx="769.5" cy="159.6" rx="4.0" ry="8.0" fill="#f4ea6a" filter="url(#bl2)" opacity="1"/>
<ellipse cx="769.5" cy="203.6" rx="4.0" ry="9.0" fill="#f4ea6a" filter="url(#bl2)" opacity="1"/>
<ellipse cx="769.5" cy="237.6" rx="4.0" ry="14.0" fill="#8cc2f2" filter="url(#bl2)" opacity="1"/>
</g>
<clipPath id="lk5"><rect x="607.00" y="149.20" width="158.10" height="128.10"/></clipPath>
<g clip-path="url(#lk5)">
<rect x="607.00" y="149.20" width="158.10" height="128.10" fill="#a2d6f5"/>
<ellipse cx="637.0" cy="155.1" rx="25.0" ry="5.0" fill="#c4e6fa" filter="url(#bl2)" opacity="1"/>
<ellipse cx="760.8" cy="254.2" rx="6.0" ry="24.0" fill="#3f7fe6" filter="url(#bl3)" opacity="1"/>
<ellipse cx="760.8" cy="199.2" rx="3.0" ry="6.0" fill="#c4e6fa" filter="url(#bl2)" opacity="0.8"/>
</g>
<clipPath id="lk4"><rect x="599.30" y="160.90" width="157.96" height="128.10"/></clipPath>
<g clip-path="url(#lk4)">
<rect x="599.30" y="160.90" width="157.96" height="128.10" fill="#841010"/>
</g>
<clipPath id="lk3"><rect x="590.60" y="174.60" width="157.82" height="128.10"/></clipPath>
<g clip-path="url(#lk3)">
<rect x="590.60" y="174.60" width="157.82" height="128.10" fill="#a2d6f5"/>
<ellipse cx="604.6" cy="180.8" rx="16.0" ry="7.0" fill="#f6e650" filter="url(#bl2)" opacity="1"/>
<ellipse cx="630.6" cy="182.8" rx="10.0" ry="5.0" fill="#f8f0a0" filter="url(#bl2)" opacity="1"/>
<ellipse cx="685.6" cy="180.8" rx="14.0" ry="5.0" fill="#7fb8ee" filter="url(#bl2)" opacity="1"/>
<ellipse cx="744.2" cy="222.6" rx="4.0" ry="9.0" fill="#f4e85c" filter="url(#bl2)" opacity="1"/>
<ellipse cx="744.2" cy="274.6" rx="5.0" ry="16.0" fill="#5f9eea" filter="url(#bl3)" opacity="1"/>
</g>
<clipPath id="lk2"><rect x="581.90" y="187.10" width="157.68" height="128.10"/></clipPath>
<g clip-path="url(#lk2)">
<rect x="581.90" y="187.10" width="157.68" height="128.10" fill="#a2d6f5"/>
<ellipse cx="631.9" cy="192.2" rx="40.0" ry="5.0" fill="#b4def8" filter="url(#bl2)" opacity="1"/>
<ellipse cx="735.3" cy="287.1" rx="5.0" ry="22.0" fill="#5f9eea" filter="url(#bl3)" opacity="1"/>
</g>
<clipPath id="lk1"><rect x="573.90" y="197.30" width="157.54" height="128.10"/></clipPath>
<g clip-path="url(#lk1)">
<rect x="573.90" y="197.30" width="157.54" height="128.10" fill="#841010"/>
</g>
<clipPath id="lk0"><rect x="565.30" y="209.20" width="157.40" height="128.10"/></clipPath>
<g clip-path="url(#lk0)">
<rect x="565.30" y="209.20" width="157.40" height="128.10" fill="#a2d6f5"/>
<ellipse cx="605.3" cy="254.2" rx="45.0" ry="25.0" fill="#b4e0f8" filter="url(#bl6)" opacity="0.9"/>
<ellipse cx="675.3" cy="304.2" rx="35.0" ry="28.0" fill="#86c2ee" filter="url(#bl6)" opacity="0.9"/>
<ellipse cx="595.3" cy="319.2" rx="30.0" ry="15.0" fill="#8fcaf1" filter="url(#bl6)" opacity="0.8"/>
<ellipse cx="705.3" cy="269.2" rx="20.0" ry="30.0" fill="#b9e2f7" filter="url(#bl6)" opacity="0.8"/>
<ellipse cx="657.3" cy="327.2" rx="6.0" ry="8.0" fill="#5f9fe4" filter="url(#bl3)" opacity="0.8"/>
<ellipse cx="580.3" cy="216.2" rx="9.0" ry="3.5" fill="#f2ee7a" filter="url(#bl2)" opacity="0.95"/>
<ellipse cx="693.3" cy="248.2" rx="4.5" ry="4.5" fill="#f5ef80" filter="url(#bl2)" opacity="1"/>
<ellipse cx="704.3" cy="271.2" rx="5.5" ry="4.5" fill="#f5ef80" filter="url(#bl2)" opacity="1"/>
<ellipse cx="719.3" cy="249.2" rx="5.0" ry="10.0" fill="#f5ef90" filter="url(#bl2)" opacity="1"/>
<g stroke="#4b5f6b" stroke-width="0.5" opacity="0.55">
<line x1="608.8" y1="209.2" x2="608.8" y2="337.3"/>
<line x1="645.7" y1="209.2" x2="645.7" y2="337.3"/>
<line x1="565.3" y1="230.5" x2="722.9" y2="230.5"/>
<line x1="565.3" y1="268.5" x2="722.9" y2="268.5"/>
<line x1="565.3" y1="306.1" x2="722.9" y2="306.1"/>
</g>
<g fill="none" stroke="#1a2a33" stroke-width="0.6" stroke-linejoin="round">
<path d="M565.2 300.9 L568.2 306.8 L570.6 315.0 L574.1 323.2 L576.4 319.7 L579.9 310.3 L583.5 306.8 L589.3 303.3 L595.2 296.2 L602.2 290.4 L610.5 288.0 L615.2 292.7 L617.5 300.9 L622.2 304.4 L626.9 303.3 L630.4 310.3 L631.6 318.5 L634.6 326.7 L638.6 332.6 L642.6 337.3"/>
<path d="M582.3 322.0 L585.3 319.7 L587.7 324.4 L585.8 328.6 L583.0 326.7 L582.3 322.0"/>
<path d="M630.4 310.3 L635.1 312.2 L638.6 317.3 L637.4 324.4 L641.0 330.3 L642.6 333.8"/>
<path d="M647.3 297.4 L650.4 292.7 L655.0 290.4 L659.7 289.9 L664.4 288.7 L670.3 287.3 L676.2 284.5 L680.9 281.0 L684.4 275.6 L686.3 270.4 L687.9 264.5 L686.7 258.7 L683.9 254.0 L682.0 249.8 L680.2 246.5 L683.2 244.1 L686.7 242.7 L689.5 244.6 L688.6 248.1 L691.4 249.8 L694.9 248.1 L698.5 246.9 L700.8 249.8 L703.6 254.4 L707.4 253.5 L710.2 248.1 L707.4 243.4 L704.3 241.8 L709.0 238.7 L713.7 235.2 L717.7 234.0 L721.9 232.9"/>
<path d="M647.3 297.4 L649.2 303.3 L653.9 306.8 L656.7 312.6 L655.0 318.5 L650.4 322.0 L647.3 320.9 L648.0 326.7"/>
<path d="M656.2 293.4 L659.7 292.0 L661.4 295.0 L658.6 297.4 L656.2 296.2 L656.2 293.4"/>
<path d="M686.7 281.0 L689.1 280.3 L688.6 285.7 L686.3 288.0 L685.6 284.5 L686.7 281.0"/>
<path d="M686.7 298.1 L690.3 297.4 L689.5 303.3 L691.4 308.0 L687.9 307.5 L685.6 303.3 L686.7 298.1"/>
<path d="M687.9 308.4 L691.4 309.1 L694.2 310.3 L691.4 311.5 L688.6 310.3"/>
<path d="M691.4 323.9 L696.1 322.0 L699.6 320.9 L700.8 325.6 L698.5 329.5 L694.9 327.9 L692.6 329.1 L690.3 326.7 L691.4 323.9"/>
<path d="M713.7 255.9 L717.7 254.0 L721.5 253.5 L719.6 256.3 L714.9 257.7 L712.5 257.0"/>
<path d="M622.2 331.4 L628.1 330.3 L635.1 332.6 L641.0 336.1 L642.1 337.3"/>
<path d="M666.8 337.3 L672.6 333.8 L678.5 330.3 L682.0 331.4 L680.9 334.9 L677.3 337.3"/>
</g>
</g>
<g stroke="#4a4a4a" stroke-width="0.6" fill="none">
<line x1="565.3" y1="209.2" x2="675.0" y2="48.9"/>
<line x1="722.7" y1="209.2" x2="834.2" y2="48.9"/>
<line x1="722.7" y1="337.3" x2="834.2" y2="177.0"/>
<rect x="565.3" y="209.2" width="157.4" height="128.1" stroke="#5a6a74" stroke-width="0.5"/>
</g>
<text class="ls" x="651.7" y="219.4" font-size="14.5" text-anchor="middle" fill="#1d2a33">1000-v</text>
<text class="ls" x="658.3" y="206.8" font-size="14.5" text-anchor="middle" fill="#f3dede">850-sh</text>
<text class="ls" x="665.4" y="195.8" font-size="14.5" text-anchor="middle" fill="#1d2a33">850-u</text>
<text class="ls" x="673.7" y="183.6" font-size="14.5" text-anchor="middle" fill="#1d2a33">850-v</text>
<text class="ls" x="681.9" y="170.5" font-size="14.5" text-anchor="middle" fill="#fff">500-sh</text>
<text class="ls" x="687.4" y="158.9" font-size="14.5" text-anchor="middle" fill="#1d2a33">500-u</text>
<text class="ls" x="698.4" y="146.8" font-size="14.5" text-anchor="middle" fill="#1d2a33">500-v</text>
<text class="ls" x="703.4" y="135.2" font-size="14.5" text-anchor="middle" fill="#8a1a1a">elevation</text>
<text class="ls" x="711.6" y="121.5" font-size="14.5" text-anchor="middle" fill="#efe6f7">precipitation</text>
<text class="ls" x="718.8" y="109.4" font-size="14.5" text-anchor="middle" fill="#234">surface-v</text>
<text class="ls" x="726.0" y="96.1" font-size="14.5" text-anchor="middle" fill="#3a2a10">surface-u</text>
<text class="ls" x="738.0" y="83.6" font-size="14.5" text-anchor="middle" fill="#4a4a10">pressure</text>
<text class="ls" x="750.0" y="71.9" font-size="14.5" text-anchor="middle" fill="#fff">1000-sh</text>
<text class="ls" x="756.0" y="59.8" font-size="14.5" text-anchor="middle" fill="#1d2a33">1000-u</text>
<line x1="823.5" y1="198" x2="850" y2="198" stroke="#4a74b0" stroke-width="2.2"/><polygon points="858,198 849,193.5 849,202.5" fill="#4a74b0"/>
<!-- p_cnn -->
<defs><linearGradient id="sg1" x1="0" y1="0" x2="1" y2="1"><stop offset="0" stop-color="#8fb0d6"/><stop offset="1" stop-color="#6f8fb8"/></linearGradient></defs>
<polygon points="861.6,155.4 898,119 1007.6,119 971.2,155.4" fill="#a8cbea" stroke="#111" stroke-width="2" stroke-linejoin="round"/>
<polygon points="971.2,155.4 1007.6,119 1007.6,228.2 971.2,264.6" fill="url(#sg1)" stroke="#111" stroke-width="2" stroke-linejoin="round"/>
<rect x="861.6" y="155.4" width="109.6" height="109.2" fill="#9dc3e6" stroke="#111" stroke-width="2"/>
<line x1="884" y1="155.4" x2="884" y2="264.6" stroke="#111" stroke-width="1.6"/>
<line x1="904.4" y1="155.4" x2="904.4" y2="264.6" stroke="#111" stroke-width="1.6"/>
<line x1="925.3" y1="155.4" x2="925.3" y2="264.6" stroke="#111" stroke-width="1.6"/>
<line x1="947.1" y1="155.4" x2="947.1" y2="264.6" stroke="#111" stroke-width="1.6"/>
<line x1="861.6" y1="179.8" x2="971.2" y2="179.8" stroke="#111" stroke-width="1.6"/>
<line x1="861.6" y1="202.6" x2="971.2" y2="202.6" stroke="#111" stroke-width="1.6"/>
<line x1="861.6" y1="224.5" x2="971.2" y2="224.5" stroke="#111" stroke-width="1.6"/>
<line x1="861.6" y1="246.3" x2="971.2" y2="246.3" stroke="#111" stroke-width="1.6"/>
<text class="ts" x="872" y="132.5" font-size="16" text-anchor="middle" transform="rotate(-45 872 127.5)">14</text>
<text class="ts" x="977.5" y="213" font-size="17" text-anchor="middle">5</text>
<text class="ts" x="913" y="283" font-size="17" text-anchor="middle">5</text>
<text class="mono" x="981" y="109" font-size="19" fill="#b8665c" textLength="125.5" lengthAdjust="spacingAndGlyphs">Conv 32×3×3</text>
<line x1="1015" y1="197.4" x2="1039.5" y2="197.4" stroke="#c4201c" stroke-width="3.4"/><polygon points="1049.5,197.4 1038.5,192.4 1038.5,202.4" fill="#c4201c"/>
<polygon points="1054.9,163.4 1076.3,140.1 1147.1,140.1 1125.7,163.4" fill="#a8cbea" stroke="#111" stroke-width="1.9" stroke-linejoin="round"/>
<polygon points="1125.7,163.4 1147.1,140.1 1147.1,209 1125.7,232.3" fill="url(#sg1)" stroke="#111" stroke-width="1.9" stroke-linejoin="round"/>
<rect x="1054.9" y="163.4" width="70.8" height="68.9" fill="#9dc3e6" stroke="#111" stroke-width="1.9"/>
<line x1="1074.8" y1="163.4" x2="1074.8" y2="232.3" stroke="#111" stroke-width="1.52"/>
<line x1="1101" y1="163.4" x2="1101" y2="232.3" stroke="#111" stroke-width="1.52"/>
<line x1="1054.9" y1="186.2" x2="1125.7" y2="186.2" stroke="#111" stroke-width="1.52"/>
<line x1="1054.9" y1="209" x2="1125.7" y2="209" stroke="#111" stroke-width="1.52"/>
<text class="ts" x="1058.5" y="149.5" font-size="16" text-anchor="middle" transform="rotate(-45 1058.5 144.5)">32</text>
<text class="ts" x="1131" y="199" font-size="17" text-anchor="middle">3</text>
<text class="ts" x="1087" y="251.5" font-size="17" text-anchor="middle">3</text>
<line x1="1089.4" y1="275.5" x2="1089.4" y2="301" stroke="#1fa055" stroke-width="3.6"/><polygon points="1089.4,311.5 1083.6,300 1095.2,300" fill="#1fa055"/>
<text class="mono" x="939" y="302" font-size="19" fill="#72bd90" textLength="125.5" lengthAdjust="spacingAndGlyphs">Conv 16×3×3</text>
<polygon points="1073.8,335.1 1082,326.8 1104,326.8 1095.8,335.1" fill="#a8cbea" stroke="#111" stroke-width="1.8" stroke-linejoin="round"/>
<polygon points="1095.8,335.1 1104,326.8 1104,350.1 1095.8,358.4" fill="url(#sg1)" stroke="#111" stroke-width="1.8" stroke-linejoin="round"/>
<rect x="1073.8" y="335.1" width="22" height="23.3" fill="#9dc3e6" stroke="#111" stroke-width="1.8"/>
<rect x="1098.6" y="338" width="2.4" height="12" fill="#5f7fa8" stroke="#222" stroke-width="0.5"/>
<text class="ts" x="1067" y="331.5" font-size="15.5" text-anchor="middle" transform="rotate(-45 1067 327)">16</text>
<text class="ts" x="1084" y="374.5" font-size="17" text-anchor="middle">1</text>
<line x1="1089.4" y1="379" x2="1089.4" y2="401" stroke="#4a74b0" stroke-width="2.8"/><polygon points="1089.4,411 1084.2,400 1094.6,400" fill="#4a74b0"/>
<!-- p_lstm -->
<rect x="1017.4" y="438.6" width="136.4" height="26.3" fill="#9dc3e6" stroke="#2f4b78" stroke-width="1.5"/>
<line x1="1040.1" y1="438.6" x2="1040.1" y2="464.9" stroke="#17202e" stroke-width="1.4"/>
<line x1="1062.9" y1="438.6" x2="1062.9" y2="464.9" stroke="#17202e" stroke-width="1.4"/>
<line x1="1085.6" y1="438.6" x2="1085.6" y2="464.9" stroke="#17202e" stroke-width="1.4"/>
<line x1="1108.3" y1="438.6" x2="1108.3" y2="464.9" stroke="#17202e" stroke-width="1.4"/>
<line x1="1131.1" y1="438.6" x2="1131.1" y2="464.9" stroke="#17202e" stroke-width="1.4"/>
<text class="ts" x="1085.8" y="438.3" font-size="18.5" text-anchor="middle">16</text>
<text class="ts" x="987.6" y="458.8" font-size="19.5" text-anchor="middle">t</text>
<rect x="1017.4" y="490" width="136.4" height="26.3" fill="#9dc3e6" stroke="#2f4b78" stroke-width="1.5"/>
<line x1="1040.1" y1="490" x2="1040.1" y2="516.3" stroke="#17202e" stroke-width="1.4"/>
<line x1="1062.9" y1="490" x2="1062.9" y2="516.3" stroke="#17202e" stroke-width="1.4"/>
<line x1="1085.6" y1="490" x2="1085.6" y2="516.3" stroke="#17202e" stroke-width="1.4"/>
<line x1="1108.3" y1="490" x2="1108.3" y2="516.3" stroke="#17202e" stroke-width="1.4"/>
<line x1="1131.1" y1="490" x2="1131.1" y2="516.3" stroke="#17202e" stroke-width="1.4"/>
<text class="ts" x="1085.8" y="489.7" font-size="18.5" text-anchor="middle">16</text>
<text class="ts" x="983.8" y="510.3" font-size="19.5" text-anchor="middle">t-1</text>
<rect x="1017.4" y="542.9" width="136.4" height="26.3" fill="#9dc3e6" stroke="#2f4b78" stroke-width="1.5"/>
<line x1="1040.1" y1="542.9" x2="1040.1" y2="569.2" stroke="#17202e" stroke-width="1.4"/>
<line x1="1062.9" y1="542.9" x2="1062.9" y2="569.2" stroke="#17202e" stroke-width="1.4"/>
<line x1="1085.6" y1="542.9" x2="1085.6" y2="569.2" stroke="#17202e" stroke-width="1.4"/>
<line x1="1108.3" y1="542.9" x2="1108.3" y2="569.2" stroke="#17202e" stroke-width="1.4"/>
<line x1="1131.1" y1="542.9" x2="1131.1" y2="569.2" stroke="#17202e" stroke-width="1.4"/>
<text class="ts" x="1085.8" y="542.6" font-size="18.5" text-anchor="middle">16</text>
<text class="ts" x="985" y="563" font-size="19.5" text-anchor="middle">t-2</text>
<rect x="873.1" y="418.9" width="35.9" height="68.1" rx="5.5" fill="#4472c4" stroke="#2f5597" stroke-width="1"/>
<text class="ts" x="891" y="458.25" font-size="16" text-anchor="middle" fill="#fff" style="fill:#fff" transform="rotate(-90 891 452.95)">LSTM</text>
<rect x="873.1" y="517.6" width="35.9" height="69.1" rx="5.5" fill="#4472c4" stroke="#2f5597" stroke-width="1"/>
<text class="ts" x="891" y="557.45" font-size="16" text-anchor="middle" fill="#fff" style="fill:#fff" transform="rotate(-90 891 552.15)">LSTM</text>
<line x1="949.5" y1="453.2" x2="923.5" y2="453.2" stroke="#4a74b0" stroke-width="3.3"/><polygon points="912.5,453.2 924.5,447.4 924.5,459" fill="#4a74b0"/>
<line x1="949.5" y1="550.3" x2="923.5" y2="550.3" stroke="#4a74b0" stroke-width="3.3"/><polygon points="912.5,550.3 924.5,544.5 924.5,556.1" fill="#4a74b0"/>
<line x1="873" y1="451.7" x2="845.2" y2="451.7" stroke="#4a74b0" stroke-width="3.3"/><polygon points="834.2,451.7 846.2,445.9 846.2,457.5" fill="#4a74b0"/>
<line x1="873" y1="547.7" x2="845.2" y2="547.7" stroke="#4a74b0" stroke-width="3.3"/><polygon points="834.2,547.7 846.2,541.9 846.2,553.5" fill="#4a74b0"/>
<line x1="890.8" y1="418.9" x2="890.8" y2="398.8" stroke="#4a74b0" stroke-width="3.3"/><polygon points="890.8,387.8 885,399.8 896.6,399.8" fill="#4a74b0"/>
<line x1="890.8" y1="517.6" x2="890.8" y2="498.5" stroke="#4a74b0" stroke-width="3.3"/><polygon points="890.8,487.5 885,499.5 896.6,499.5" fill="#4a74b0"/>
<line x1="890.8" y1="618" x2="890.8" y2="598" stroke="#4a74b0" stroke-width="3.3"/><polygon points="890.8,587 885,599 896.6,599" fill="#4a74b0"/>
<polyline points="890.8,406.5 858.6,406.5 858.6,438" fill="none" stroke="#4a74b0" stroke-width="3"/>
<polygon points="858.6,448 853.1,436 864.1,436" fill="#4a74b0"/>
<polyline points="890.8,505.1 858.6,505.1 858.6,535.1" fill="none" stroke="#4a74b0" stroke-width="3"/>
<polygon points="858.6,545.1 853.1,533.1 864.1,533.1" fill="#4a74b0"/>
<rect x="752.7" y="414.8" width="40.7" height="158" fill="#9dc3e6"/>
<rect x="627.2" y="414.8" width="41" height="158" fill="#9dc3e6"/>
<text class="ts" font-size="19" text-anchor="middle" textLength="126.6" lengthAdjust="spacingAndGlyphs" transform="translate(779.1 493.4) rotate(-90)">Fully Connected</text>
<text class="ts" font-size="19" transform="translate(654.7 553) rotate(-90)"><tspan textLength="52" lengthAdjust="spacingAndGlyphs">Output</tspan> <tspan dx="11.5" textLength="44.5" lengthAdjust="spacingAndGlyphs">Layer</tspan></text>
<line x1="724.4" y1="493.1" x2="698.6" y2="493.1" stroke="#4a74b0" stroke-width="3.3"/><polygon points="687.6,493.1 699.6,487.3 699.6,498.9" fill="#4a74b0"/>
</svg>
</body></html>
